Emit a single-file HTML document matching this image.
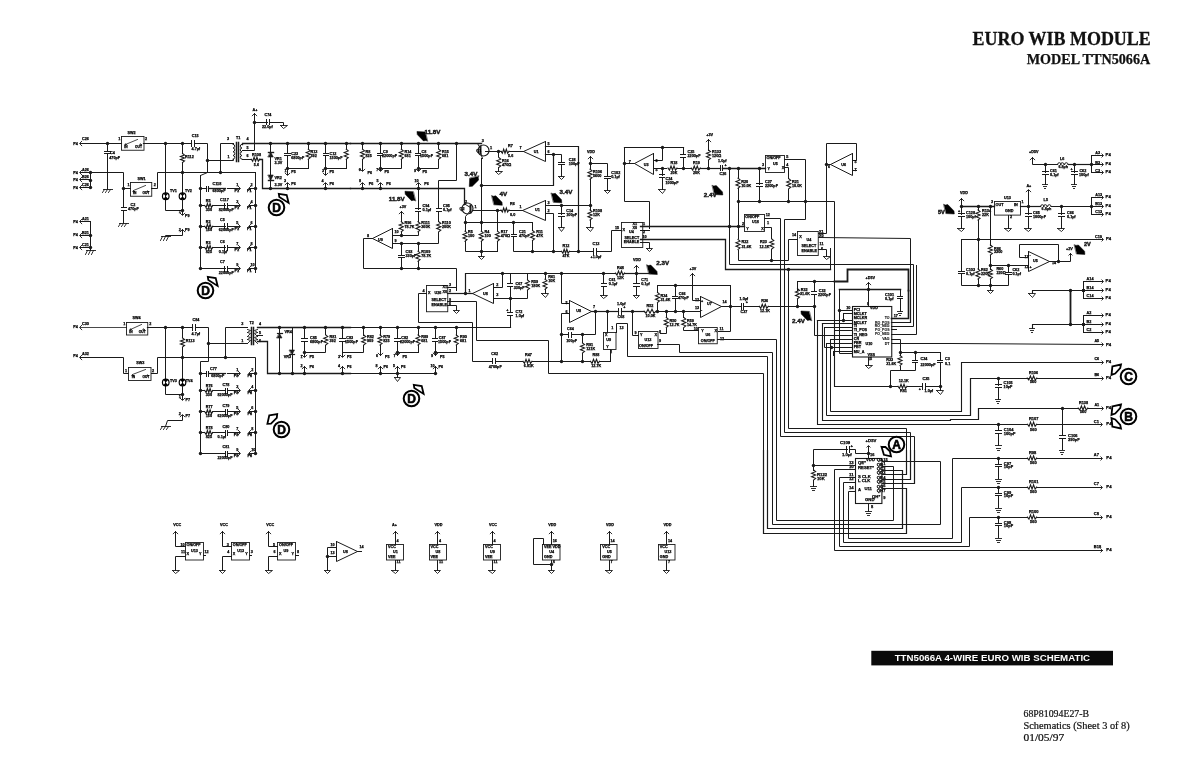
<!DOCTYPE html>
<html><head><meta charset="utf-8"><style>
html,body{margin:0;padding:0;background:#fff;}
body{width:1200px;height:774px;overflow:hidden;position:relative;}
svg{position:absolute;left:0;top:0;will-change:transform;}
.l{font-family:"Liberation Sans",sans-serif;font-weight:bold;fill:#000;stroke:#000;stroke-width:0.25px;}
</style></head><body>
<svg width="1200" height="774" viewBox="0 0 1200 774" stroke-linecap="square">
<text x="73.25" y="144.5" class="l" font-size="3.75">P4</text>
<text x="82" y="140" class="l" font-size="3.75">C26</text>
<path d="M81.75 141.25 L79.5 143.5 L81.75 145.75" stroke="#1a1a1a" stroke-width="0.9" fill="none"/>
<path d="M80.5 143.5 L121.5 143.5" stroke="#1a1a1a" stroke-width="1.1" fill="none"/>
<text x="127.5" y="133.75" class="l" font-size="3.75">SW2</text>
<text x="118.25" y="140" class="l" font-size="3.75">1</text>
<text x="145" y="140" class="l" font-size="3.75">2</text>
<rect x="121.5" y="136.5" width="22.5" height="13.75" stroke="#1a1a1a" stroke-width="0.9" fill="none"/>
<path d="M125.5 144.5 L137.5 139.5" stroke="#1a1a1a" stroke-width="0.8" fill="none"/>
<circle cx="125.5" cy="144.5" r="0.75" stroke="#1a1a1a" stroke-width="0.7" fill="none"/>
<circle cx="140.5" cy="144.5" r="0.75" stroke="#1a1a1a" stroke-width="0.7" fill="none"/>
<text x="124.25" y="148" class="l" font-size="3.25">IN</text>
<text x="135" y="148" class="l" font-size="3.25">OUT</text>
<path d="M143.5 143.5 L191.5 143.5" stroke="#1a1a1a" stroke-width="1.2" fill="none"/>
<circle cx="107.5" cy="143.5" r="1.7" fill="#1a1a1a"/>
<circle cx="165.5" cy="143.5" r="1.7" fill="#1a1a1a"/>
<circle cx="182.5" cy="143.5" r="1.7" fill="#1a1a1a"/>
<path d="M191.5 140.5 L191.5 146.5" stroke="#1a1a1a" stroke-width="1" fill="none"/>
<path d="M194.5 140.5 L194.5 146.5" stroke="#1a1a1a" stroke-width="1" fill="none"/>
<text x="191.75" y="137" class="l" font-size="3.75">C15</text>
<text x="191.5" y="150" class="l" font-size="3.75">4.7µf</text>
<path d="M194.5 143.5 L207.5 143.5 L207.5 172.5 L200.5 175.5" stroke="#1a1a1a" stroke-width="1" fill="none"/>
<path d="M200.5 175.5 L200.5 268.5" stroke="#1a1a1a" stroke-width="1" fill="none"/>
<circle cx="207.5" cy="160.5" r="1.7" fill="#1a1a1a"/>
<text x="227" y="140" class="l" font-size="3.75">3</text>
<text x="227.5" y="157.5" class="l" font-size="3.75">1</text>
<text x="236" y="138.75" class="l" font-size="3.75">T1</text>
<path d="M233.5 143.5 L220.5 143.5 L220.5 172.5" stroke="#1a1a1a" stroke-width="1" fill="none"/>
<path d="M233 144.25 a1.88 1.88 0 0 1 0 3.75 a1.88 1.88 0 0 1 0 3.75 a1.88 1.88 0 0 1 0 3.75 a1.88 1.88 0 0 1 0 3.75" stroke="#1a1a1a" stroke-width="1" fill="none"/>
<path d="M233.5 159.5 L233.5 160.5 L207.5 160.5" stroke="#1a1a1a" stroke-width="1" fill="none"/>
<path d="M236.5 142.5 L236.5 161.5" stroke="#1a1a1a" stroke-width="1.5" fill="none"/>
<path d="M238.5 142.5 L238.5 161.5" stroke="#1a1a1a" stroke-width="1.5" fill="none"/>
<path d="M242 144.25 a1.88 1.88 0 0 0 0 3.75 a1.88 1.88 0 0 0 0 3.75 a1.88 1.88 0 0 0 0 3.75 a1.88 1.88 0 0 0 0 3.75" stroke="#1a1a1a" stroke-width="1" fill="none"/>
<text x="246.5" y="140" class="l" font-size="3.75">4</text>
<text x="246.5" y="149" class="l" font-size="3.75">5</text>
<text x="246.5" y="157" class="l" font-size="3.75">6</text>
<path d="M242.5 144.5 L242.5 143.5 L350.5 143.5" stroke="#1a1a1a" stroke-width="1.3" fill="none"/>
<path d="M242.5 150.5 L254.5 150.5 L254.5 113.5" stroke="#1a1a1a" stroke-width="1" fill="none"/>
<path d="M252.25 115.75 L254.5 113.5 L256.75 115.75" stroke="#1a1a1a" stroke-width="0.9" fill="none"/>
<text x="252.5" y="110.5" class="l" font-size="3.75">A+</text>
<circle cx="254.5" cy="122.5" r="1.7" fill="#1a1a1a"/>
<path d="M254.5 122.5 L267.5 122.5" stroke="#1a1a1a" stroke-width="1" fill="none"/>
<path d="M266.5 119.5 L266.5 124.5" stroke="#1a1a1a" stroke-width="1" fill="none"/>
<path d="M269.5 119.5 L269.5 124.5" stroke="#1a1a1a" stroke-width="1" fill="none"/>
<text x="264.5" y="116.25" class="l" font-size="3.75">C74</text>
<text x="262" y="128" class="l" font-size="3.75">22.0µf</text>
<path d="M269.5 122.5 L283.5 122.5 L283.5 125.5" stroke="#1a1a1a" stroke-width="1" fill="none"/>
<path d="M280.5 125.5 L287.5 125.5 L283.5 128.5 L280.5 125.5" stroke="#1a1a1a" stroke-width="0.9" fill="none"/>
<circle cx="270.5" cy="143.5" r="1.7" fill="#1a1a1a"/>
<circle cx="287.5" cy="143.5" r="1.7" fill="#1a1a1a"/>
<circle cx="308.5" cy="143.5" r="1.7" fill="#1a1a1a"/>
<circle cx="325.5" cy="143.5" r="1.7" fill="#1a1a1a"/>
<circle cx="346.5" cy="143.5" r="1.7" fill="#1a1a1a"/>
<path d="M242.5 159.5 L251.5 159.5" stroke="#1a1a1a" stroke-width="1" fill="none"/>
<path d="M251.25 159.25 L252.67 161.25 L254.08 157.25 L255.5 161.25 L256.92 157.25 L258.33 161.25 L259.75 159.25" stroke="#1a1a1a" stroke-width="1.1" fill="none"/>
<text x="252" y="155.5" class="l" font-size="3.75">R108</text>
<text x="253.75" y="165.5" class="l" font-size="3.75">5.6</text>
<path d="M259.5 159.5 L262.5 159.5 L262.5 188.5 L350.5 188.5" stroke="#1a1a1a" stroke-width="1.3" fill="none"/>
<path d="M270.5 143.5 L270.5 188.5" stroke="#1a1a1a" stroke-width="1" fill="none"/>
<polygon points="268.25,157 273.25,157 270.75,152.25" fill="#1a1a1a" stroke="#1a1a1a" stroke-width="0.6"/>
<path d="M268.5 152.5 L273.5 152.5" stroke="#1a1a1a" stroke-width="1.4" fill="none"/>
<polygon points="268.25,175 273.25,175 270.75,180.25" fill="#1a1a1a" stroke="#1a1a1a" stroke-width="0.6"/>
<path d="M268.5 180.5 L273.5 180.5" stroke="#1a1a1a" stroke-width="1.4" fill="none"/>
<text x="274.5" y="159.5" class="l" font-size="3.75">VR1</text>
<text x="274.5" y="164" class="l" font-size="3.75">3.3V</text>
<text x="274.5" y="179" class="l" font-size="3.75">VR2</text>
<text x="274.5" y="186.25" class="l" font-size="3.75">3.3V</text>
<circle cx="270.5" cy="188.5" r="1.7" fill="#1a1a1a"/>
<path d="M287.5 143.5 L287.5 153.5" stroke="#1a1a1a" stroke-width="1" fill="none"/>
<path d="M284.5 153.5 L290.5 153.5" stroke="#1a1a1a" stroke-width="1" fill="none"/>
<path d="M284.5 155.5 L290.5 155.5" stroke="#1a1a1a" stroke-width="1" fill="none"/>
<path d="M287.5 155.5 L287.5 168.5" stroke="#1a1a1a" stroke-width="1" fill="none"/>
<text x="291.25" y="155" class="l" font-size="3.75">C23</text>
<text x="291.25" y="159" class="l" font-size="3.75">6800pF</text>
<path d="M308.5 143.5 L308.5 148.5" stroke="#1a1a1a" stroke-width="1" fill="none"/>
<path d="M308.25 149.25 L310.25 150.92 L306.25 152.58 L310.25 154.25 L306.25 155.92 L310.25 157.58 L308.25 159.25" stroke="#1a1a1a" stroke-width="1.1" fill="none"/>
<path d="M308.5 159.5 L308.5 168.5" stroke="#1a1a1a" stroke-width="1" fill="none"/>
<text x="310.5" y="152.5" class="l" font-size="3.75">R13</text>
<text x="310.5" y="157" class="l" font-size="3.75">392</text>
<path d="M287.5 168.5 L308.5 168.5" stroke="#1a1a1a" stroke-width="1" fill="none"/>
<circle cx="287.5" cy="168.5" r="1.7" fill="#1a1a1a"/>
<path d="M287.5 168.5 L287.5 174.5" stroke="#1a1a1a" stroke-width="1" fill="none"/>
<path d="M285.25 173.25 L287.5 175.5 L289.75 173.25" stroke="#1a1a1a" stroke-width="0.9" fill="none"/>
<text x="284.5" y="172" class="l" font-size="3.75">1</text>
<text x="291.25" y="173" class="l" font-size="3.75">P5</text>
<path d="M285.25 184.75 L287.5 182.5 L289.75 184.75" stroke="#1a1a1a" stroke-width="0.9" fill="none"/>
<path d="M287.5 183.5 L287.5 188.5" stroke="#1a1a1a" stroke-width="1" fill="none"/>
<circle cx="287.5" cy="188.5" r="1.7" fill="#1a1a1a"/>
<text x="284" y="181.5" class="l" font-size="3.75">3</text>
<text x="291.25" y="184.5" class="l" font-size="3.75">P6</text>
<path d="M325.5 143.5 L325.5 153.5" stroke="#1a1a1a" stroke-width="1" fill="none"/>
<path d="M323.5 153.5 L328.5 153.5" stroke="#1a1a1a" stroke-width="1" fill="none"/>
<path d="M323.5 155.5 L328.5 155.5" stroke="#1a1a1a" stroke-width="1" fill="none"/>
<path d="M325.5 155.5 L325.5 168.5" stroke="#1a1a1a" stroke-width="1" fill="none"/>
<text x="329.5" y="155" class="l" font-size="3.75">C12</text>
<text x="329.5" y="159" class="l" font-size="3.75">1500pF</text>
<path d="M346.5 143.5 L346.5 148.5" stroke="#1a1a1a" stroke-width="1" fill="none"/>
<path d="M346.25 149.25 L348.25 150.92 L344.25 152.58 L348.25 154.25 L344.25 155.92 L348.25 157.58 L346.25 159.25" stroke="#1a1a1a" stroke-width="1.1" fill="none"/>
<path d="M346.5 159.5 L346.5 168.5" stroke="#1a1a1a" stroke-width="1" fill="none"/>
<path d="M325.5 168.5 L346.5 168.5" stroke="#1a1a1a" stroke-width="1" fill="none"/>
<circle cx="325.5" cy="168.5" r="1.7" fill="#1a1a1a"/>
<path d="M325.5 168.5 L325.5 174.5" stroke="#1a1a1a" stroke-width="1" fill="none"/>
<path d="M323.25 173.25 L325.5 175.5 L327.75 173.25" stroke="#1a1a1a" stroke-width="0.9" fill="none"/>
<text x="322" y="172" class="l" font-size="3.75">3</text>
<text x="329.5" y="173" class="l" font-size="3.75">P5</text>
<path d="M323.25 184.75 L325.5 182.5 L327.75 184.75" stroke="#1a1a1a" stroke-width="0.9" fill="none"/>
<path d="M325.5 183.5 L325.5 188.5" stroke="#1a1a1a" stroke-width="1" fill="none"/>
<circle cx="325.5" cy="188.5" r="1.7" fill="#1a1a1a"/>
<text x="321.5" y="181.5" class="l" font-size="3.75">4</text>
<text x="329.5" y="184.5" class="l" font-size="3.75">P6</text>
<path d="M107.5 143.5 L107.5 151.5" stroke="#1a1a1a" stroke-width="1" fill="none"/>
<path d="M104.5 151.5 L110.5 151.5" stroke="#1a1a1a" stroke-width="1" fill="none"/>
<path d="M104.5 153.5 L110.5 153.5" stroke="#1a1a1a" stroke-width="1" fill="none"/>
<path d="M107.5 153.5 L107.5 188.5" stroke="#1a1a1a" stroke-width="1" fill="none"/>
<text x="110" y="153.75" class="l" font-size="3.75">C4</text>
<text x="109.25" y="158.75" class="l" font-size="3.75">470pF</text>
<path d="M103.5 189.5 L112.5 189.5" stroke="#1a1a1a" stroke-width="0.9" fill="none"/>
<path d="M104.5 189.5 L102.5 192.5" stroke="#1a1a1a" stroke-width="0.9" fill="none"/>
<path d="M107.5 189.5 L105.5 192.5" stroke="#1a1a1a" stroke-width="0.9" fill="none"/>
<path d="M110.5 189.5 L108.5 192.5" stroke="#1a1a1a" stroke-width="0.9" fill="none"/>
<text x="73.25" y="174" class="l" font-size="3.75">P4</text>
<text x="82" y="171" class="l" font-size="3.75">A26</text>
<path d="M81.75 170.25 L79.5 172.5 L81.75 174.75" stroke="#1a1a1a" stroke-width="0.9" fill="none"/>
<path d="M80.5 172.5 L90.5 172.5" stroke="#1a1a1a" stroke-width="1" fill="none"/>
<text x="73.25" y="181" class="l" font-size="3.75">P4</text>
<text x="82" y="178" class="l" font-size="3.75">B26</text>
<path d="M81.75 177.25 L79.5 179.5 L81.75 181.75" stroke="#1a1a1a" stroke-width="0.9" fill="none"/>
<path d="M80.5 179.5 L90.5 179.5" stroke="#1a1a1a" stroke-width="1" fill="none"/>
<text x="73.25" y="188.5" class="l" font-size="3.75">P4</text>
<text x="82" y="185.5" class="l" font-size="3.75">C26</text>
<path d="M81.75 185.25 L79.5 187.5 L81.75 189.75" stroke="#1a1a1a" stroke-width="0.9" fill="none"/>
<path d="M80.5 187.5 L90.5 187.5" stroke="#1a1a1a" stroke-width="1" fill="none"/>
<path d="M90.5 172.5 L90.5 187.5" stroke="#1a1a1a" stroke-width="1" fill="none"/>
<circle cx="90.5" cy="172.5" r="1.7" fill="#1a1a1a"/>
<circle cx="90.5" cy="180.5" r="1.7" fill="#1a1a1a"/>
<circle cx="90.5" cy="187.5" r="1.7" fill="#1a1a1a"/>
<path d="M90.5 172.5 L123.5 172.5 L123.5 188.5 L130.5 188.5" stroke="#1a1a1a" stroke-width="1" fill="none"/>
<circle cx="123.5" cy="188.5" r="1.7" fill="#1a1a1a"/>
<path d="M123.5 188.5 L123.5 207.5" stroke="#1a1a1a" stroke-width="1" fill="none"/>
<path d="M121.5 207.5 L126.5 207.5" stroke="#1a1a1a" stroke-width="1" fill="none"/>
<path d="M121.5 210.5 L126.5 210.5" stroke="#1a1a1a" stroke-width="1" fill="none"/>
<path d="M123.5 210.5 L123.5 222.5" stroke="#1a1a1a" stroke-width="1" fill="none"/>
<text x="130.5" y="205.5" class="l" font-size="3.75">C2</text>
<text x="128" y="210" class="l" font-size="3.75">470pF</text>
<path d="M119.5 223.5 L128.5 223.5" stroke="#1a1a1a" stroke-width="0.9" fill="none"/>
<path d="M120.5 223.5 L118.5 226.5" stroke="#1a1a1a" stroke-width="0.9" fill="none"/>
<path d="M123.5 223.5 L121.5 226.5" stroke="#1a1a1a" stroke-width="0.9" fill="none"/>
<path d="M126.5 223.5 L124.5 226.5" stroke="#1a1a1a" stroke-width="0.9" fill="none"/>
<text x="137.5" y="180" class="l" font-size="3.75">SW1</text>
<text x="127.5" y="186.25" class="l" font-size="3.75">1</text>
<text x="153.75" y="186.25" class="l" font-size="3.75">2</text>
<rect x="130.5" y="182.5" width="21.25" height="13.75" stroke="#1a1a1a" stroke-width="0.9" fill="none"/>
<path d="M133.5 190.5 L145.5 185.5" stroke="#1a1a1a" stroke-width="0.8" fill="none"/>
<circle cx="133.5" cy="191.5" r="0.75" stroke="#1a1a1a" stroke-width="0.7" fill="none"/>
<circle cx="147.5" cy="191.5" r="0.75" stroke="#1a1a1a" stroke-width="0.7" fill="none"/>
<text x="133" y="194.25" class="l" font-size="3.25">IN</text>
<text x="142.5" y="194.25" class="l" font-size="3.25">OUT</text>
<path d="M151.5 188.5 L157.5 188.5 L157.5 172.5 L255.5 172.5" stroke="#1a1a1a" stroke-width="1" fill="none"/>
<path d="M255.5 172.5 L255.5 272.5" stroke="#1a1a1a" stroke-width="1" fill="none"/>
<circle cx="182.5" cy="172.5" r="1.7" fill="#1a1a1a"/>
<circle cx="220.5" cy="172.5" r="1.7" fill="#1a1a1a"/>
<path d="M165.5 143.5 L165.5 210.5 L182.5 210.5" stroke="#1a1a1a" stroke-width="1" fill="none"/>
<circle cx="165.75" cy="196.25" r="3.3" stroke="#000" stroke-width="1.2" fill="none"/>
<polygon points="163.15,193.35 168.35,193.35 165.75,196.25" fill="#000"/>
<polygon points="163.15,199.15 168.35,199.15 165.75,196.25" fill="#000"/>
<text x="170" y="192" class="l" font-size="3.75">TV1</text>
<path d="M182.5 143.5 L182.5 153.5" stroke="#1a1a1a" stroke-width="1" fill="none"/>
<path d="M182.5 153.5 L184.5 155 L180.5 156.5 L184.5 158 L180.5 159.5 L184.5 161 L182.5 162.5" stroke="#1a1a1a" stroke-width="1.1" fill="none"/>
<path d="M182.5 162.5 L182.5 199.5" stroke="#1a1a1a" stroke-width="1" fill="none"/>
<text x="185" y="157.5" class="l" font-size="3.75">R112</text>
<circle cx="182.5" cy="196.25" r="3.3" stroke="#000" stroke-width="1.2" fill="none"/>
<polygon points="179.9,193.35 185.1,193.35 182.5,196.25" fill="#000"/>
<polygon points="179.9,199.15 185.1,199.15 182.5,196.25" fill="#000"/>
<path d="M182.5 199.5 L182.5 214.5" stroke="#1a1a1a" stroke-width="1" fill="none"/>
<circle cx="182.5" cy="210.5" r="1.7" fill="#1a1a1a"/>
<path d="M180.25 213.25 L182.5 215.5 L184.75 213.25" stroke="#1a1a1a" stroke-width="0.9" fill="none"/>
<text x="185" y="192" class="l" font-size="3.75">TV2</text>
<text x="178.75" y="213" class="l" font-size="3.75">1</text>
<text x="185" y="216.5" class="l" font-size="3.75">P9</text>
<path d="M161.5 236.5 L170.5 236.5" stroke="#1a1a1a" stroke-width="0.9" fill="none"/>
<path d="M162.5 236.5 L160.5 240.5" stroke="#1a1a1a" stroke-width="0.9" fill="none"/>
<path d="M165.5 236.5 L163.5 240.5" stroke="#1a1a1a" stroke-width="0.9" fill="none"/>
<path d="M168.5 236.5 L166.5 240.5" stroke="#1a1a1a" stroke-width="0.9" fill="none"/>
<path d="M165.5 236.5 L165.5 235.5 L182.5 235.5 L182.5 229.5" stroke="#1a1a1a" stroke-width="1" fill="none"/>
<path d="M180.25 231.75 L182.5 229.5 L184.75 231.75" stroke="#1a1a1a" stroke-width="0.9" fill="none"/>
<text x="178.75" y="230.5" class="l" font-size="3.75">2</text>
<text x="185" y="231" class="l" font-size="3.75">P9</text>
<text x="73.25" y="222.75" class="l" font-size="3.75">P4</text>
<text x="82" y="220.25" class="l" font-size="3.75">A21</text>
<path d="M81.75 219.25 L79.5 221.5 L81.75 223.75" stroke="#1a1a1a" stroke-width="0.9" fill="none"/>
<path d="M80.5 221.5 L90.5 221.5" stroke="#1a1a1a" stroke-width="1" fill="none"/>
<text x="73.25" y="236" class="l" font-size="3.75">P4</text>
<text x="82" y="233.5" class="l" font-size="3.75">B21</text>
<path d="M81.75 233.25 L79.5 235.5 L81.75 237.75" stroke="#1a1a1a" stroke-width="0.9" fill="none"/>
<path d="M80.5 235.5 L90.5 235.5" stroke="#1a1a1a" stroke-width="1" fill="none"/>
<text x="73.25" y="248.5" class="l" font-size="3.75">P4</text>
<text x="82" y="246" class="l" font-size="3.75">C21</text>
<path d="M81.75 245.25 L79.5 247.5 L81.75 249.75" stroke="#1a1a1a" stroke-width="0.9" fill="none"/>
<path d="M80.5 247.5 L90.5 247.5" stroke="#1a1a1a" stroke-width="1" fill="none"/>
<path d="M90.5 221.5 L90.5 250.5" stroke="#1a1a1a" stroke-width="1" fill="none"/>
<circle cx="90.5" cy="235.5" r="1.7" fill="#1a1a1a"/>
<circle cx="90.5" cy="247.5" r="1.7" fill="#1a1a1a"/>
<path d="M86.5 250.5 L95.5 250.5" stroke="#1a1a1a" stroke-width="0.9" fill="none"/>
<path d="M87.5 250.5 L85.5 254.5" stroke="#1a1a1a" stroke-width="0.9" fill="none"/>
<path d="M90.5 250.5 L88.5 254.5" stroke="#1a1a1a" stroke-width="0.9" fill="none"/>
<path d="M93.5 250.5 L91.5 254.5" stroke="#1a1a1a" stroke-width="0.9" fill="none"/>
<circle cx="200.5" cy="188.5" r="1.7" fill="#1a1a1a"/>
<path d="M200.5 188.5 L206.5 188.5" stroke="#1a1a1a" stroke-width="1" fill="none"/>
<path d="M206.5 186.5 L206.5 191.5" stroke="#1a1a1a" stroke-width="1" fill="none"/>
<path d="M208.5 186.5 L208.5 191.5" stroke="#1a1a1a" stroke-width="1" fill="none"/>
<text x="212.5" y="185.25" class="l" font-size="3.75">C118</text>
<text x="212.5" y="192.25" class="l" font-size="3.75">6800pF</text>
<path d="M208.5 188.5 L225.5 188.5" stroke="#1a1a1a" stroke-width="1.3" fill="none"/>
<path d="M227.5 188.5 L239.5 188.5" stroke="#1a1a1a" stroke-width="1" fill="none"/>
<path d="M238.25 186.25 L240.5 188.5 L238.25 190.75" stroke="#1a1a1a" stroke-width="0.9" fill="none"/>
<text x="236.25" y="186.25" class="l" font-size="3.75">1</text>
<text x="234.5" y="192.25" class="l" font-size="3.75">P1</text>
<path d="M250.75 186.25 L248.5 188.5 L250.75 190.75" stroke="#1a1a1a" stroke-width="0.9" fill="none"/>
<path d="M249.5 188.5 L255.5 188.5" stroke="#1a1a1a" stroke-width="1" fill="none"/>
<circle cx="255.5" cy="188.5" r="1.7" fill="#1a1a1a"/>
<text x="250.5" y="186.25" class="l" font-size="3.75">2</text>
<text x="247" y="192.25" class="l" font-size="3.75">P1</text>
<circle cx="200.5" cy="205.5" r="1.7" fill="#1a1a1a"/>
<path d="M200.5 205.5 L204.5 205.5" stroke="#1a1a1a" stroke-width="1" fill="none"/>
<path d="M204.75 205.5 L206.08 207.5 L207.42 203.5 L208.75 207.5 L210.08 203.5 L211.42 207.5 L212.75 205.5" stroke="#1a1a1a" stroke-width="1.1" fill="none"/>
<text x="205.75" y="202" class="l" font-size="3.75">R5</text>
<text x="205.75" y="210.5" class="l" font-size="3.75">330</text>
<path d="M212.5 205.5 L225.5 205.5" stroke="#1a1a1a" stroke-width="1" fill="none"/>
<path d="M224.5 203.5 L224.5 208.5" stroke="#1a1a1a" stroke-width="1" fill="none"/>
<path d="M227.5 203.5 L227.5 208.5" stroke="#1a1a1a" stroke-width="1" fill="none"/>
<text x="220" y="200.5" class="l" font-size="3.75">C117</text>
<text x="218.75" y="210.5" class="l" font-size="3.75">82000pF</text>
<path d="M227.5 205.5 L239.5 205.5" stroke="#1a1a1a" stroke-width="1" fill="none"/>
<path d="M238.25 203.25 L240.5 205.5 L238.25 207.75" stroke="#1a1a1a" stroke-width="0.9" fill="none"/>
<text x="236.25" y="203" class="l" font-size="3.75">3</text>
<text x="234.5" y="209" class="l" font-size="3.75">P1</text>
<path d="M250.75 203.25 L248.5 205.5 L250.75 207.75" stroke="#1a1a1a" stroke-width="0.9" fill="none"/>
<path d="M249.5 205.5 L255.5 205.5" stroke="#1a1a1a" stroke-width="1" fill="none"/>
<circle cx="255.5" cy="205.5" r="1.7" fill="#1a1a1a"/>
<text x="250.5" y="203" class="l" font-size="3.75">4</text>
<text x="247" y="209" class="l" font-size="3.75">P1</text>
<circle cx="200.5" cy="226.5" r="1.7" fill="#1a1a1a"/>
<path d="M200.5 226.5 L204.5 226.5" stroke="#1a1a1a" stroke-width="1" fill="none"/>
<path d="M204.75 226.25 L206.08 228.25 L207.42 224.25 L208.75 228.25 L210.08 224.25 L211.42 228.25 L212.75 226.25" stroke="#1a1a1a" stroke-width="1.1" fill="none"/>
<text x="205.75" y="222.75" class="l" font-size="3.75">R2</text>
<text x="205.75" y="231.25" class="l" font-size="3.75">150</text>
<path d="M212.5 226.5 L225.5 226.5" stroke="#1a1a1a" stroke-width="1" fill="none"/>
<path d="M224.5 223.5 L224.5 228.5" stroke="#1a1a1a" stroke-width="1" fill="none"/>
<path d="M227.5 223.5 L227.5 228.5" stroke="#1a1a1a" stroke-width="1" fill="none"/>
<text x="220" y="221.25" class="l" font-size="3.75">C5</text>
<text x="218.75" y="231.25" class="l" font-size="3.75">62000pF</text>
<path d="M227.5 226.5 L239.5 226.5" stroke="#1a1a1a" stroke-width="1" fill="none"/>
<path d="M238.25 224.25 L240.5 226.5 L238.25 228.75" stroke="#1a1a1a" stroke-width="0.9" fill="none"/>
<text x="236.25" y="223.75" class="l" font-size="3.75">5</text>
<text x="234.5" y="229.75" class="l" font-size="3.75">P1</text>
<path d="M250.75 224.25 L248.5 226.5 L250.75 228.75" stroke="#1a1a1a" stroke-width="0.9" fill="none"/>
<path d="M249.5 226.5 L255.5 226.5" stroke="#1a1a1a" stroke-width="1" fill="none"/>
<circle cx="255.5" cy="226.5" r="1.7" fill="#1a1a1a"/>
<text x="250.5" y="223.75" class="l" font-size="3.75">6</text>
<text x="247" y="229.75" class="l" font-size="3.75">P1</text>
<circle cx="200.5" cy="247.5" r="1.7" fill="#1a1a1a"/>
<path d="M200.5 247.5 L204.5 247.5" stroke="#1a1a1a" stroke-width="1" fill="none"/>
<path d="M204.75 247.5 L206.08 249.5 L207.42 245.5 L208.75 249.5 L210.08 245.5 L211.42 249.5 L212.75 247.5" stroke="#1a1a1a" stroke-width="1.1" fill="none"/>
<text x="205.75" y="244" class="l" font-size="3.75">R3</text>
<text x="205.75" y="252.5" class="l" font-size="3.75">825</text>
<path d="M212.5 247.5 L225.5 247.5" stroke="#1a1a1a" stroke-width="1" fill="none"/>
<path d="M224.5 245.5 L224.5 250.5" stroke="#1a1a1a" stroke-width="1" fill="none"/>
<path d="M227.5 245.5 L227.5 250.5" stroke="#1a1a1a" stroke-width="1" fill="none"/>
<text x="220" y="242.5" class="l" font-size="3.75">C6</text>
<text x="218.75" y="252.5" class="l" font-size="3.75">0.1µf</text>
<path d="M227.5 247.5 L239.5 247.5" stroke="#1a1a1a" stroke-width="1" fill="none"/>
<path d="M238.25 245.25 L240.5 247.5 L238.25 249.75" stroke="#1a1a1a" stroke-width="0.9" fill="none"/>
<text x="236.25" y="245" class="l" font-size="3.75">7</text>
<text x="234.5" y="251" class="l" font-size="3.75">P1</text>
<path d="M250.75 245.25 L248.5 247.5 L250.75 249.75" stroke="#1a1a1a" stroke-width="0.9" fill="none"/>
<path d="M249.5 247.5 L255.5 247.5" stroke="#1a1a1a" stroke-width="1" fill="none"/>
<circle cx="255.5" cy="247.5" r="1.7" fill="#1a1a1a"/>
<text x="250.5" y="245" class="l" font-size="3.75">8</text>
<text x="247" y="251" class="l" font-size="3.75">P1</text>
<circle cx="200.5" cy="268.5" r="1.7" fill="#1a1a1a"/>
<path d="M200.5 268.5 L225.5 268.5" stroke="#1a1a1a" stroke-width="1" fill="none"/>
<path d="M224.5 266.5 L224.5 271.5" stroke="#1a1a1a" stroke-width="1" fill="none"/>
<path d="M227.5 266.5 L227.5 271.5" stroke="#1a1a1a" stroke-width="1" fill="none"/>
<text x="220" y="263.25" class="l" font-size="3.75">C7</text>
<text x="218.75" y="274.25" class="l" font-size="3.75">22000pF</text>
<path d="M227.5 268.5 L239.5 268.5" stroke="#1a1a1a" stroke-width="1" fill="none"/>
<path d="M238.25 266.25 L240.5 268.5 L238.25 270.75" stroke="#1a1a1a" stroke-width="0.9" fill="none"/>
<text x="236.25" y="266.25" class="l" font-size="3.75">9</text>
<text x="234.5" y="272.25" class="l" font-size="3.75">P1</text>
<path d="M250.75 266.25 L248.5 268.5 L250.75 270.75" stroke="#1a1a1a" stroke-width="0.9" fill="none"/>
<path d="M249.5 268.5 L255.5 268.5" stroke="#1a1a1a" stroke-width="1" fill="none"/>
<circle cx="255.5" cy="268.5" r="1.7" fill="#1a1a1a"/>
<text x="250.5" y="266.25" class="l" font-size="3.75">10</text>
<text x="247" y="272.25" class="l" font-size="3.75">P1</text>
<circle cx="276.5" cy="207.5" r="7.8" stroke="#000" stroke-width="2" fill="none"/>
<text x="276.5" y="211.8" font-size="12" font-family="Liberation Sans" font-weight="bold" text-anchor="middle" fill="#000" stroke="#000" stroke-width="0.6">D</text>
<path d="M278.8 193.9 L286.7 195 L288.6 202.9 L279.3 196.9 Z" stroke="#000" stroke-width="1.8" fill="#fff" stroke-linejoin="miter"/>
<circle cx="205.5" cy="290.5" r="7.8" stroke="#000" stroke-width="2" fill="none"/>
<text x="205.5" y="294.8" font-size="12" font-family="Liberation Sans" font-weight="bold" text-anchor="middle" fill="#000" stroke="#000" stroke-width="0.6">D</text>
<path d="M207.8 276.9 L215.7 278 L217.6 285.9 L208.3 279.9 Z" stroke="#000" stroke-width="1.8" fill="#fff" stroke-linejoin="miter"/>
<path d="M350.5 143.5 L481.5 143.5" stroke="#1a1a1a" stroke-width="1.3" fill="none"/>
<circle cx="362.5" cy="143.5" r="1.7" fill="#1a1a1a"/>
<circle cx="380.5" cy="143.5" r="1.7" fill="#1a1a1a"/>
<circle cx="401.5" cy="143.5" r="1.7" fill="#1a1a1a"/>
<circle cx="418.5" cy="143.5" r="1.7" fill="#1a1a1a"/>
<circle cx="438.5" cy="143.5" r="1.7" fill="#1a1a1a"/>
<circle cx="456.5" cy="143.5" r="1.7" fill="#1a1a1a"/>
<path d="M362.5 143.5 L362.5 148.5" stroke="#1a1a1a" stroke-width="1" fill="none"/>
<path d="M362.5 149.25 L364.5 150.92 L360.5 152.58 L364.5 154.25 L360.5 155.92 L364.5 157.58 L362.5 159.25" stroke="#1a1a1a" stroke-width="1.1" fill="none"/>
<path d="M362.5 159.5 L362.5 170.5" stroke="#1a1a1a" stroke-width="1" fill="none"/>
<path d="M360.25 169.25 L362.5 171.5 L364.75 169.25" stroke="#1a1a1a" stroke-width="0.9" fill="none"/>
<text x="365.5" y="152.5" class="l" font-size="3.75">R8</text>
<text x="365.5" y="156.5" class="l" font-size="3.75">825</text>
<text x="358.75" y="170.5" class="l" font-size="3.75">6</text>
<text x="367.5" y="173.5" class="l" font-size="3.75">P6</text>
<path d="M380.5 143.5 L380.5 153.5" stroke="#1a1a1a" stroke-width="1" fill="none"/>
<path d="M377.5 153.5 L382.5 153.5" stroke="#1a1a1a" stroke-width="1" fill="none"/>
<path d="M377.5 155.5 L382.5 155.5" stroke="#1a1a1a" stroke-width="1" fill="none"/>
<path d="M380.5 155.5 L380.5 170.5" stroke="#1a1a1a" stroke-width="1" fill="none"/>
<path d="M378.25 169.25 L380.5 171.5 L382.75 169.25" stroke="#1a1a1a" stroke-width="0.9" fill="none"/>
<circle cx="380.5" cy="168.5" r="1.7" fill="#1a1a1a"/>
<text x="383" y="153" class="l" font-size="3.75">C9</text>
<text x="382" y="157" class="l" font-size="3.75">22000pF</text>
<text x="376.25" y="170.5" class="l" font-size="3.75">7</text>
<text x="384.5" y="172.5" class="l" font-size="3.75">P5</text>
<path d="M401.5 143.5 L401.5 148.5" stroke="#1a1a1a" stroke-width="1" fill="none"/>
<path d="M401.25 149.25 L403.25 150.92 L399.25 152.58 L403.25 154.25 L399.25 155.92 L403.25 157.58 L401.25 159.25" stroke="#1a1a1a" stroke-width="1.1" fill="none"/>
<path d="M401.5 159.5 L401.5 168.5 L380.5 168.5" stroke="#1a1a1a" stroke-width="1" fill="none"/>
<text x="404.5" y="152.5" class="l" font-size="3.75">R14</text>
<text x="404.5" y="156.5" class="l" font-size="3.75">681</text>
<path d="M418.5 143.5 L418.5 153.5" stroke="#1a1a1a" stroke-width="1" fill="none"/>
<path d="M415.5 153.5 L420.5 153.5" stroke="#1a1a1a" stroke-width="1" fill="none"/>
<path d="M415.5 155.5 L420.5 155.5" stroke="#1a1a1a" stroke-width="1" fill="none"/>
<path d="M418.5 155.5 L418.5 170.5" stroke="#1a1a1a" stroke-width="1" fill="none"/>
<path d="M416.25 169.25 L418.5 171.5 L420.75 169.25" stroke="#1a1a1a" stroke-width="0.9" fill="none"/>
<circle cx="418.5" cy="168.5" r="1.7" fill="#1a1a1a"/>
<text x="421.5" y="153" class="l" font-size="3.75">C8</text>
<text x="420" y="157" class="l" font-size="3.75">1500pF</text>
<text x="414" y="172" class="l" font-size="3.75">9</text>
<text x="422.5" y="172.5" class="l" font-size="3.75">P5</text>
<path d="M438.5 143.5 L438.5 148.5" stroke="#1a1a1a" stroke-width="1" fill="none"/>
<path d="M438.75 149.25 L440.75 150.92 L436.75 152.58 L440.75 154.25 L436.75 155.92 L440.75 157.58 L438.75 159.25" stroke="#1a1a1a" stroke-width="1.1" fill="none"/>
<path d="M438.5 159.5 L438.5 168.5 L418.5 168.5" stroke="#1a1a1a" stroke-width="1" fill="none"/>
<text x="442" y="152.5" class="l" font-size="3.75">R15</text>
<text x="442" y="156.5" class="l" font-size="3.75">681</text>
<polygon points="427.35,141.1 425.85,140.5 423.45,140.9 417.25,134.6 416.95,131.5 425.05,131.9" fill="#000" stroke="#000" stroke-width="0.5" stroke-linejoin="round"/>
<text x="424.5" y="133.5" font-size="6.25" font-family="Liberation Sans" font-weight="bold" text-anchor="start" fill="#1a1a1a" stroke="#1a1a1a" stroke-width="0.45">11.8V</text>
<path d="M456.5 143.5 L456.5 180.5 L438.5 180.5 L438.5 208.5" stroke="#1a1a1a" stroke-width="1" fill="none"/>
<path d="M438.5 211.5 L438.5 221.5" stroke="#1a1a1a" stroke-width="1" fill="none"/>
<path d="M438.75 221.75 L440.75 223.42 L436.75 225.08 L440.75 226.75 L436.75 228.42 L440.75 230.08 L438.75 231.75" stroke="#1a1a1a" stroke-width="1.1" fill="none"/>
<path d="M438.5 232.5 L438.5 243.5 L392.5 243.5" stroke="#1a1a1a" stroke-width="1" fill="none"/>
<path d="M436.5 208.5 L441.5 208.5" stroke="#1a1a1a" stroke-width="1" fill="none"/>
<path d="M436.5 211.5 L441.5 211.5" stroke="#1a1a1a" stroke-width="1" fill="none"/>
<text x="443" y="207" class="l" font-size="3.75">C95</text>
<text x="443" y="211" class="l" font-size="3.75">0.1µf</text>
<text x="442" y="224" class="l" font-size="3.75">R110</text>
<text x="442" y="228" class="l" font-size="3.75">200K</text>
<path d="M350.5 188.5 L464.5 188.5 L464.5 204.5" stroke="#1a1a1a" stroke-width="1.3" fill="none"/>
<circle cx="362.5" cy="188.5" r="1.7" fill="#1a1a1a"/>
<circle cx="380.5" cy="188.5" r="1.7" fill="#1a1a1a"/>
<circle cx="418.5" cy="188.5" r="1.7" fill="#1a1a1a"/>
<path d="M360.25 184.75 L362.5 182.5 L364.75 184.75" stroke="#1a1a1a" stroke-width="0.9" fill="none"/>
<path d="M362.5 183.5 L362.5 188.5" stroke="#1a1a1a" stroke-width="1" fill="none"/>
<text x="359" y="181.5" class="l" font-size="3.75">8</text>
<text x="368.75" y="184.5" class="l" font-size="3.75">P6</text>
<path d="M378.25 184.75 L380.5 182.5 L382.75 184.75" stroke="#1a1a1a" stroke-width="0.9" fill="none"/>
<path d="M380.5 183.5 L380.5 188.5" stroke="#1a1a1a" stroke-width="1" fill="none"/>
<text x="376.5" y="181.5" class="l" font-size="3.75">5</text>
<text x="386.25" y="184.5" class="l" font-size="3.75">P6</text>
<path d="M416.25 184.75 L418.5 182.5 L420.75 184.75" stroke="#1a1a1a" stroke-width="0.9" fill="none"/>
<path d="M418.5 183.5 L418.5 188.5" stroke="#1a1a1a" stroke-width="1" fill="none"/>
<text x="414.5" y="181.5" class="l" font-size="3.75">10</text>
<text x="424.25" y="184.5" class="l" font-size="3.75">P6</text>
<path d="M418.5 188.5 L418.5 209.5" stroke="#1a1a1a" stroke-width="1" fill="none"/>
<path d="M415.5 208.5 L420.5 208.5" stroke="#1a1a1a" stroke-width="1" fill="none"/>
<path d="M415.5 211.5 L420.5 211.5" stroke="#1a1a1a" stroke-width="1" fill="none"/>
<path d="M418.5 211.5 L418.5 221.5" stroke="#1a1a1a" stroke-width="1" fill="none"/>
<path d="M418 221.75 L420 223.42 L416 225.08 L420 226.75 L416 228.42 L420 230.08 L418 231.75" stroke="#1a1a1a" stroke-width="1.1" fill="none"/>
<path d="M418.5 232.5 L418.5 235.5 L392.5 235.5" stroke="#1a1a1a" stroke-width="1" fill="none"/>
<text x="422.5" y="207" class="l" font-size="3.75">C94</text>
<text x="422.5" y="211" class="l" font-size="3.75">0.1µf</text>
<text x="421.25" y="224" class="l" font-size="3.75">R111</text>
<text x="421.25" y="228" class="l" font-size="3.75">360K</text>
<polygon points="415.35,200.85 413.85,200.25 411.45,200.65 405.25,194.35 404.95,191.25 413.05,191.65" fill="#000" stroke="#000" stroke-width="0.5" stroke-linejoin="round"/>
<text x="388.75" y="201.25" font-size="6.25" font-family="Liberation Sans" font-weight="bold" text-anchor="start" fill="#1a1a1a" stroke="#1a1a1a" stroke-width="0.45">11.8V</text>
<path d="M399.25 213.75 L401.5 211.5 L403.75 213.75" stroke="#1a1a1a" stroke-width="0.9" fill="none"/>
<text x="399.5" y="207.5" class="l" font-size="3.75">+3V</text>
<path d="M401.5 211.5 L401.5 221.5" stroke="#1a1a1a" stroke-width="1" fill="none"/>
<path d="M401.25 221.75 L403.25 223.42 L399.25 225.08 L403.25 226.75 L399.25 228.42 L403.25 230.08 L401.25 231.75" stroke="#1a1a1a" stroke-width="1.1" fill="none"/>
<path d="M401.5 232.5 L401.5 235.5" stroke="#1a1a1a" stroke-width="1" fill="none"/>
<circle cx="401.5" cy="235.5" r="1.7" fill="#1a1a1a"/>
<circle cx="401.5" cy="243.5" r="1.7" fill="#1a1a1a"/>
<circle cx="418.5" cy="243.5" r="1.7" fill="#1a1a1a"/>
<text x="404.5" y="224" class="l" font-size="3.75">R96</text>
<text x="404.5" y="228" class="l" font-size="3.75">78.7K</text>
<path d="M392.5 228.5 L372.5 238.5 L392.5 248.5 L392.5 228.5" stroke="#1a1a1a" stroke-width="1" fill="none"/>
<text x="378" y="240.5" class="l" font-size="3.75">U9</text>
<text x="394.5" y="233" class="l" font-size="3.75">10</text>
<text x="394.5" y="241.5" class="l" font-size="3.75">9</text>
<text x="367" y="237" class="l" font-size="3.75">8</text>
<path d="M372.5 238.5 L363.5 238.5 L363.5 268.5 L456.5 268.5 L456.5 290.5" stroke="#1a1a1a" stroke-width="1" fill="none"/>
<path d="M401.5 243.5 L401.5 255.5" stroke="#1a1a1a" stroke-width="1" fill="none"/>
<path d="M398.5 255.5 L404.5 255.5" stroke="#1a1a1a" stroke-width="1" fill="none"/>
<path d="M398.5 257.5 L404.5 257.5" stroke="#1a1a1a" stroke-width="1" fill="none"/>
<path d="M401.5 257.5 L401.5 268.5" stroke="#1a1a1a" stroke-width="1" fill="none"/>
<path d="M418.5 243.5 L418.5 250.5" stroke="#1a1a1a" stroke-width="1" fill="none"/>
<path d="M418 251.25 L420 252.92 L416 254.58 L420 256.25 L416 257.92 L420 259.58 L418 261.25" stroke="#1a1a1a" stroke-width="1.1" fill="none"/>
<path d="M418.5 261.5 L418.5 268.5" stroke="#1a1a1a" stroke-width="1" fill="none"/>
<circle cx="401.5" cy="268.5" r="1.7" fill="#1a1a1a"/>
<circle cx="418.5" cy="268.5" r="1.7" fill="#1a1a1a"/>
<text x="405.5" y="253" class="l" font-size="3.75">C93</text>
<text x="405.5" y="257" class="l" font-size="3.75">330pF</text>
<text x="421.25" y="253" class="l" font-size="3.75">R109</text>
<text x="421.25" y="257" class="l" font-size="3.75">78.7K</text>
<circle cx="483.5" cy="150.5" r="5.5" stroke="#1a1a1a" stroke-width="1.2" fill="none"/>
<path d="M480.5 146.5 L480.5 153.5" stroke="#1a1a1a" stroke-width="2" fill="none"/>
<path d="M480.5 148.5 L477.5 143.5 L481.5 143.5" stroke="#1a1a1a" stroke-width="1" fill="none"/>
<path d="M480.5 152.5 L482.5 158.5" stroke="#1a1a1a" stroke-width="1" fill="none"/>
<path d="M481.5 158.5 L481.5 230.5" stroke="#1a1a1a" stroke-width="1" fill="none"/>
<path d="M481.5 241.5 L481.5 251.5" stroke="#1a1a1a" stroke-width="1" fill="none"/>
<path d="M485.5 151.5 L498.5 151.5" stroke="#1a1a1a" stroke-width="1" fill="none"/>
<text x="476.25" y="152" class="l" font-size="3.75">Q1</text>
<text x="481.75" y="142" class="l" font-size="3.75">3</text>
<text x="490" y="149" class="l" font-size="3.75">1</text>
<circle cx="498.5" cy="151.5" r="1.7" fill="#1a1a1a"/>
<path d="M501 151.25 L502.33 153.25 L503.67 149.25 L505 153.25 L506.33 149.25 L507.67 153.25 L509 151.25" stroke="#1a1a1a" stroke-width="1.1" fill="none"/>
<path d="M501.5 151.5 L498.5 151.5" stroke="#1a1a1a" stroke-width="1" fill="none"/>
<path d="M509.5 151.5 L523.5 151.5" stroke="#1a1a1a" stroke-width="1" fill="none"/>
<text x="508" y="146.5" class="l" font-size="3.75">R7</text>
<text x="508" y="156.5" class="l" font-size="3.75">5.6</text>
<text x="519.5" y="149" class="l" font-size="3.75">7</text>
<path d="M498.5 151.5 L498.5 156.5" stroke="#1a1a1a" stroke-width="1" fill="none"/>
<path d="M498.75 157.5 L500.75 159.17 L496.75 160.83 L500.75 162.5 L496.75 164.17 L500.75 165.83 L498.75 167.5" stroke="#1a1a1a" stroke-width="1.1" fill="none"/>
<path d="M498.5 167.5 L498.5 171.5" stroke="#1a1a1a" stroke-width="1" fill="none"/>
<path d="M495.5 171.5 L502.5 171.5 L498.5 174.5 L495.5 171.5" stroke="#1a1a1a" stroke-width="0.9" fill="none"/>
<text x="502" y="162" class="l" font-size="3.75">R16</text>
<text x="502" y="166" class="l" font-size="3.75">470Ω</text>
<path d="M545.5 141.5 L523.5 151.5 L545.5 161.5 L545.5 141.5" stroke="#1a1a1a" stroke-width="1" fill="none"/>
<text x="533.75" y="152.5" class="l" font-size="3.75">U1</text>
<text x="547.5" y="145" class="l" font-size="3.75">5</text>
<text x="547.5" y="153" class="l" font-size="3.75">6</text>
<path d="M545.5 146.5 L578.5 146.5 L578.5 251.5" stroke="#1a1a1a" stroke-width="1.2" fill="none"/>
<path d="M545.5 154.5 L553.5 154.5 L553.5 185.5 L481.5 185.5" stroke="#1a1a1a" stroke-width="1.2" fill="none"/>
<circle cx="553.5" cy="154.5" r="1.7" fill="#1a1a1a"/>
<circle cx="481.5" cy="185.5" r="1.7" fill="#1a1a1a"/>
<path d="M553.5 154.5 L561.5 154.5 L561.5 162.5" stroke="#1a1a1a" stroke-width="1" fill="none"/>
<path d="M558.5 162.5 L564.5 162.5" stroke="#1a1a1a" stroke-width="1" fill="none"/>
<path d="M558.5 164.5 L564.5 164.5" stroke="#1a1a1a" stroke-width="1" fill="none"/>
<path d="M561.5 164.5 L561.5 176.5" stroke="#1a1a1a" stroke-width="1" fill="none"/>
<path d="M558.5 176.5 L564.5 176.5 L561.5 179.5 L558.5 176.5" stroke="#1a1a1a" stroke-width="0.9" fill="none"/>
<text x="568.75" y="160.5" class="l" font-size="3.75">C28</text>
<text x="568.75" y="164.5" class="l" font-size="3.75">100pF</text>
<polygon points="478.85,176.15 478.25,177.65 478.65,180.05 472.35,186.25 469.25,186.55 469.65,178.45" fill="#000" stroke="#000" stroke-width="0.5" stroke-linejoin="round"/>
<text x="464.5" y="175.75" font-size="6.25" font-family="Liberation Sans" font-weight="bold" text-anchor="start" fill="#1a1a1a" stroke="#1a1a1a" stroke-width="0.45">3.4V</text>
<circle cx="467.5" cy="208.5" r="5.5" stroke="#1a1a1a" stroke-width="1.2" fill="none"/>
<path d="M470.5 205.5 L470.5 212.5" stroke="#1a1a1a" stroke-width="2" fill="none"/>
<path d="M470.5 207.5 L465.5 204.5" stroke="#1a1a1a" stroke-width="1" fill="none"/>
<path d="M470.5 210.5 L465.5 216.5 L465.5 222.5" stroke="#1a1a1a" stroke-width="1" fill="none"/>
<path d="M472.5 210.5 L497.5 210.5" stroke="#1a1a1a" stroke-width="1" fill="none"/>
<text x="459.5" y="209.5" class="l" font-size="3.75">Q2</text>
<text x="465" y="203" class="l" font-size="3.75">2</text>
<text x="474.5" y="208" class="l" font-size="3.75">1</text>
<circle cx="497.5" cy="210.5" r="1.7" fill="#1a1a1a"/>
<path d="M497.5 210.5 L501.5 210.5" stroke="#1a1a1a" stroke-width="1" fill="none"/>
<path d="M501 210 L502.33 212 L503.67 208 L505 212 L506.33 208 L507.67 212 L509 210" stroke="#1a1a1a" stroke-width="1.1" fill="none"/>
<path d="M509.5 210.5 L522.5 210.5" stroke="#1a1a1a" stroke-width="1" fill="none"/>
<text x="510" y="205" class="l" font-size="3.75">R6</text>
<text x="510" y="215.5" class="l" font-size="3.75">0.0</text>
<text x="519.5" y="207.5" class="l" font-size="3.75">1</text>
<polygon points="491.9,195.65 493.4,196.25 495.8,195.85 502,202.15 502.3,205.25 494.2,204.85" fill="#000" stroke="#000" stroke-width="0.5" stroke-linejoin="round"/>
<text x="499.5" y="196.25" font-size="6.25" font-family="Liberation Sans" font-weight="bold" text-anchor="start" fill="#1a1a1a" stroke="#1a1a1a" stroke-width="0.45">4V</text>
<path d="M545.5 200.5 L522.5 210.5 L545.5 220.5 L545.5 200.5" stroke="#1a1a1a" stroke-width="1" fill="none"/>
<text x="535" y="211.25" class="l" font-size="3.75">U1</text>
<text x="547.5" y="204" class="l" font-size="3.75">3</text>
<text x="547.5" y="212" class="l" font-size="3.75">2</text>
<path d="M545.5 205.5 L590.5 205.5" stroke="#1a1a1a" stroke-width="1" fill="none"/>
<circle cx="561.5" cy="205.5" r="1.7" fill="#1a1a1a"/>
<circle cx="590.5" cy="205.5" r="1.7" fill="#1a1a1a"/>
<path d="M561.5 205.5 L561.5 214.5" stroke="#1a1a1a" stroke-width="1" fill="none"/>
<path d="M558.5 213.5 L564.5 213.5" stroke="#1a1a1a" stroke-width="1" fill="none"/>
<path d="M558.5 216.5 L564.5 216.5" stroke="#1a1a1a" stroke-width="1" fill="none"/>
<path d="M561.5 216.5 L561.5 227.5" stroke="#1a1a1a" stroke-width="1" fill="none"/>
<path d="M558.5 227.5 L564.5 227.5 L561.5 231.5 L558.5 227.5" stroke="#1a1a1a" stroke-width="0.9" fill="none"/>
<text x="566.25" y="212" class="l" font-size="3.75">C14</text>
<text x="566.25" y="216" class="l" font-size="3.75">100pF</text>
<polygon points="551.4,193.15 552.9,193.75 555.3,193.35 561.5,199.65 561.8,202.75 553.7,202.35" fill="#000" stroke="#000" stroke-width="0.5" stroke-linejoin="round"/>
<text x="559.5" y="193.5" font-size="6.25" font-family="Liberation Sans" font-weight="bold" text-anchor="start" fill="#1a1a1a" stroke="#1a1a1a" stroke-width="0.45">3.4V</text>
<path d="M545.5 213.5 L553.5 213.5 L553.5 251.5" stroke="#1a1a1a" stroke-width="1" fill="none"/>
<path d="M465.5 222.5 L532.5 222.5" stroke="#1a1a1a" stroke-width="1" fill="none"/>
<circle cx="465.5" cy="222.5" r="1.7" fill="#1a1a1a"/>
<circle cx="481.5" cy="222.5" r="1.7" fill="#1a1a1a"/>
<circle cx="513.5" cy="222.5" r="1.7" fill="#1a1a1a"/>
<path d="M465.5 222.5 L465.5 230.5" stroke="#1a1a1a" stroke-width="1" fill="none"/>
<path d="M465 231.25 L467 232.92 L463 234.58 L467 236.25 L463 237.92 L467 239.58 L465 241.25" stroke="#1a1a1a" stroke-width="1.1" fill="none"/>
<path d="M465.5 241.5 L465.5 251.5 L497.5 251.5" stroke="#1a1a1a" stroke-width="1" fill="none"/>
<text x="468" y="233" class="l" font-size="3.75">R5</text>
<text x="468" y="237" class="l" font-size="3.75">100</text>
<path d="M481.25 231.25 L483.25 232.92 L479.25 234.58 L483.25 236.25 L479.25 237.92 L483.25 239.58 L481.25 241.25" stroke="#1a1a1a" stroke-width="1.1" fill="none"/>
<text x="484.5" y="233" class="l" font-size="3.75">R4</text>
<text x="484.5" y="237" class="l" font-size="3.75">100</text>
<path d="M497.5 210.5 L497.5 230.5" stroke="#1a1a1a" stroke-width="1" fill="none"/>
<path d="M497.5 231.25 L499.5 232.92 L495.5 234.58 L499.5 236.25 L495.5 237.92 L499.5 239.58 L497.5 241.25" stroke="#1a1a1a" stroke-width="1.1" fill="none"/>
<path d="M497.5 241.5 L497.5 251.5" stroke="#1a1a1a" stroke-width="1" fill="none"/>
<text x="500.75" y="233" class="l" font-size="3.75">R17</text>
<text x="500.75" y="237" class="l" font-size="3.75">470Ω</text>
<path d="M513.5 222.5 L513.5 234.5" stroke="#1a1a1a" stroke-width="1" fill="none"/>
<path d="M511.5 234.5 L516.5 234.5" stroke="#1a1a1a" stroke-width="1" fill="none"/>
<path d="M511.5 236.5 L516.5 236.5" stroke="#1a1a1a" stroke-width="1" fill="none"/>
<path d="M513.5 236.5 L513.5 251.5 L561.5 251.5" stroke="#1a1a1a" stroke-width="1" fill="none"/>
<path d="M569.5 251.5 L593.5 251.5" stroke="#1a1a1a" stroke-width="1" fill="none"/>
<path d="M596.5 251.5 L611.5 251.5 L611.5 230.5 L621.5 230.5" stroke="#1a1a1a" stroke-width="1" fill="none"/>
<text x="519" y="233" class="l" font-size="3.75">C21</text>
<text x="519" y="237" class="l" font-size="3.75">470pF</text>
<path d="M532.5 222.5 L532.5 230.5" stroke="#1a1a1a" stroke-width="1" fill="none"/>
<path d="M532.5 230.5 L534.5 232.17 L530.5 233.83 L534.5 235.5 L530.5 237.17 L534.5 238.83 L532.5 240.5" stroke="#1a1a1a" stroke-width="1.1" fill="none"/>
<path d="M532.5 240.5 L532.5 251.5" stroke="#1a1a1a" stroke-width="1" fill="none"/>
<text x="536.25" y="233" class="l" font-size="3.75">R11</text>
<text x="536.25" y="237" class="l" font-size="3.75">47K</text>
<circle cx="481.5" cy="251.5" r="1.7" fill="#1a1a1a"/>
<circle cx="532.5" cy="251.5" r="1.7" fill="#1a1a1a"/>
<circle cx="553.5" cy="251.5" r="1.7" fill="#1a1a1a"/>
<circle cx="578.5" cy="251.5" r="1.7" fill="#1a1a1a"/>
<path d="M478.5 256.5 L484.5 256.5 L481.5 259.5 L478.5 256.5" stroke="#1a1a1a" stroke-width="0.9" fill="none"/>
<path d="M481.5 251.5 L481.5 256.5" stroke="#1a1a1a" stroke-width="1" fill="none"/>
<path d="M561.5 251.25 L562.83 253.25 L564.17 249.25 L565.5 253.25 L566.83 249.25 L568.17 253.25 L569.5 251.25" stroke="#1a1a1a" stroke-width="1.1" fill="none"/>
<text x="562.5" y="247" class="l" font-size="3.75">R12</text>
<text x="562.5" y="257" class="l" font-size="3.75">47K</text>
<path d="M593.5 248.5 L593.5 254.5" stroke="#1a1a1a" stroke-width="1" fill="none"/>
<path d="M596.5 248.5 L596.5 254.5" stroke="#1a1a1a" stroke-width="1" fill="none"/>
<text x="592.5" y="245" class="l" font-size="3.75">C13</text>
<text x="590.5" y="258" class="l" font-size="3.75">+1.0µf</text>
<text x="615" y="228.75" class="l" font-size="3.75">15</text>
<text x="587" y="152.5" class="l" font-size="3.75">VDD</text>
<path d="M588.25 158.75 L590.5 156.5 L592.75 158.75" stroke="#1a1a1a" stroke-width="0.9" fill="none"/>
<path d="M590.5 156.5 L590.5 168.5" stroke="#1a1a1a" stroke-width="1" fill="none"/>
<path d="M590 169.25 L592 170.92 L588 172.58 L592 174.25 L588 175.92 L592 177.58 L590 179.25" stroke="#1a1a1a" stroke-width="1.1" fill="none"/>
<path d="M590.5 179.5 L590.5 210.5" stroke="#1a1a1a" stroke-width="1" fill="none"/>
<text x="593" y="173" class="l" font-size="3.75">R106</text>
<text x="593" y="177" class="l" font-size="3.75">5600</text>
<path d="M590 210 L592 211.67 L588 213.33 L592 215 L588 216.67 L592 218.33 L590 220" stroke="#1a1a1a" stroke-width="1.1" fill="none"/>
<path d="M590.5 220.5 L590.5 227.5" stroke="#1a1a1a" stroke-width="1" fill="none"/>
<path d="M586.5 227.5 L593.5 227.5 L590.5 231.5 L586.5 227.5" stroke="#1a1a1a" stroke-width="0.9" fill="none"/>
<text x="593" y="211.5" class="l" font-size="3.75">R108</text>
<text x="593" y="215.5" class="l" font-size="3.75">12K</text>
<circle cx="590.5" cy="163.5" r="1.7" fill="#1a1a1a"/>
<path d="M590.5 163.5 L607.5 163.5 L607.5 176.5" stroke="#1a1a1a" stroke-width="1" fill="none"/>
<path d="M604.5 176.5 L610.5 176.5" stroke="#1a1a1a" stroke-width="1" fill="none"/>
<path d="M604.5 178.5 L610.5 178.5" stroke="#1a1a1a" stroke-width="1" fill="none"/>
<path d="M607.5 178.5 L607.5 190.5" stroke="#1a1a1a" stroke-width="1" fill="none"/>
<path d="M604.5 190.5 L610.5 190.5 L607.5 193.5 L604.5 190.5" stroke="#1a1a1a" stroke-width="0.9" fill="none"/>
<text x="611.25" y="173.75" class="l" font-size="3.75">C102</text>
<text x="611.25" y="177.75" class="l" font-size="3.75">0.1µf</text>
<rect x="621.5" y="222.5" width="21.25" height="25" stroke="#1a1a1a" stroke-width="0.9" fill="none"/>
<text x="622.5" y="231" class="l" font-size="3.75">X</text>
<text x="629" y="232.5" class="l" font-size="3.75">U4</text>
<text x="624.5" y="238.75" class="l" font-size="3.75">SELECT</text>
<text x="623.75" y="243.25" class="l" font-size="3.75">ENABLE</text>
<text x="632.5" y="225" class="l" font-size="3.75">X1</text>
<text x="632.5" y="228.75" class="l" font-size="3.75">X0</text>
<path d="M653.5 153.5 L634.5 163.5 L653.5 174.5 L653.5 153.5" stroke="#1a1a1a" stroke-width="1" fill="none"/>
<text x="643.75" y="165.5" class="l" font-size="3.75">U3</text>
<path d="M653.5 160.5 L662.5 160.5 L662.5 147.5" stroke="#1a1a1a" stroke-width="1" fill="none"/>
<path d="M624.5 147.5 L683.5 147.5" stroke="#1a1a1a" stroke-width="1.2" fill="none"/>
<circle cx="662.5" cy="147.5" r="1.7" fill="#1a1a1a"/>
<path d="M624.5 147.5 L624.5 201.5 L649.5 201.5 L649.5 228.5" stroke="#1a1a1a" stroke-width="1" fill="none"/>
<path d="M634.5 163.5 L624.5 163.5" stroke="#1a1a1a" stroke-width="1" fill="none"/>
<circle cx="624.5" cy="163.5" r="1.7" fill="#1a1a1a"/>
<text x="628.75" y="162.5" class="l" font-size="3.75">7</text>
<text x="655.5" y="162" class="l" font-size="3.75">6</text>
<text x="655.5" y="170.5" class="l" font-size="3.75">5</text>
<path d="M683.5 147.5 L683.5 154.5" stroke="#1a1a1a" stroke-width="1" fill="none"/>
<path d="M680.5 154.5 L685.5 154.5" stroke="#1a1a1a" stroke-width="1" fill="none"/>
<path d="M680.5 157.5 L685.5 157.5" stroke="#1a1a1a" stroke-width="1" fill="none"/>
<path d="M683.5 157.5 L683.5 168.5" stroke="#1a1a1a" stroke-width="1" fill="none"/>
<text x="687.5" y="152.5" class="l" font-size="3.75">C25</text>
<text x="687.5" y="156.5" class="l" font-size="3.75">2200pF</text>
<path d="M653.5 168.5 L666.5 168.5" stroke="#1a1a1a" stroke-width="1" fill="none"/>
<path d="M668 168 L669.5 170 L671 166 L672.5 170 L674 166 L675.5 170 L677 168" stroke="#1a1a1a" stroke-width="1.1" fill="none"/>
<path d="M677.5 168.5 L691.5 168.5" stroke="#1a1a1a" stroke-width="1" fill="none"/>
<path d="M691.25 168 L692.75 170 L694.25 166 L695.75 170 L697.25 166 L698.75 170 L700.25 168" stroke="#1a1a1a" stroke-width="1.1" fill="none"/>
<path d="M700.5 168.5 L720.5 168.5" stroke="#1a1a1a" stroke-width="1.2" fill="none"/>
<circle cx="662.5" cy="168.5" r="1.7" fill="#1a1a1a"/>
<circle cx="683.5" cy="168.5" r="1.7" fill="#1a1a1a"/>
<circle cx="708.5" cy="168.5" r="1.7" fill="#1a1a1a"/>
<text x="670.5" y="163.5" class="l" font-size="3.75">R18</text>
<text x="670.5" y="173.5" class="l" font-size="3.75">20K</text>
<text x="693" y="163.5" class="l" font-size="3.75">R19</text>
<text x="693" y="173.5" class="l" font-size="3.75">20K</text>
<path d="M706.25 141.75 L708.5 139.5 L710.75 141.75" stroke="#1a1a1a" stroke-width="0.9" fill="none"/>
<text x="706.25" y="135.5" class="l" font-size="3.75">+3V</text>
<path d="M708.5 139.5 L708.5 150.5" stroke="#1a1a1a" stroke-width="1" fill="none"/>
<path d="M708.5 150 L710.5 151.67 L706.5 153.33 L710.5 155 L706.5 156.67 L710.5 158.33 L708.5 160" stroke="#1a1a1a" stroke-width="1.1" fill="none"/>
<path d="M708.5 160.5 L708.5 168.5" stroke="#1a1a1a" stroke-width="1" fill="none"/>
<text x="712" y="153" class="l" font-size="3.75">R133</text>
<text x="712" y="157" class="l" font-size="3.75">120Ω</text>
<path d="M662.5 168.5 L662.5 175.5" stroke="#1a1a1a" stroke-width="1" fill="none"/>
<path d="M659.5 174.5 L664.5 174.5" stroke="#1a1a1a" stroke-width="1" fill="none"/>
<path d="M659.5 177.5 L664.5 177.5" stroke="#1a1a1a" stroke-width="1" fill="none"/>
<path d="M662.5 177.5 L662.5 189.5" stroke="#1a1a1a" stroke-width="1" fill="none"/>
<path d="M658.5 189.5 L665.5 189.5 L662.5 193.5 L658.5 189.5" stroke="#1a1a1a" stroke-width="0.9" fill="none"/>
<text x="665.5" y="179.5" class="l" font-size="3.75">C24</text>
<text x="665.5" y="183.5" class="l" font-size="3.75">1000pF</text>
<polygon points="712.4,185.4 713.9,186 716.3,185.6 722.5,191.9 722.8,195 714.7,194.6" fill="#000" stroke="#000" stroke-width="0.5" stroke-linejoin="round"/>
<text x="703.75" y="196.5" font-size="6.25" font-family="Liberation Sans" font-weight="bold" text-anchor="start" fill="#1a1a1a" stroke="#1a1a1a" stroke-width="0.45">2.4V</text>
<path d="M720.5 165.5 L720.5 170.5" stroke="#1a1a1a" stroke-width="1" fill="none"/>
<path d="M722.5 165.5 L722.5 170.5" stroke="#1a1a1a" stroke-width="1" fill="none"/>
<text x="718" y="161.5" class="l" font-size="3.75">1.0µf</text>
<text x="719.5" y="175" class="l" font-size="3.75">C26</text>
<text x="724.5" y="166" class="l" font-size="3.75">+</text>
<path d="M722.5 168.5 L765.5 168.5" stroke="#1a1a1a" stroke-width="1.3" fill="none"/>
<circle cx="729.5" cy="168.5" r="1.7" fill="#1a1a1a"/>
<circle cx="738.5" cy="168.5" r="1.7" fill="#1a1a1a"/>
<circle cx="759.5" cy="168.5" r="1.7" fill="#1a1a1a"/>
<rect x="765.5" y="155.5" width="19" height="17" stroke="#1a1a1a" stroke-width="0.9" fill="none"/>
<text x="766.5" y="159" class="l" font-size="3.75">ON/OFF</text>
<text x="773" y="164.5" class="l" font-size="3.75">U5</text>
<text x="767.5" y="170" class="l" font-size="3.75">Y</text>
<text x="781.75" y="168.5" class="l" font-size="3.75">X</text>
<text x="762" y="166" class="l" font-size="3.75">3</text>
<text x="786.25" y="157.5" class="l" font-size="3.75">5</text>
<text x="786.25" y="165.5" class="l" font-size="3.75">4</text>
<path d="M784.5 159.5 L805.5 159.5 L805.5 219.5 L784.5 219.5 L784.5 290.5" stroke="#1a1a1a" stroke-width="1" fill="none"/>
<path d="M784.5 167.5 L788.5 167.5 L788.5 178.5" stroke="#1a1a1a" stroke-width="1" fill="none"/>
<path d="M788.75 178.75 L790.75 180.42 L786.75 182.08 L790.75 183.75 L786.75 185.42 L790.75 187.08 L788.75 188.75" stroke="#1a1a1a" stroke-width="1.1" fill="none"/>
<path d="M788.5 189.5 L788.5 201.5" stroke="#1a1a1a" stroke-width="1" fill="none"/>
<text x="792" y="182.5" class="l" font-size="3.75">R21</text>
<text x="792" y="186.5" class="l" font-size="3.75">10.0K</text>
<path d="M738.5 168.5 L738.5 177.5" stroke="#1a1a1a" stroke-width="1" fill="none"/>
<path d="M738 178.25 L740 179.92 L736 181.58 L740 183.25 L736 184.92 L740 186.58 L738 188.25" stroke="#1a1a1a" stroke-width="1.1" fill="none"/>
<path d="M738.5 188.5 L738.5 238.5" stroke="#1a1a1a" stroke-width="1" fill="none"/>
<text x="741.25" y="182.5" class="l" font-size="3.75">R20</text>
<text x="741.25" y="186.5" class="l" font-size="3.75">10.0K</text>
<path d="M759.5 168.5 L759.5 184.5" stroke="#1a1a1a" stroke-width="1" fill="none"/>
<path d="M756.5 183.5 L762.5 183.5" stroke="#1a1a1a" stroke-width="1" fill="none"/>
<path d="M756.5 186.5 L762.5 186.5" stroke="#1a1a1a" stroke-width="1" fill="none"/>
<path d="M759.5 186.5 L759.5 201.5" stroke="#1a1a1a" stroke-width="1" fill="none"/>
<text x="765" y="182.5" class="l" font-size="3.75">C27</text>
<text x="765" y="186.5" class="l" font-size="3.75">2200pF</text>
<path d="M738.5 201.5 L834.5 201.5 L834.5 290.5" stroke="#1a1a1a" stroke-width="1" fill="none"/>
<circle cx="738.5" cy="201.5" r="1.7" fill="#1a1a1a"/>
<circle cx="759.5" cy="201.5" r="1.7" fill="#1a1a1a"/>
<circle cx="788.5" cy="201.5" r="1.7" fill="#1a1a1a"/>
<circle cx="805.5" cy="201.5" r="1.7" fill="#1a1a1a"/>
<path d="M738 239.5 L740 241.17 L736 242.83 L740 244.5 L736 246.17 L740 247.83 L738 249.5" stroke="#1a1a1a" stroke-width="1.1" fill="none"/>
<path d="M738.5 250.5 L738.5 260.5 L788.5 260.5 L788.5 239.5 L797.5 239.5" stroke="#1a1a1a" stroke-width="1" fill="none"/>
<text x="741.5" y="242.5" class="l" font-size="3.75">R22</text>
<text x="741.5" y="247.5" class="l" font-size="3.75">31.6K</text>
<path d="M729.5 168.5 L729.5 264.5 L913.5 264.5 L913.5 290.5" stroke="#1a1a1a" stroke-width="1" fill="none"/>
<path d="M640.5 226.5 L744.5 226.5" stroke="#1a1a1a" stroke-width="1.3" fill="none"/>
<circle cx="729.5" cy="226.5" r="1.7" fill="#1a1a1a"/>
<circle cx="738.5" cy="226.5" r="1.7" fill="#1a1a1a"/>
<path d="M640.5 230.5 L649.5 230.5" stroke="#1a1a1a" stroke-width="1" fill="none"/>
<path d="M640.5 242.5 L649.5 242.5 L649.5 248.5" stroke="#1a1a1a" stroke-width="1" fill="none"/>
<path d="M646.5 248.5 L652.5 248.5 L649.5 251.5 L646.5 248.5" stroke="#1a1a1a" stroke-width="0.9" fill="none"/>
<text x="643" y="225" class="l" font-size="3.75">1</text>
<text x="643" y="232.5" class="l" font-size="3.75">2</text>
<text x="642.5" y="237.5" class="l" font-size="3.75">10</text>
<rect x="744.5" y="214.5" width="20" height="17" stroke="#1a1a1a" stroke-width="0.9" fill="none"/>
<text x="745.25" y="217.75" class="l" font-size="3.75">ON/OFF</text>
<text x="752" y="223" class="l" font-size="3.75">U18</text>
<text x="746.25" y="230" class="l" font-size="3.75">Y</text>
<text x="761.25" y="230" class="l" font-size="3.75">X</text>
<text x="742" y="224.5" class="l" font-size="3.75">2</text>
<text x="765.75" y="215.75" class="l" font-size="3.75">12</text>
<text x="767" y="224.25" class="l" font-size="3.75">1</text>
<path d="M764.5 218.5 L780.5 218.5 L780.5 290.5" stroke="#1a1a1a" stroke-width="1" fill="none"/>
<path d="M764.5 227.5 L771.5 227.5 L771.5 238.5" stroke="#1a1a1a" stroke-width="1" fill="none"/>
<path d="M771.75 239 L773.75 240.67 L769.75 242.33 L773.75 244 L769.75 245.67 L773.75 247.33 L771.75 249" stroke="#1a1a1a" stroke-width="1.1" fill="none"/>
<path d="M771.5 249.5 L771.5 260.5" stroke="#1a1a1a" stroke-width="1" fill="none"/>
<text x="760" y="242.5" class="l" font-size="3.75">R23</text>
<text x="759.5" y="247.5" class="l" font-size="3.75">12.1K</text>
<circle cx="771.5" cy="260.5" r="1.7" fill="#1a1a1a"/>
<rect x="797.5" y="231.5" width="20.75" height="24" stroke="#1a1a1a" stroke-width="0.9" fill="none"/>
<text x="792" y="236.25" class="l" font-size="3.75">14</text>
<text x="799.25" y="238.25" class="l" font-size="3.75">X</text>
<text x="806.5" y="241.25" class="l" font-size="3.75">U4</text>
<text x="801.5" y="247" class="l" font-size="3.75">SELECT</text>
<text x="801.5" y="251.5" class="l" font-size="3.75">ENABLE</text>
<text x="819" y="232.5" class="l" font-size="3.75">X1</text>
<text x="819" y="237" class="l" font-size="3.75">X0</text>
<text x="819.5" y="245" class="l" font-size="3.75">11</text>
<text x="821" y="250" class="l" font-size="3.75">6</text>
<path d="M818.5 233.5 L826.5 233.5 L826.5 143.5 L856.5 143.5 L856.5 160.5 L852.5 160.5" stroke="#1a1a1a" stroke-width="1" fill="none"/>
<circle cx="826.5" cy="164.5" r="1.7" fill="#1a1a1a"/>
<path d="M852.5 153.5 L830.5 164.5 L852.5 175.5 L852.5 153.5" stroke="#1a1a1a" stroke-width="1" fill="none"/>
<path d="M826.5 164.5 L830.5 164.5" stroke="#1a1a1a" stroke-width="1" fill="none"/>
<text x="841.25" y="166.25" class="l" font-size="3.75">U6</text>
<text x="854.5" y="162.5" class="l" font-size="3.75">5</text>
<text x="854.5" y="171.25" class="l" font-size="3.75">7</text>
<text x="828" y="168" class="l" font-size="3.75">6</text>
<path d="M852.5 170.5 L856.5 170.5" stroke="#1a1a1a" stroke-width="1" fill="none"/>
<path d="M818.5 237.5 L910.5 238.5 L910.5 290.5" stroke="#1a1a1a" stroke-width="1" fill="none"/>
<path d="M818.5 249.5 L826.5 249.5 L826.5 256.5" stroke="#1a1a1a" stroke-width="1" fill="none"/>
<path d="M823.5 256.5 L830.5 256.5 L826.5 259.5 L823.5 256.5" stroke="#1a1a1a" stroke-width="0.9" fill="none"/>
<path d="M830.5 248.5 L830.5 269.5" stroke="#1a1a1a" stroke-width="1" fill="none"/>
<path d="M640.5 239.5 L725.5 239.5 L725.5 269.5 L830.5 269.5" stroke="#1a1a1a" stroke-width="1.3" fill="none"/>
<path d="M797.5 290.5 L797.5 281.5 L834.5 281.5" stroke="#1a1a1a" stroke-width="1" fill="none"/>
<circle cx="814.5" cy="281.5" r="1.7" fill="#1a1a1a"/>
<path d="M814.5 281.5 L814.5 290.5" stroke="#1a1a1a" stroke-width="1" fill="none"/>
<path d="M834.5 281.5 L847.5 281.5 L847.5 269.5 L908.5 269.5 L908.5 290.5" stroke="#1a1a1a" stroke-width="1.8" fill="none"/>
<circle cx="788.5" cy="269.5" r="1.7" fill="#1a1a1a"/>
<path d="M788.5 269.5 L788.5 290.5" stroke="#1a1a1a" stroke-width="1" fill="none"/>
<text x="865.5" y="278.5" class="l" font-size="3.75">+D5V</text>
<path d="M866.25 284.75 L868.5 282.5 L870.75 284.75" stroke="#1a1a1a" stroke-width="0.9" fill="none"/>
<path d="M868.5 282.5 L868.5 290.5" stroke="#1a1a1a" stroke-width="1" fill="none"/>
<path d="M839.5 289.5 L900.5 289.5" stroke="#1a1a1a" stroke-width="1.4" fill="none"/>
<polygon points="646.9,264.9 648.4,265.5 650.8,265.1 657,271.4 657.3,274.5 649.2,274.1" fill="#000" stroke="#000" stroke-width="0.5" stroke-linejoin="round"/>
<text x="656.25" y="265" font-size="6.25" font-family="Liberation Sans" font-weight="bold" text-anchor="start" fill="#1a1a1a" stroke="#1a1a1a" stroke-width="0.45">2.3V</text>
<path d="M690.25 275.75 L692.5 273.5 L694.75 275.75" stroke="#1a1a1a" stroke-width="0.9" fill="none"/>
<text x="689.5" y="270" class="l" font-size="3.75">+3V</text>
<path d="M692.5 273.5 L692.5 290.5" stroke="#1a1a1a" stroke-width="1" fill="none"/>
<path d="M657.5 290.5 L657.5 285.5 L730.5 285.5 L730.5 290.5" stroke="#1a1a1a" stroke-width="1" fill="none"/>
<circle cx="675.5" cy="285.5" r="1.7" fill="#1a1a1a"/>
<text x="1029" y="152.6" class="l" font-size="3.75">+D5V</text>
<path d="M1030.25 159.75 L1032.5 157.5 L1034.75 159.75" stroke="#1a1a1a" stroke-width="0.9" fill="none"/>
<path d="M1032.5 157.5 L1032.5 164.5 L1057.5 164.5" stroke="#1a1a1a" stroke-width="1" fill="none"/>
<circle cx="1045.5" cy="164.5" r="1.7" fill="#1a1a1a"/>
<circle cx="1074.5" cy="164.5" r="1.7" fill="#1a1a1a"/>
<path d="M1057.5 164.5 a1.8 1.8 0 0 1 3.6 0" stroke="#1a1a1a" stroke-width="1" fill="none"/>
<path d="M1060.5 164.5 a1.8 1.8 0 0 1 3.6 0" stroke="#1a1a1a" stroke-width="1" fill="none"/>
<path d="M1064.5 164.5 a1.8 1.8 0 0 1 3.6 0" stroke="#1a1a1a" stroke-width="1" fill="none"/>
<path d="M1068.5 164.5 L1091.5 164.5" stroke="#1a1a1a" stroke-width="1.2" fill="none"/>
<text x="1060" y="160" class="l" font-size="3.75">L6</text>
<text x="1058.4" y="168" class="l" font-size="3.75">6.8µh</text>
<path d="M1045.5 164.5 L1045.5 172.5" stroke="#1a1a1a" stroke-width="1" fill="none"/>
<path d="M1042.5 171.5 L1048.5 171.5" stroke="#1a1a1a" stroke-width="1" fill="none"/>
<path d="M1042.5 174.5 L1048.5 174.5" stroke="#1a1a1a" stroke-width="1" fill="none"/>
<path d="M1045.5 174.5 L1045.5 184.5" stroke="#1a1a1a" stroke-width="1" fill="none"/>
<path d="M1042.5 184.5 L1047.5 184.5" stroke="#1a1a1a" stroke-width="0.9" fill="none"/>
<path d="M1043.5 186.5 L1046.5 186.5" stroke="#1a1a1a" stroke-width="0.9" fill="none"/>
<path d="M1044.5 188.5 L1045.5 188.5" stroke="#1a1a1a" stroke-width="0.9" fill="none"/>
<text x="1050" y="172" class="l" font-size="3.75">C61</text>
<text x="1050" y="175.6" class="l" font-size="3.75">0.1µf</text>
<path d="M1074.5 164.5 L1074.5 172.5" stroke="#1a1a1a" stroke-width="1" fill="none"/>
<path d="M1071.5 171.5 L1077.5 171.5" stroke="#1a1a1a" stroke-width="1" fill="none"/>
<path d="M1071.5 174.5 L1077.5 174.5" stroke="#1a1a1a" stroke-width="1" fill="none"/>
<path d="M1074.5 174.5 L1074.5 184.5" stroke="#1a1a1a" stroke-width="1" fill="none"/>
<path d="M1071.5 184.5 L1076.5 184.5" stroke="#1a1a1a" stroke-width="0.9" fill="none"/>
<path d="M1072.5 186.5 L1075.5 186.5" stroke="#1a1a1a" stroke-width="0.9" fill="none"/>
<path d="M1073.5 188.5 L1074.5 188.5" stroke="#1a1a1a" stroke-width="0.9" fill="none"/>
<text x="1070.4" y="169.6" class="l" font-size="3.75">+</text>
<text x="1079.4" y="172" class="l" font-size="3.75">C62</text>
<text x="1079" y="175.6" class="l" font-size="3.75">100µf</text>
<path d="M1091.5 155.5 L1091.5 172.5" stroke="#1a1a1a" stroke-width="1" fill="none"/>
<path d="M1091.5 155.5 L1102.5 155.5" stroke="#1a1a1a" stroke-width="1" fill="none"/>
<path d="M1101.9 153.9 L1103.5 155.5 L1101.9 157.1" stroke="#1a1a1a" stroke-width="0.9" fill="none"/>
<text x="1095.2" y="154.2" class="l" font-size="3.75">A3</text>
<text x="1105.6" y="156" class="l" font-size="4.25">P4</text>
<path d="M1091.5 164.5 L1102.5 164.5" stroke="#1a1a1a" stroke-width="1" fill="none"/>
<path d="M1101.9 162.9 L1103.5 164.5 L1101.9 166.1" stroke="#1a1a1a" stroke-width="0.9" fill="none"/>
<text x="1095.2" y="163.6" class="l" font-size="3.75">B3</text>
<text x="1105.6" y="165.4" class="l" font-size="4.25">P4</text>
<path d="M1091.5 172.5 L1102.5 172.5" stroke="#1a1a1a" stroke-width="1" fill="none"/>
<path d="M1101.9 170.9 L1103.5 172.5 L1101.9 174.1" stroke="#1a1a1a" stroke-width="0.9" fill="none"/>
<text x="1095.2" y="171.6" class="l" font-size="3.75">C3</text>
<text x="1105.6" y="173.4" class="l" font-size="4.25">P4</text>
<circle cx="1091.5" cy="164.5" r="1.7" fill="#1a1a1a"/>
<text x="1026.4" y="186.6" class="l" font-size="3.75">A+</text>
<path d="M1026.25 191.75 L1028.5 189.5 L1030.75 191.75" stroke="#1a1a1a" stroke-width="0.9" fill="none"/>
<path d="M1028.5 190.5 L1028.5 206.5" stroke="#1a1a1a" stroke-width="1" fill="none"/>
<text x="960" y="194.4" class="l" font-size="3.75">VDD</text>
<path d="M959.25 200.75 L961.5 198.5 L963.75 200.75" stroke="#1a1a1a" stroke-width="0.9" fill="none"/>
<path d="M961.5 198.5 L961.5 206.5" stroke="#1a1a1a" stroke-width="1" fill="none"/>
<path d="M961.5 206.5 L994.5 206.5" stroke="#1a1a1a" stroke-width="1.3" fill="none"/>
<circle cx="961.5" cy="206.5" r="1.7" fill="#1a1a1a"/>
<circle cx="978.5" cy="206.5" r="1.7" fill="#1a1a1a"/>
<circle cx="990.5" cy="206.5" r="1.7" fill="#1a1a1a"/>
<rect x="994.5" y="201.5" width="26" height="13.6" stroke="#1a1a1a" stroke-width="0.9" fill="none"/>
<text x="1004" y="199.4" class="l" font-size="3.75">U13</text>
<text x="995.6" y="206" class="l" font-size="3.75">OUT</text>
<text x="1014" y="206" class="l" font-size="3.75">IN</text>
<text x="1005" y="211.6" class="l" font-size="3.75">GND</text>
<text x="991" y="203.2" class="l" font-size="3.75">3</text>
<text x="1021.6" y="203.2" class="l" font-size="3.75">1</text>
<text x="1010" y="218.4" class="l" font-size="3.75">2</text>
<path d="M1008.5 215.5 L1008.5 228.5" stroke="#1a1a1a" stroke-width="1" fill="none"/>
<path d="M1004.5 228.5 L1011.5 228.5 L1008.5 231.5 L1004.5 228.5" stroke="#1a1a1a" stroke-width="0.9" fill="none"/>
<path d="M1020.5 206.5 L1040.5 206.5" stroke="#1a1a1a" stroke-width="1.2" fill="none"/>
<circle cx="1028.5" cy="206.5" r="1.7" fill="#1a1a1a"/>
<path d="M1040.5 206.5 a1.8 1.8 0 0 1 3.6 0" stroke="#1a1a1a" stroke-width="1" fill="none"/>
<path d="M1043.5 206.5 a1.8 1.8 0 0 1 3.6 0" stroke="#1a1a1a" stroke-width="1" fill="none"/>
<path d="M1047.5 206.5 a1.8 1.8 0 0 1 3.6 0" stroke="#1a1a1a" stroke-width="1" fill="none"/>
<path d="M1051.5 206.5 L1091.5 206.5" stroke="#1a1a1a" stroke-width="1.2" fill="none"/>
<circle cx="1061.5" cy="206.5" r="1.7" fill="#1a1a1a"/>
<text x="1043.6" y="201.2" class="l" font-size="3.75">L5</text>
<text x="1041.6" y="209.6" class="l" font-size="3.75">6.8µh</text>
<path d="M1028.5 206.5 L1028.5 214.5" stroke="#1a1a1a" stroke-width="1" fill="none"/>
<path d="M1025.5 213.5 L1031.5 213.5" stroke="#1a1a1a" stroke-width="1" fill="none"/>
<path d="M1025.5 216.5 L1031.5 216.5" stroke="#1a1a1a" stroke-width="1" fill="none"/>
<path d="M1028.5 216.5 L1028.5 228.5" stroke="#1a1a1a" stroke-width="1" fill="none"/>
<path d="M1024.5 228.5 L1031.5 228.5 L1028.5 231.5 L1024.5 228.5" stroke="#1a1a1a" stroke-width="0.9" fill="none"/>
<text x="1033" y="214" class="l" font-size="3.75">C65</text>
<text x="1033" y="217.6" class="l" font-size="3.75">1000pF</text>
<path d="M1061.5 206.5 L1061.5 214.5" stroke="#1a1a1a" stroke-width="1" fill="none"/>
<path d="M1058.5 213.5 L1064.5 213.5" stroke="#1a1a1a" stroke-width="1" fill="none"/>
<path d="M1058.5 216.5 L1064.5 216.5" stroke="#1a1a1a" stroke-width="1" fill="none"/>
<path d="M1061.5 216.5 L1061.5 228.5" stroke="#1a1a1a" stroke-width="1" fill="none"/>
<path d="M1057.5 228.5 L1064.5 228.5 L1061.5 231.5 L1057.5 228.5" stroke="#1a1a1a" stroke-width="0.9" fill="none"/>
<text x="1067" y="214" class="l" font-size="3.75">C66</text>
<text x="1067" y="217.6" class="l" font-size="3.75">0.1µf</text>
<path d="M1091.5 197.5 L1091.5 214.5" stroke="#1a1a1a" stroke-width="1" fill="none"/>
<path d="M1091.5 197.5 L1102.5 197.5" stroke="#1a1a1a" stroke-width="1" fill="none"/>
<path d="M1101.9 195.9 L1103.5 197.5 L1101.9 199.1" stroke="#1a1a1a" stroke-width="0.9" fill="none"/>
<text x="1095.2" y="196.2" class="l" font-size="3.75">A13</text>
<text x="1105.6" y="198" class="l" font-size="4.25">P4</text>
<path d="M1091.5 206.5 L1102.5 206.5" stroke="#1a1a1a" stroke-width="1" fill="none"/>
<path d="M1101.9 204.9 L1103.5 206.5 L1101.9 208.1" stroke="#1a1a1a" stroke-width="0.9" fill="none"/>
<text x="1095.2" y="205.2" class="l" font-size="3.75">B13</text>
<text x="1105.6" y="207" class="l" font-size="4.25">P4</text>
<path d="M1091.5 214.5 L1102.5 214.5" stroke="#1a1a1a" stroke-width="1" fill="none"/>
<path d="M1101.9 212.9 L1103.5 214.5 L1101.9 216.1" stroke="#1a1a1a" stroke-width="0.9" fill="none"/>
<text x="1095.2" y="213.2" class="l" font-size="3.75">C13</text>
<text x="1105.6" y="215" class="l" font-size="4.25">P4</text>
<circle cx="1091.5" cy="206.5" r="1.7" fill="#1a1a1a"/>
<path d="M961.5 206.5 L961.5 214.5" stroke="#1a1a1a" stroke-width="1" fill="none"/>
<path d="M958.5 213.5 L964.5 213.5" stroke="#1a1a1a" stroke-width="1" fill="none"/>
<path d="M958.5 216.5 L964.5 216.5" stroke="#1a1a1a" stroke-width="1" fill="none"/>
<path d="M961.5 216.5 L961.5 228.5" stroke="#1a1a1a" stroke-width="1" fill="none"/>
<path d="M957.5 228.5 L964.5 228.5 L961.5 231.5 L957.5 228.5" stroke="#1a1a1a" stroke-width="0.9" fill="none"/>
<text x="958" y="211.6" class="l" font-size="3.75">+</text>
<text x="966" y="214" class="l" font-size="3.75">C128</text>
<text x="966" y="217.6" class="l" font-size="3.75">100µf</text>
<path d="M978.5 206.5 L978.5 210.5" stroke="#1a1a1a" stroke-width="1" fill="none"/>
<path d="M978 210 L980 211.67 L976 213.33 L980 215 L976 216.67 L980 218.33 L978 220" stroke="#1a1a1a" stroke-width="1.1" fill="none"/>
<path d="M978.5 220.5 L978.5 269.5" stroke="#1a1a1a" stroke-width="1" fill="none"/>
<path d="M978.5 279.5 L978.5 282.5" stroke="#1a1a1a" stroke-width="1" fill="none"/>
<text x="982" y="212" class="l" font-size="3.75">R134</text>
<text x="982" y="215.6" class="l" font-size="3.75">22K</text>
<path d="M990.5 206.5 L990.5 245.5" stroke="#1a1a1a" stroke-width="1" fill="none"/>
<path d="M990.4 245 L992.4 246.67 L988.4 248.33 L992.4 250 L988.4 251.67 L992.4 253.33 L990.4 255" stroke="#1a1a1a" stroke-width="1.1" fill="none"/>
<path d="M990.5 255.5 L990.5 269.5" stroke="#1a1a1a" stroke-width="1" fill="none"/>
<path d="M990.4 269 L992.4 270.67 L988.4 272.33 L992.4 274 L988.4 275.67 L992.4 277.33 L990.4 279" stroke="#1a1a1a" stroke-width="1.1" fill="none"/>
<path d="M990.5 279.5 L990.5 282.5" stroke="#1a1a1a" stroke-width="1" fill="none"/>
<text x="994" y="249.6" class="l" font-size="3.75">R86</text>
<text x="994" y="253.2" class="l" font-size="3.75">3300</text>
<text x="996.4" y="270" class="l" font-size="3.75">R60</text>
<text x="996.4" y="274" class="l" font-size="3.75">220Ω</text>
<polygon points="943.9,204.4 945.4,205 947.8,204.6 954,210.9 954.3,214 946.2,213.6" fill="#000" stroke="#000" stroke-width="0.5" stroke-linejoin="round"/>
<text x="938" y="214" font-size="5.6" font-family="Liberation Sans" font-weight="bold" text-anchor="start" fill="#1a1a1a" stroke="#1a1a1a" stroke-width="0.45">5V</text>
<path d="M961.5 239.5 L1102.5 239.5" stroke="#1a1a1a" stroke-width="1" fill="none"/>
<path d="M1101.9 237.9 L1103.5 239.5 L1101.9 241.1" stroke="#1a1a1a" stroke-width="0.9" fill="none"/>
<text x="1095" y="237.6" class="l" font-size="3.75">C19</text>
<text x="1106" y="240.4" class="l" font-size="4.25">P4</text>
<circle cx="978.5" cy="239.5" r="1.7" fill="#1a1a1a"/>
<path d="M961.5 239.5 L961.5 271.5" stroke="#1a1a1a" stroke-width="1" fill="none"/>
<path d="M958.5 271.5 L964.5 271.5" stroke="#1a1a1a" stroke-width="1" fill="none"/>
<path d="M958.5 273.5 L964.5 273.5" stroke="#1a1a1a" stroke-width="1" fill="none"/>
<path d="M961.5 273.5 L961.5 282.5" stroke="#1a1a1a" stroke-width="1" fill="none"/>
<text x="966" y="271" class="l" font-size="3.75">C103</text>
<text x="966" y="274.6" class="l" font-size="3.75">0.1µf</text>
<path d="M978 269 L980 270.67 L976 272.33 L980 274 L976 275.67 L980 277.33 L978 279" stroke="#1a1a1a" stroke-width="1.1" fill="none"/>
<text x="981" y="271" class="l" font-size="3.75">R62</text>
<text x="981" y="274.6" class="l" font-size="3.75">2200</text>
<path d="M1028.5 251.5 L1049.5 261.5 L1028.5 271.5 L1028.5 251.5" stroke="#1a1a1a" stroke-width="1" fill="none"/>
<text x="1033" y="262" class="l" font-size="3.75">U5</text>
<text x="1024.4" y="258" class="l" font-size="3.75">13</text>
<text x="1024.4" y="268" class="l" font-size="3.75">12</text>
<text x="1052" y="264.4" class="l" font-size="3.75">14</text>
<text x="1029.6" y="256.4" class="l" font-size="3.75">-</text>
<text x="1029.6" y="268" class="l" font-size="3.75">+</text>
<path d="M1028.5 257.5 L1019.5 257.5 L1019.5 244.5 L1058.5 244.5 L1058.5 261.5" stroke="#1a1a1a" stroke-width="1" fill="none"/>
<path d="M1049.5 261.5 L1070.5 261.5 L1070.5 253.5" stroke="#1a1a1a" stroke-width="1" fill="none"/>
<circle cx="1058.5" cy="261.5" r="1.7" fill="#1a1a1a"/>
<path d="M1068.9 255.1 L1070.5 253.5 L1072.1 255.1" stroke="#1a1a1a" stroke-width="0.9" fill="none"/>
<text x="1066" y="250" class="l" font-size="3.75">+2V</text>
<polygon points="1074.5,244.8 1076,245.4 1078.4,245 1084.6,251.3 1084.9,254.4 1076.8,254" fill="#000" stroke="#000" stroke-width="0.5" stroke-linejoin="round"/>
<text x="1084" y="245.6" font-size="5.6" font-family="Liberation Sans" font-weight="bold" text-anchor="start" fill="#1a1a1a" stroke="#1a1a1a" stroke-width="0.45">2V</text>
<path d="M990.5 265.5 L1028.5 265.5 L1028.5 266.5" stroke="#1a1a1a" stroke-width="1" fill="none"/>
<circle cx="990.5" cy="265.5" r="1.7" fill="#1a1a1a"/>
<circle cx="1008.5" cy="265.5" r="1.7" fill="#1a1a1a"/>
<path d="M1008.5 265.5 L1008.5 272.5" stroke="#1a1a1a" stroke-width="1" fill="none"/>
<path d="M1005.5 272.5 L1011.5 272.5" stroke="#1a1a1a" stroke-width="1" fill="none"/>
<path d="M1005.5 274.5 L1011.5 274.5" stroke="#1a1a1a" stroke-width="1" fill="none"/>
<path d="M1008.5 274.5 L1008.5 282.5" stroke="#1a1a1a" stroke-width="1" fill="none"/>
<text x="1012.4" y="271" class="l" font-size="3.75">C62</text>
<text x="1012.4" y="274.6" class="l" font-size="3.75">0.1µf</text>
<text x="73.25" y="327.5" class="l" font-size="3.75">P4</text>
<text x="82" y="324.5" class="l" font-size="3.75">C30</text>
<path d="M81.75 325.25 L79.5 327.5 L81.75 329.75" stroke="#1a1a1a" stroke-width="0.9" fill="none"/>
<path d="M80.5 327.5 L126.5 327.5" stroke="#1a1a1a" stroke-width="0.8" fill="none"/>
<text x="132.5" y="318.75" class="l" font-size="3.75">SW4</text>
<text x="123.25" y="325" class="l" font-size="3.75">1</text>
<text x="149.25" y="325" class="l" font-size="3.75">2</text>
<rect x="126.5" y="322.5" width="21.25" height="12.5" stroke="#1a1a1a" stroke-width="0.9" fill="none"/>
<path d="M130.5 329.5 L141.5 324.5" stroke="#1a1a1a" stroke-width="0.8" fill="none"/>
<circle cx="130.5" cy="329.5" r="0.75" stroke="#1a1a1a" stroke-width="0.7" fill="none"/>
<circle cx="143.5" cy="329.5" r="0.75" stroke="#1a1a1a" stroke-width="0.7" fill="none"/>
<text x="129.25" y="332.5" class="l" font-size="3.25">IN</text>
<text x="138.75" y="332.5" class="l" font-size="3.25">OUT</text>
<path d="M147.5 327.5 L192.5 327.5" stroke="#1a1a1a" stroke-width="1.2" fill="none"/>
<circle cx="165.5" cy="327.5" r="1.7" fill="#1a1a1a"/>
<circle cx="182.5" cy="327.5" r="1.7" fill="#1a1a1a"/>
<path d="M192.5 324.5 L192.5 330.5" stroke="#1a1a1a" stroke-width="1" fill="none"/>
<path d="M195.5 324.5 L195.5 330.5" stroke="#1a1a1a" stroke-width="1" fill="none"/>
<text x="192.5" y="321.25" class="l" font-size="3.75">C84</text>
<text x="191.5" y="334.5" class="l" font-size="3.75">4.7µf</text>
<path d="M195.5 327.5 L208.5 327.5 L208.5 361.5 L200.5 361.5 L200.5 453.5" stroke="#1a1a1a" stroke-width="1" fill="none"/>
<circle cx="208.5" cy="343.5" r="1.7" fill="#1a1a1a"/>
<path d="M208.5 343.5 L247.5 343.5" stroke="#1a1a1a" stroke-width="1" fill="none"/>
<text x="241.25" y="325" class="l" font-size="3.75">3</text>
<text x="241.25" y="342" class="l" font-size="3.75">1</text>
<text x="249.5" y="323.75" class="l" font-size="3.75">T2</text>
<path d="M247.5 327.5 L225.5 327.5 L225.5 357.5" stroke="#1a1a1a" stroke-width="1" fill="none"/>
<path d="M247.5 329.5 L250.5 330.5 L247.5 332.5" stroke="#1a1a1a" stroke-width="0.9" fill="none"/>
<path d="M247.5 332.5 L250.5 333.5 L247.5 336.5" stroke="#1a1a1a" stroke-width="0.9" fill="none"/>
<path d="M247.5 336.5 L250.5 337.5 L247.5 339.5" stroke="#1a1a1a" stroke-width="0.9" fill="none"/>
<path d="M247.5 339.5 L250.5 340.5 L247.5 343.5" stroke="#1a1a1a" stroke-width="0.9" fill="none"/>
<path d="M251.5 327.5 L251.5 344.5" stroke="#1a1a1a" stroke-width="1.5" fill="none"/>
<path d="M253.5 327.5 L253.5 344.5" stroke="#1a1a1a" stroke-width="1.5" fill="none"/>
<path d="M257.5 329.5 L254.5 330.5 L257.5 332.5" stroke="#1a1a1a" stroke-width="0.9" fill="none"/>
<path d="M257.5 332.5 L254.5 333.5 L257.5 336.5" stroke="#1a1a1a" stroke-width="0.9" fill="none"/>
<path d="M257.5 336.5 L254.5 337.5 L257.5 339.5" stroke="#1a1a1a" stroke-width="0.9" fill="none"/>
<path d="M257.5 339.5 L254.5 340.5 L257.5 343.5" stroke="#1a1a1a" stroke-width="0.9" fill="none"/>
<text x="259" y="325" class="l" font-size="3.75">4</text>
<text x="259" y="333.75" class="l" font-size="3.75">5</text>
<text x="259" y="342" class="l" font-size="3.75">6</text>
<path d="M257.5 327.5 L350.5 327.5" stroke="#1a1a1a" stroke-width="1.3" fill="none"/>
<path d="M257.5 335.5 L262.5 335.5" stroke="#1a1a1a" stroke-width="1" fill="none"/>
<path d="M257.5 341.5 L267.5 341.5 L267.5 373.5 L350.5 373.5" stroke="#1a1a1a" stroke-width="1.3" fill="none"/>
<circle cx="279.5" cy="327.5" r="1.7" fill="#1a1a1a"/>
<circle cx="304.5" cy="327.5" r="1.7" fill="#1a1a1a"/>
<circle cx="325.5" cy="327.5" r="1.7" fill="#1a1a1a"/>
<circle cx="342.5" cy="327.5" r="1.7" fill="#1a1a1a"/>
<path d="M279.5 327.5 L279.5 373.5" stroke="#1a1a1a" stroke-width="1" fill="none"/>
<polygon points="277,338 282,338 279.5,333.5" fill="#1a1a1a" stroke="#1a1a1a" stroke-width="0.6"/>
<path d="M277.5 333.5 L282.5 333.5" stroke="#1a1a1a" stroke-width="1.2" fill="none"/>
<text x="284.5" y="333" class="l" font-size="3.75">VR4</text>
<path d="M292.5 327.5 L292.5 373.5" stroke="#1a1a1a" stroke-width="1" fill="none"/>
<polygon points="289.5,350 294.5,350 292,354.5" fill="#1a1a1a" stroke="#1a1a1a" stroke-width="0.6"/>
<path d="M289.5 354.5 L294.5 354.5" stroke="#1a1a1a" stroke-width="1.2" fill="none"/>
<text x="283.75" y="358" class="l" font-size="3.75">VR3</text>
<circle cx="279.5" cy="373.5" r="1.7" fill="#1a1a1a"/>
<circle cx="292.5" cy="373.5" r="1.7" fill="#1a1a1a"/>
<path d="M304.5 327.5 L304.5 338.5" stroke="#1a1a1a" stroke-width="1" fill="none"/>
<path d="M301.5 338.5 L307.5 338.5" stroke="#1a1a1a" stroke-width="1" fill="none"/>
<path d="M301.5 341.5 L307.5 341.5" stroke="#1a1a1a" stroke-width="1" fill="none"/>
<path d="M304.5 341.5 L304.5 352.5" stroke="#1a1a1a" stroke-width="1" fill="none"/>
<text x="310" y="339" class="l" font-size="3.75">C85</text>
<text x="310" y="343" class="l" font-size="3.75">6800pF</text>
<path d="M325.5 327.5 L325.5 334.5" stroke="#1a1a1a" stroke-width="1" fill="none"/>
<path d="M325.75 335 L327.75 336.67 L323.75 338.33 L327.75 340 L323.75 341.67 L327.75 343.33 L325.75 345" stroke="#1a1a1a" stroke-width="1.1" fill="none"/>
<path d="M325.5 345.5 L325.5 352.5 L304.5 352.5" stroke="#1a1a1a" stroke-width="1" fill="none"/>
<text x="329.5" y="337.5" class="l" font-size="3.75">R81</text>
<text x="329.5" y="341.5" class="l" font-size="3.75">392</text>
<circle cx="304.5" cy="352.5" r="1.7" fill="#1a1a1a"/>
<path d="M304.5 352.5 L304.5 356.5" stroke="#1a1a1a" stroke-width="1" fill="none"/>
<path d="M302.25 355.25 L304.5 357.5 L306.75 355.25" stroke="#1a1a1a" stroke-width="0.9" fill="none"/>
<text x="300.5" y="358" class="l" font-size="3.75">1</text>
<text x="309.5" y="358" class="l" font-size="3.75">P5</text>
<path d="M302.25 368.75 L304.5 366.5 L306.75 368.75" stroke="#1a1a1a" stroke-width="0.9" fill="none"/>
<path d="M304.5 366.5 L304.5 373.5" stroke="#1a1a1a" stroke-width="1" fill="none"/>
<text x="300.5" y="366.5" class="l" font-size="3.75">2</text>
<text x="309.5" y="368" class="l" font-size="3.75">P6</text>
<circle cx="304.5" cy="373.5" r="1.7" fill="#1a1a1a"/>
<path d="M342.5 327.5 L342.5 338.5" stroke="#1a1a1a" stroke-width="1" fill="none"/>
<path d="M339.5 338.5 L345.5 338.5" stroke="#1a1a1a" stroke-width="1" fill="none"/>
<path d="M339.5 341.5 L345.5 341.5" stroke="#1a1a1a" stroke-width="1" fill="none"/>
<path d="M342.5 341.5 L342.5 352.5" stroke="#1a1a1a" stroke-width="1" fill="none"/>
<text x="346.25" y="339" class="l" font-size="3.75">C83</text>
<text x="345" y="343" class="l" font-size="3.75">1500pF</text>
<path d="M342.5 352.5 L342.5 356.5" stroke="#1a1a1a" stroke-width="1" fill="none"/>
<path d="M340.25 355.25 L342.5 357.5 L344.75 355.25" stroke="#1a1a1a" stroke-width="0.9" fill="none"/>
<text x="338" y="358" class="l" font-size="3.75">3</text>
<text x="347" y="358" class="l" font-size="3.75">P5</text>
<path d="M340.25 368.75 L342.5 366.5 L344.75 368.75" stroke="#1a1a1a" stroke-width="0.9" fill="none"/>
<path d="M342.5 366.5 L342.5 373.5" stroke="#1a1a1a" stroke-width="1" fill="none"/>
<text x="338" y="366.5" class="l" font-size="3.75">4</text>
<text x="347" y="368" class="l" font-size="3.75">P6</text>
<circle cx="342.5" cy="373.5" r="1.7" fill="#1a1a1a"/>
<text x="73.25" y="357" class="l" font-size="3.75">P4</text>
<text x="82" y="354.5" class="l" font-size="3.75">A32</text>
<path d="M81.75 355.25 L79.5 357.5 L81.75 359.75" stroke="#1a1a1a" stroke-width="0.9" fill="none"/>
<path d="M80.5 357.5 L123.5 357.5 L123.5 373.5 L128.5 373.5" stroke="#1a1a1a" stroke-width="1" fill="none"/>
<text x="136.25" y="364" class="l" font-size="3.75">SW3</text>
<text x="125" y="372" class="l" font-size="3.75">1</text>
<text x="152" y="372" class="l" font-size="3.75">2</text>
<rect x="128.5" y="367.5" width="22.5" height="13" stroke="#1a1a1a" stroke-width="0.9" fill="none"/>
<path d="M132.5 374.5 L145.5 369.5" stroke="#1a1a1a" stroke-width="0.8" fill="none"/>
<circle cx="132.5" cy="375.5" r="0.75" stroke="#1a1a1a" stroke-width="0.7" fill="none"/>
<circle cx="147.5" cy="375.5" r="0.75" stroke="#1a1a1a" stroke-width="0.7" fill="none"/>
<text x="131.75" y="378" class="l" font-size="3.25">IN</text>
<text x="142.5" y="378" class="l" font-size="3.25">OUT</text>
<path d="M151.5 373.5 L157.5 373.5 L157.5 357.5 L255.5 357.5 L255.5 453.5" stroke="#1a1a1a" stroke-width="1" fill="none"/>
<circle cx="182.5" cy="357.5" r="1.7" fill="#1a1a1a"/>
<circle cx="225.5" cy="357.5" r="1.7" fill="#1a1a1a"/>
<path d="M165.5 327.5 L165.5 394.5 L182.5 394.5" stroke="#1a1a1a" stroke-width="1" fill="none"/>
<circle cx="165.75" cy="382.5" r="3.3" stroke="#000" stroke-width="1.2" fill="none"/>
<polygon points="163.15,379.6 168.35,379.6 165.75,382.5" fill="#000"/>
<polygon points="163.15,385.4 168.35,385.4 165.75,382.5" fill="#000"/>
<text x="170" y="381.5" class="l" font-size="3.75">TV3</text>
<path d="M182.5 327.5 L182.5 337.5" stroke="#1a1a1a" stroke-width="1" fill="none"/>
<path d="M182.5 338 L184.5 339.5 L180.5 341 L184.5 342.5 L180.5 344 L184.5 345.5 L182.5 347" stroke="#1a1a1a" stroke-width="1.1" fill="none"/>
<path d="M182.5 347.5 L182.5 385.5" stroke="#1a1a1a" stroke-width="1" fill="none"/>
<text x="185.75" y="342" class="l" font-size="3.75">R113</text>
<circle cx="182.5" cy="382.5" r="3.3" stroke="#000" stroke-width="1.2" fill="none"/>
<polygon points="179.9,379.6 185.1,379.6 182.5,382.5" fill="#000"/>
<polygon points="179.9,385.4 185.1,385.4 182.5,382.5" fill="#000"/>
<text x="185.75" y="381.5" class="l" font-size="3.75">TV4</text>
<path d="M182.5 385.5 L182.5 399.5" stroke="#1a1a1a" stroke-width="1" fill="none"/>
<circle cx="182.5" cy="394.5" r="1.7" fill="#1a1a1a"/>
<path d="M180.25 398.25 L182.5 400.5 L184.75 398.25" stroke="#1a1a1a" stroke-width="0.9" fill="none"/>
<text x="178.75" y="398" class="l" font-size="3.75">1</text>
<text x="185.5" y="401" class="l" font-size="3.75">P7</text>
<path d="M161.5 426.5 L170.5 426.5" stroke="#1a1a1a" stroke-width="0.9" fill="none"/>
<path d="M162.5 426.5 L160.5 429.5" stroke="#1a1a1a" stroke-width="0.9" fill="none"/>
<path d="M165.5 426.5 L163.5 429.5" stroke="#1a1a1a" stroke-width="0.9" fill="none"/>
<path d="M168.5 426.5 L166.5 429.5" stroke="#1a1a1a" stroke-width="0.9" fill="none"/>
<path d="M165.5 426.5 L167.5 420.5 L182.5 420.5 L182.5 415.5" stroke="#1a1a1a" stroke-width="1" fill="none"/>
<path d="M180.25 416.75 L182.5 414.5 L184.75 416.75" stroke="#1a1a1a" stroke-width="0.9" fill="none"/>
<text x="178.75" y="415" class="l" font-size="3.75">2</text>
<text x="185.5" y="417" class="l" font-size="3.75">P7</text>
<circle cx="200.5" cy="373.5" r="1.7" fill="#1a1a1a"/>
<path d="M200.5 373.5 L206.5 373.5" stroke="#1a1a1a" stroke-width="1" fill="none"/>
<path d="M206.5 371.5 L206.5 376.5" stroke="#1a1a1a" stroke-width="1" fill="none"/>
<path d="M208.5 371.5 L208.5 376.5" stroke="#1a1a1a" stroke-width="1" fill="none"/>
<text x="210" y="370.25" class="l" font-size="3.75">C77</text>
<text x="211.25" y="377.25" class="l" font-size="3.75">6800pF</text>
<path d="M208.5 373.5 L225.5 373.5" stroke="#1a1a1a" stroke-width="1.2" fill="none"/>
<path d="M227.5 373.5 L239.5 373.5" stroke="#1a1a1a" stroke-width="1" fill="none"/>
<path d="M238.25 371.25 L240.5 373.5 L238.25 375.75" stroke="#1a1a1a" stroke-width="0.9" fill="none"/>
<text x="236.25" y="371.25" class="l" font-size="3.75">1</text>
<text x="233.75" y="377.25" class="l" font-size="3.75">P8</text>
<path d="M250.75 371.25 L248.5 373.5 L250.75 375.75" stroke="#1a1a1a" stroke-width="0.9" fill="none"/>
<path d="M249.5 373.5 L255.5 373.5" stroke="#1a1a1a" stroke-width="1" fill="none"/>
<circle cx="255.5" cy="373.5" r="1.7" fill="#1a1a1a"/>
<text x="251.25" y="371.25" class="l" font-size="3.75">2</text>
<text x="247.5" y="377.25" class="l" font-size="3.75">P8</text>
<circle cx="200.5" cy="390.5" r="1.7" fill="#1a1a1a"/>
<path d="M200.5 390.5 L204.5 390.5" stroke="#1a1a1a" stroke-width="1" fill="none"/>
<path d="M204.75 390.5 L206.08 392.5 L207.42 388.5 L208.75 392.5 L210.08 388.5 L211.42 392.5 L212.75 390.5" stroke="#1a1a1a" stroke-width="1.1" fill="none"/>
<text x="205.75" y="387" class="l" font-size="3.75">R76</text>
<text x="205.75" y="395.5" class="l" font-size="3.75">330</text>
<path d="M212.5 390.5 L225.5 390.5" stroke="#1a1a1a" stroke-width="1" fill="none"/>
<path d="M225.5 388.5 L225.5 393.5" stroke="#1a1a1a" stroke-width="1" fill="none"/>
<path d="M227.5 388.5 L227.5 393.5" stroke="#1a1a1a" stroke-width="1" fill="none"/>
<text x="222.5" y="385.5" class="l" font-size="3.75">C78</text>
<text x="217.5" y="396" class="l" font-size="3.75">82000pF</text>
<path d="M227.5 390.5 L239.5 390.5" stroke="#1a1a1a" stroke-width="1" fill="none"/>
<path d="M238.25 388.25 L240.5 390.5 L238.25 392.75" stroke="#1a1a1a" stroke-width="0.9" fill="none"/>
<text x="236.25" y="388" class="l" font-size="3.75">3</text>
<text x="233.75" y="394" class="l" font-size="3.75">P8</text>
<path d="M250.75 388.25 L248.5 390.5 L250.75 392.75" stroke="#1a1a1a" stroke-width="0.9" fill="none"/>
<path d="M249.5 390.5 L255.5 390.5" stroke="#1a1a1a" stroke-width="1" fill="none"/>
<circle cx="255.5" cy="390.5" r="1.7" fill="#1a1a1a"/>
<text x="251.25" y="388" class="l" font-size="3.75">4</text>
<text x="247.5" y="394" class="l" font-size="3.75">P8</text>
<circle cx="200.5" cy="411.5" r="1.7" fill="#1a1a1a"/>
<path d="M200.5 411.5 L204.5 411.5" stroke="#1a1a1a" stroke-width="1" fill="none"/>
<path d="M204.75 411.75 L206.08 413.75 L207.42 409.75 L208.75 413.75 L210.08 409.75 L211.42 413.75 L212.75 411.75" stroke="#1a1a1a" stroke-width="1.1" fill="none"/>
<text x="205.75" y="408.25" class="l" font-size="3.75">R77</text>
<text x="205.75" y="416.75" class="l" font-size="3.75">150</text>
<path d="M212.5 411.5 L225.5 411.5" stroke="#1a1a1a" stroke-width="1" fill="none"/>
<path d="M225.5 409.5 L225.5 414.5" stroke="#1a1a1a" stroke-width="1" fill="none"/>
<path d="M227.5 409.5 L227.5 414.5" stroke="#1a1a1a" stroke-width="1" fill="none"/>
<text x="222.5" y="406.75" class="l" font-size="3.75">C79</text>
<text x="217.5" y="417.25" class="l" font-size="3.75">62000pF</text>
<path d="M227.5 411.5 L239.5 411.5" stroke="#1a1a1a" stroke-width="1" fill="none"/>
<path d="M238.25 409.25 L240.5 411.5 L238.25 413.75" stroke="#1a1a1a" stroke-width="0.9" fill="none"/>
<text x="236.25" y="409.25" class="l" font-size="3.75">5</text>
<text x="233.75" y="415.25" class="l" font-size="3.75">P8</text>
<path d="M250.75 409.25 L248.5 411.5 L250.75 413.75" stroke="#1a1a1a" stroke-width="0.9" fill="none"/>
<path d="M249.5 411.5 L255.5 411.5" stroke="#1a1a1a" stroke-width="1" fill="none"/>
<circle cx="255.5" cy="411.5" r="1.7" fill="#1a1a1a"/>
<text x="251.25" y="409.25" class="l" font-size="3.75">6</text>
<text x="247.5" y="415.25" class="l" font-size="3.75">P8</text>
<circle cx="200.5" cy="432.5" r="1.7" fill="#1a1a1a"/>
<path d="M200.5 432.5 L204.5 432.5" stroke="#1a1a1a" stroke-width="1" fill="none"/>
<path d="M204.75 432.5 L206.08 434.5 L207.42 430.5 L208.75 434.5 L210.08 430.5 L211.42 434.5 L212.75 432.5" stroke="#1a1a1a" stroke-width="1.1" fill="none"/>
<text x="205.75" y="429" class="l" font-size="3.75">R78</text>
<text x="205.75" y="437.5" class="l" font-size="3.75">825</text>
<path d="M212.5 432.5 L225.5 432.5" stroke="#1a1a1a" stroke-width="1" fill="none"/>
<path d="M225.5 430.5 L225.5 435.5" stroke="#1a1a1a" stroke-width="1" fill="none"/>
<path d="M227.5 430.5 L227.5 435.5" stroke="#1a1a1a" stroke-width="1" fill="none"/>
<text x="222.5" y="427.5" class="l" font-size="3.75">C80</text>
<text x="217.5" y="438" class="l" font-size="3.75">0.1µf</text>
<path d="M227.5 432.5 L239.5 432.5" stroke="#1a1a1a" stroke-width="1" fill="none"/>
<path d="M238.25 430.25 L240.5 432.5 L238.25 434.75" stroke="#1a1a1a" stroke-width="0.9" fill="none"/>
<text x="236.25" y="430" class="l" font-size="3.75">7</text>
<text x="233.75" y="436" class="l" font-size="3.75">P8</text>
<path d="M250.75 430.25 L248.5 432.5 L250.75 434.75" stroke="#1a1a1a" stroke-width="0.9" fill="none"/>
<path d="M249.5 432.5 L255.5 432.5" stroke="#1a1a1a" stroke-width="1" fill="none"/>
<circle cx="255.5" cy="432.5" r="1.7" fill="#1a1a1a"/>
<text x="251.25" y="430" class="l" font-size="3.75">8</text>
<text x="247.5" y="436" class="l" font-size="3.75">P8</text>
<circle cx="200.5" cy="453.5" r="1.7" fill="#1a1a1a"/>
<path d="M200.5 453.5 L225.5 453.5" stroke="#1a1a1a" stroke-width="1" fill="none"/>
<path d="M225.5 451.5 L225.5 456.5" stroke="#1a1a1a" stroke-width="1" fill="none"/>
<path d="M227.5 451.5 L227.5 456.5" stroke="#1a1a1a" stroke-width="1" fill="none"/>
<text x="222.5" y="448.25" class="l" font-size="3.75">C81</text>
<text x="217.5" y="459.25" class="l" font-size="3.75">22000pF</text>
<path d="M227.5 453.5 L239.5 453.5" stroke="#1a1a1a" stroke-width="1" fill="none"/>
<path d="M238.25 451.25 L240.5 453.5 L238.25 455.75" stroke="#1a1a1a" stroke-width="0.9" fill="none"/>
<text x="236.25" y="451.25" class="l" font-size="3.75">9</text>
<text x="233.75" y="457.25" class="l" font-size="3.75">P8</text>
<path d="M250.75 451.25 L248.5 453.5 L250.75 455.75" stroke="#1a1a1a" stroke-width="0.9" fill="none"/>
<path d="M249.5 453.5 L255.5 453.5" stroke="#1a1a1a" stroke-width="1" fill="none"/>
<circle cx="255.5" cy="453.5" r="1.7" fill="#1a1a1a"/>
<text x="251.25" y="451.25" class="l" font-size="3.75">10</text>
<text x="247.5" y="457.25" class="l" font-size="3.75">P8</text>
<circle cx="281.5" cy="429.5" r="7.8" stroke="#000" stroke-width="2" fill="none"/>
<text x="281.5" y="433.8" font-size="12" font-family="Liberation Sans" font-weight="bold" text-anchor="middle" fill="#000" stroke="#000" stroke-width="0.6">D</text>
<path d="M269.3 415.3 L277.2 414 L276.8 417.9 L271 423.7 L267.4 423.9 Z" stroke="#000" stroke-width="1.8" fill="#fff" stroke-linejoin="miter"/>
<rect x="426.5" y="285.5" width="21.25" height="26.25" stroke="#1a1a1a" stroke-width="0.9" fill="none"/>
<text x="422.5" y="291.75" class="l" font-size="3.75">4</text>
<text x="428" y="293.5" class="l" font-size="3.75">X</text>
<text x="434.5" y="293.5" class="l" font-size="3.75">U26</text>
<text x="442.5" y="288.25" class="l" font-size="3.75">X1</text>
<text x="442.5" y="292.75" class="l" font-size="3.75">X0</text>
<text x="431.5" y="301.25" class="l" font-size="3.75">SELECT</text>
<text x="431.5" y="306" class="l" font-size="3.75">ENABLE</text>
<text x="449" y="286" class="l" font-size="3.75">3</text>
<text x="449" y="291.5" class="l" font-size="3.75">2</text>
<text x="449" y="300.5" class="l" font-size="3.75">9</text>
<text x="449" y="305" class="l" font-size="3.75">6</text>
<path d="M447.5 287.5 L456.5 287.5" stroke="#1a1a1a" stroke-width="1" fill="none"/>
<path d="M447.5 293.5 L472.5 293.5" stroke="#1a1a1a" stroke-width="1.2" fill="none"/>
<circle cx="465.5" cy="293.5" r="1.7" fill="#1a1a1a"/>
<path d="M447.5 301.5 L476.5 301.5 L476.5 340.5 L548.5 340.5 L548.5 373.5 L650.5 373.5" stroke="#1a1a1a" stroke-width="1" fill="none"/>
<path d="M447.5 305.5 L456.5 305.5 L456.5 310.5" stroke="#1a1a1a" stroke-width="1" fill="none"/>
<path d="M453.5 310.5 L459.5 310.5 L456.5 313.5 L453.5 310.5" stroke="#1a1a1a" stroke-width="0.9" fill="none"/>
<path d="M426.5 293.5 L418.5 293.5 L418.5 322.5 L472.5 322.5 L472.5 361.5 L492.5 361.5" stroke="#1a1a1a" stroke-width="1" fill="none"/>
<path d="M493.5 283.5 L472.5 293.5 L493.5 303.5 L493.5 283.5" stroke="#1a1a1a" stroke-width="1" fill="none"/>
<text x="483" y="294.5" class="l" font-size="3.75">U8</text>
<text x="496.25" y="286" class="l" font-size="3.75">2</text>
<text x="496.25" y="295.5" class="l" font-size="3.75">3</text>
<text x="468.5" y="291.5" class="l" font-size="3.75">1</text>
<path d="M465.5 293.5 L465.5 273.5 L615.5 273.5" stroke="#1a1a1a" stroke-width="1.2" fill="none"/>
<path d="M624.5 273.5 L650.5 273.5" stroke="#1a1a1a" stroke-width="1.2" fill="none"/>
<circle cx="502.5" cy="273.5" r="1.7" fill="#1a1a1a"/>
<circle cx="545.5" cy="273.5" r="1.7" fill="#1a1a1a"/>
<circle cx="561.5" cy="273.5" r="1.7" fill="#1a1a1a"/>
<circle cx="603.5" cy="273.5" r="1.7" fill="#1a1a1a"/>
<circle cx="636.5" cy="273.5" r="1.7" fill="#1a1a1a"/>
<path d="M493.5 287.5 L502.5 287.5 L502.5 273.5" stroke="#1a1a1a" stroke-width="1" fill="none"/>
<path d="M510.5 273.5 L510.5 283.5" stroke="#1a1a1a" stroke-width="1" fill="none"/>
<path d="M507.5 283.5 L512.5 283.5" stroke="#1a1a1a" stroke-width="1" fill="none"/>
<path d="M507.5 286.5 L512.5 286.5" stroke="#1a1a1a" stroke-width="1" fill="none"/>
<path d="M510.5 286.5 L510.5 312.5" stroke="#1a1a1a" stroke-width="1" fill="none"/>
<path d="M507.5 312.5 L512.5 312.5" stroke="#1a1a1a" stroke-width="1" fill="none"/>
<path d="M507.5 315.5 L512.5 315.5" stroke="#1a1a1a" stroke-width="1" fill="none"/>
<path d="M510.5 315.5 L510.5 327.5" stroke="#1a1a1a" stroke-width="1" fill="none"/>
<text x="515.5" y="285" class="l" font-size="3.75">C67</text>
<text x="513.75" y="289" class="l" font-size="3.75">330pF</text>
<text x="515.5" y="312.5" class="l" font-size="3.75">C72</text>
<text x="515.5" y="316.5" class="l" font-size="3.75">1.0µf</text>
<text x="506.25" y="311.25" class="l" font-size="3.75">+</text>
<path d="M493.5 298.5 L527.5 298.5 L527.5 290.5" stroke="#1a1a1a" stroke-width="1" fill="none"/>
<path d="M527.5 280 L529.5 281.67 L525.5 283.33 L529.5 285 L525.5 286.67 L529.5 288.33 L527.5 290" stroke="#1a1a1a" stroke-width="1.1" fill="none"/>
<path d="M527.5 279.5 L527.5 273.5" stroke="#1a1a1a" stroke-width="1" fill="none"/>
<circle cx="510.5" cy="298.5" r="1.7" fill="#1a1a1a"/>
<text x="531.25" y="283" class="l" font-size="3.75">R59</text>
<text x="531.25" y="287" class="l" font-size="3.75">180K</text>
<path d="M545.5 273.5 L545.5 278.5" stroke="#1a1a1a" stroke-width="1" fill="none"/>
<path d="M545 279.25 L547 280.92 L543 282.58 L547 284.25 L543 285.92 L547 287.58 L545 289.25" stroke="#1a1a1a" stroke-width="1.1" fill="none"/>
<path d="M545.5 289.5 L545.5 293.5" stroke="#1a1a1a" stroke-width="1" fill="none"/>
<path d="M541.5 293.5 L548.5 293.5 L545.5 297.5 L541.5 293.5" stroke="#1a1a1a" stroke-width="0.9" fill="none"/>
<text x="548.25" y="277.5" class="l" font-size="3.75">R61</text>
<text x="548.25" y="281.5" class="l" font-size="3.75">10K</text>
<path d="M561.5 273.5 L561.5 303.5 L569.5 303.5" stroke="#1a1a1a" stroke-width="1" fill="none"/>
<path d="M603.5 273.5 L603.5 283.5" stroke="#1a1a1a" stroke-width="1" fill="none"/>
<path d="M601.5 283.5 L606.5 283.5" stroke="#1a1a1a" stroke-width="1" fill="none"/>
<path d="M601.5 286.5 L606.5 286.5" stroke="#1a1a1a" stroke-width="1" fill="none"/>
<path d="M603.5 286.5 L603.5 295.5" stroke="#1a1a1a" stroke-width="1" fill="none"/>
<path d="M600.5 295.5 L607.5 295.5 L603.5 298.5 L600.5 295.5" stroke="#1a1a1a" stroke-width="0.9" fill="none"/>
<text x="608.75" y="281" class="l" font-size="3.75">C61</text>
<text x="608.75" y="285" class="l" font-size="3.75">0.1µf</text>
<path d="M615.5 273 L617 275 L618.5 271 L620 275 L621.5 271 L623 275 L624.5 273" stroke="#1a1a1a" stroke-width="1.1" fill="none"/>
<text x="617" y="269" class="l" font-size="3.75">R48</text>
<text x="617" y="278.5" class="l" font-size="3.75">12K</text>
<text x="633" y="261" class="l" font-size="3.75">VDD</text>
<path d="M634.25 267.75 L636.5 265.5 L638.75 267.75" stroke="#1a1a1a" stroke-width="0.9" fill="none"/>
<path d="M636.5 265.5 L636.5 273.5" stroke="#1a1a1a" stroke-width="1" fill="none"/>
<path d="M636.5 273.5 L636.5 283.5" stroke="#1a1a1a" stroke-width="1" fill="none"/>
<path d="M633.5 283.5 L639.5 283.5" stroke="#1a1a1a" stroke-width="1" fill="none"/>
<path d="M633.5 286.5 L639.5 286.5" stroke="#1a1a1a" stroke-width="1" fill="none"/>
<path d="M636.5 286.5 L636.5 295.5" stroke="#1a1a1a" stroke-width="1" fill="none"/>
<path d="M633.5 295.5 L639.5 295.5 L636.5 298.5 L633.5 295.5" stroke="#1a1a1a" stroke-width="0.9" fill="none"/>
<text x="641.25" y="281" class="l" font-size="3.75">C71</text>
<text x="641.25" y="285" class="l" font-size="3.75">0.1µf</text>
<path d="M569.5 300.5 L591.5 311.5 L569.5 322.5 L569.5 300.5" stroke="#1a1a1a" stroke-width="1" fill="none"/>
<text x="576.25" y="311.5" class="l" font-size="3.75">U8</text>
<text x="565.5" y="304" class="l" font-size="3.75">5</text>
<text x="565.5" y="313" class="l" font-size="3.75">6</text>
<text x="593" y="307.5" class="l" font-size="3.75">7</text>
<path d="M569.5 313.5 L561.5 313.5 L561.5 361.5" stroke="#1a1a1a" stroke-width="1" fill="none"/>
<circle cx="561.5" cy="334.5" r="1.7" fill="#1a1a1a"/>
<circle cx="561.5" cy="361.5" r="1.7" fill="#1a1a1a"/>
<circle cx="582.5" cy="334.5" r="1.7" fill="#1a1a1a"/>
<circle cx="582.5" cy="361.5" r="1.7" fill="#1a1a1a"/>
<path d="M561.5 334.5 L568.5 334.5" stroke="#1a1a1a" stroke-width="1" fill="none"/>
<path d="M568.5 332.5 L568.5 337.5" stroke="#1a1a1a" stroke-width="1" fill="none"/>
<path d="M571.5 332.5 L571.5 337.5" stroke="#1a1a1a" stroke-width="1" fill="none"/>
<path d="M571.5 334.5 L595.5 334.5 L595.5 311.5" stroke="#1a1a1a" stroke-width="1" fill="none"/>
<text x="567" y="329.5" class="l" font-size="3.75">C64</text>
<text x="566.25" y="341.5" class="l" font-size="3.75">100pF</text>
<path d="M591.5 311.5 L618.5 311.5" stroke="#1a1a1a" stroke-width="1.2" fill="none"/>
<circle cx="595.5" cy="311.5" r="1.7" fill="#1a1a1a"/>
<circle cx="607.5" cy="311.5" r="1.7" fill="#1a1a1a"/>
<path d="M618.5 308.5 L618.5 314.5" stroke="#1a1a1a" stroke-width="1" fill="none"/>
<path d="M621.5 308.5 L621.5 314.5" stroke="#1a1a1a" stroke-width="1" fill="none"/>
<text x="617" y="304.5" class="l" font-size="3.75">1.0µf</text>
<text x="617.5" y="317.5" class="l" font-size="3.75">C68</text>
<text x="623.25" y="307.5" class="l" font-size="3.75">+</text>
<path d="M621.5 311.5 L644.5 311.5" stroke="#1a1a1a" stroke-width="1.2" fill="none"/>
<circle cx="632.5" cy="311.5" r="1.7" fill="#1a1a1a"/>
<path d="M582.5 334.5 L582.5 342.5" stroke="#1a1a1a" stroke-width="1" fill="none"/>
<path d="M582.5 343 L584.5 344.67 L580.5 346.33 L584.5 348 L580.5 349.67 L584.5 351.33 L582.5 353" stroke="#1a1a1a" stroke-width="1.1" fill="none"/>
<path d="M582.5 353.5 L582.5 361.5" stroke="#1a1a1a" stroke-width="1" fill="none"/>
<text x="586.25" y="346.25" class="l" font-size="3.75">R91</text>
<text x="586.25" y="350.25" class="l" font-size="3.75">121K</text>
<path d="M607.5 311.5 L607.5 332.5" stroke="#1a1a1a" stroke-width="1" fill="none"/>
<rect x="603.5" y="332.5" width="12.5" height="17" stroke="#1a1a1a" stroke-width="0.9" fill="none"/>
<text x="605" y="335.5" class="l" font-size="3.75">X</text>
<text x="606.25" y="340.5" class="l" font-size="3.75">U9</text>
<text x="606.25" y="347.5" class="l" font-size="3.75">Y</text>
<text x="611.25" y="328.75" class="l" font-size="3.75">1</text>
<text x="619.5" y="328.75" class="l" font-size="3.75">13</text>
<text x="610" y="353" class="l" font-size="3.75">2</text>
<path d="M616.5 332.5 L616.5 323.5 L627.5 323.5 L627.5 356.5 L650.5 356.5" stroke="#1a1a1a" stroke-width="1" fill="none"/>
<path d="M632.5 311.5 L632.5 335.5 L638.5 335.5" stroke="#1a1a1a" stroke-width="1" fill="none"/>
<path d="M610.5 349.5 L610.5 361.5" stroke="#1a1a1a" stroke-width="1" fill="none"/>
<path d="M492.5 358.5 L492.5 363.5" stroke="#1a1a1a" stroke-width="1" fill="none"/>
<path d="M495.5 358.5 L495.5 363.5" stroke="#1a1a1a" stroke-width="1" fill="none"/>
<text x="491.25" y="355" class="l" font-size="3.75">C62</text>
<text x="488.75" y="367.5" class="l" font-size="3.75">4700pF</text>
<path d="M495.5 361.5 L522.5 361.5" stroke="#1a1a1a" stroke-width="1" fill="none"/>
<path d="M523 361.25 L524.5 363.25 L526 359.25 L527.5 363.25 L529 359.25 L530.5 363.25 L532 361.25" stroke="#1a1a1a" stroke-width="1.1" fill="none"/>
<path d="M532.5 361.5 L590.5 361.5" stroke="#1a1a1a" stroke-width="1" fill="none"/>
<text x="525" y="356.25" class="l" font-size="3.75">R47</text>
<text x="523.75" y="367" class="l" font-size="3.75">6.81K</text>
<path d="M590.5 361.25 L592 363.25 L593.5 359.25 L595 363.25 L596.5 359.25 L598 363.25 L599.5 361.25" stroke="#1a1a1a" stroke-width="1.1" fill="none"/>
<path d="M599.5 361.5 L610.5 361.5" stroke="#1a1a1a" stroke-width="1" fill="none"/>
<text x="592.5" y="356.25" class="l" font-size="3.75">R88</text>
<text x="591.25" y="367" class="l" font-size="3.75">12.7K</text>
<path d="M350.5 327.5 L510.5 327.5" stroke="#1a1a1a" stroke-width="1.2" fill="none"/>
<path d="M350.5 373.5 L435.5 373.5" stroke="#1a1a1a" stroke-width="1.2" fill="none"/>
<circle cx="363.5" cy="327.5" r="1.7" fill="#1a1a1a"/>
<circle cx="380.5" cy="327.5" r="1.7" fill="#1a1a1a"/>
<circle cx="397.5" cy="327.5" r="1.7" fill="#1a1a1a"/>
<circle cx="418.5" cy="327.5" r="1.7" fill="#1a1a1a"/>
<circle cx="435.5" cy="327.5" r="1.7" fill="#1a1a1a"/>
<circle cx="456.5" cy="327.5" r="1.7" fill="#1a1a1a"/>
<path d="M363.5 327.5 L363.5 335.5" stroke="#1a1a1a" stroke-width="1" fill="none"/>
<path d="M363.75 335 L365.75 336.67 L361.75 338.33 L365.75 340 L361.75 341.67 L365.75 343.33 L363.75 345" stroke="#1a1a1a" stroke-width="1.1" fill="none"/>
<path d="M363.5 345.5 L363.5 352.5 L342.5 352.5" stroke="#1a1a1a" stroke-width="1" fill="none"/>
<text x="367" y="338" class="l" font-size="3.75">R82</text>
<text x="367" y="342" class="l" font-size="3.75">909</text>
<path d="M380.5 327.5 L380.5 335.5" stroke="#1a1a1a" stroke-width="1" fill="none"/>
<path d="M380 335 L382 336.67 L378 338.33 L382 340 L378 341.67 L382 343.33 L380 345" stroke="#1a1a1a" stroke-width="1.1" fill="none"/>
<path d="M380.5 345.5 L380.5 355.5" stroke="#1a1a1a" stroke-width="1" fill="none"/>
<path d="M378.25 353.25 L380.5 355.5 L382.75 353.25" stroke="#1a1a1a" stroke-width="0.9" fill="none"/>
<text x="383.25" y="338" class="l" font-size="3.75">R79</text>
<text x="383.25" y="342" class="l" font-size="3.75">825</text>
<text x="376" y="357" class="l" font-size="3.75">6</text>
<text x="385" y="357.5" class="l" font-size="3.75">P5</text>
<path d="M397.5 327.5 L397.5 338.5" stroke="#1a1a1a" stroke-width="1" fill="none"/>
<path d="M394.5 338.5 L400.5 338.5" stroke="#1a1a1a" stroke-width="1" fill="none"/>
<path d="M394.5 341.5 L400.5 341.5" stroke="#1a1a1a" stroke-width="1" fill="none"/>
<path d="M397.5 341.5 L397.5 352.5 L418.5 352.5" stroke="#1a1a1a" stroke-width="1" fill="none"/>
<circle cx="397.5" cy="352.5" r="1.7" fill="#1a1a1a"/>
<path d="M397.5 352.5 L397.5 355.5" stroke="#1a1a1a" stroke-width="1" fill="none"/>
<path d="M395.25 353.25 L397.5 355.5 L399.75 353.25" stroke="#1a1a1a" stroke-width="0.9" fill="none"/>
<text x="401.25" y="338.75" class="l" font-size="3.75">C82</text>
<text x="400" y="342.75" class="l" font-size="3.75">22000pF</text>
<text x="393.5" y="357" class="l" font-size="3.75">7</text>
<text x="402.5" y="357.5" class="l" font-size="3.75">P5</text>
<path d="M418.5 327.5 L418.5 335.5" stroke="#1a1a1a" stroke-width="1" fill="none"/>
<path d="M418 335 L420 336.67 L416 338.33 L420 340 L416 341.67 L420 343.33 L418 345" stroke="#1a1a1a" stroke-width="1.1" fill="none"/>
<path d="M418.5 345.5 L418.5 352.5" stroke="#1a1a1a" stroke-width="1" fill="none"/>
<text x="421.25" y="338" class="l" font-size="3.75">R89</text>
<text x="421.25" y="342" class="l" font-size="3.75">681</text>
<path d="M435.5 327.5 L435.5 338.5" stroke="#1a1a1a" stroke-width="1" fill="none"/>
<path d="M432.5 338.5 L437.5 338.5" stroke="#1a1a1a" stroke-width="1" fill="none"/>
<path d="M432.5 341.5 L437.5 341.5" stroke="#1a1a1a" stroke-width="1" fill="none"/>
<path d="M435.5 341.5 L435.5 352.5 L456.5 352.5" stroke="#1a1a1a" stroke-width="1" fill="none"/>
<circle cx="435.5" cy="352.5" r="1.7" fill="#1a1a1a"/>
<path d="M435.5 352.5 L435.5 355.5" stroke="#1a1a1a" stroke-width="1" fill="none"/>
<path d="M433.25 353.25 L435.5 355.5 L437.75 353.25" stroke="#1a1a1a" stroke-width="0.9" fill="none"/>
<text x="438.75" y="338.75" class="l" font-size="3.75">C87</text>
<text x="438" y="342.75" class="l" font-size="3.75">1500pF</text>
<text x="431" y="357" class="l" font-size="3.75">9</text>
<text x="440" y="357.5" class="l" font-size="3.75">P5</text>
<path d="M456.5 327.5 L456.5 335.5" stroke="#1a1a1a" stroke-width="1" fill="none"/>
<path d="M456.25 335 L458.25 336.67 L454.25 338.33 L458.25 340 L454.25 341.67 L458.25 343.33 L456.25 345" stroke="#1a1a1a" stroke-width="1.1" fill="none"/>
<path d="M456.5 345.5 L456.5 352.5" stroke="#1a1a1a" stroke-width="1" fill="none"/>
<text x="460" y="338" class="l" font-size="3.75">R90</text>
<text x="460" y="342" class="l" font-size="3.75">681</text>
<path d="M378.25 368.75 L380.5 366.5 L382.75 368.75" stroke="#1a1a1a" stroke-width="0.9" fill="none"/>
<path d="M380.5 366.5 L380.5 373.5" stroke="#1a1a1a" stroke-width="1" fill="none"/>
<circle cx="380.5" cy="373.5" r="1.7" fill="#1a1a1a"/>
<text x="375.5" y="367" class="l" font-size="3.75">8</text>
<text x="383.5" y="368" class="l" font-size="3.75">P6</text>
<path d="M395.25 368.75 L397.5 366.5 L399.75 368.75" stroke="#1a1a1a" stroke-width="0.9" fill="none"/>
<path d="M397.5 366.5 L397.5 373.5" stroke="#1a1a1a" stroke-width="1" fill="none"/>
<circle cx="397.5" cy="373.5" r="1.7" fill="#1a1a1a"/>
<text x="393" y="367" class="l" font-size="3.75">5</text>
<text x="401" y="368" class="l" font-size="3.75">P6</text>
<path d="M433.25 368.75 L435.5 366.5 L437.75 368.75" stroke="#1a1a1a" stroke-width="0.9" fill="none"/>
<path d="M435.5 366.5 L435.5 373.5" stroke="#1a1a1a" stroke-width="1" fill="none"/>
<circle cx="435.5" cy="373.5" r="1.7" fill="#1a1a1a"/>
<text x="430.5" y="367" class="l" font-size="3.75">10</text>
<text x="438.5" y="368" class="l" font-size="3.75">P6</text>
<path d="M397.5 373.5 L397.5 377.5" stroke="#1a1a1a" stroke-width="1" fill="none"/>
<path d="M394.5 377.5 L400.5 377.5 L397.5 381.5 L394.5 377.5" stroke="#1a1a1a" stroke-width="0.9" fill="none"/>
<circle cx="411.5" cy="398.5" r="7.8" stroke="#000" stroke-width="2" fill="none"/>
<text x="411.5" y="402.8" font-size="12" font-family="Liberation Sans" font-weight="bold" text-anchor="middle" fill="#000" stroke="#000" stroke-width="0.6">D</text>
<path d="M413.8 384.9 L421.7 386 L423.6 393.9 L414.3 387.9 Z" stroke="#000" stroke-width="1.8" fill="#fff" stroke-linejoin="miter"/>
<path d="M657.5 285.5 L657.5 292.5" stroke="#1a1a1a" stroke-width="1" fill="none"/>
<path d="M657.5 292.5 L659.5 294.17 L655.5 295.83 L659.5 297.5 L655.5 299.17 L659.5 300.83 L657.5 302.5" stroke="#1a1a1a" stroke-width="1.1" fill="none"/>
<path d="M657.5 303.5 L657.5 311.5" stroke="#1a1a1a" stroke-width="1" fill="none"/>
<text x="660.5" y="296.5" class="l" font-size="3.75">R34</text>
<text x="660.5" y="300.5" class="l" font-size="3.75">31.6K</text>
<path d="M675.5 285.5 L675.5 296.5" stroke="#1a1a1a" stroke-width="1" fill="none"/>
<path d="M672.5 296.5 L677.5 296.5" stroke="#1a1a1a" stroke-width="1" fill="none"/>
<path d="M672.5 298.5 L677.5 298.5" stroke="#1a1a1a" stroke-width="1" fill="none"/>
<path d="M675.5 298.5 L675.5 311.5" stroke="#1a1a1a" stroke-width="1" fill="none"/>
<text x="678.75" y="294.5" class="l" font-size="3.75">C66</text>
<text x="678" y="298.5" class="l" font-size="3.75">470pF</text>
<path d="M656.5 311.5 L700.5 311.5" stroke="#1a1a1a" stroke-width="1" fill="none"/>
<circle cx="657.5" cy="311.5" r="1.7" fill="#1a1a1a"/>
<circle cx="666.5" cy="311.5" r="1.7" fill="#1a1a1a"/>
<circle cx="675.5" cy="311.5" r="1.7" fill="#1a1a1a"/>
<circle cx="683.5" cy="311.5" r="1.7" fill="#1a1a1a"/>
<path d="M644 311.25 L646 313.25 L648 309.25 L650 313.25 L652 309.25 L654 313.25 L656 311.25" stroke="#1a1a1a" stroke-width="1.1" fill="none"/>
<text x="646.5" y="306.5" class="l" font-size="3.75">R52</text>
<text x="645.5" y="316.5" class="l" font-size="3.75">10.0K</text>
<path d="M700.5 296.5 L721.5 306.5 L700.5 317.5 L700.5 296.5" stroke="#1a1a1a" stroke-width="1" fill="none"/>
<text x="707" y="305" class="l" font-size="3.75">U7</text>
<text x="695" y="300.5" class="l" font-size="3.75">12</text>
<text x="695" y="309" class="l" font-size="3.75">13</text>
<text x="722.5" y="303" class="l" font-size="3.75">14</text>
<text x="701" y="301.5" class="l" font-size="3.75">+</text>
<text x="701" y="311" class="l" font-size="3.75">-</text>
<path d="M692.5 290.5 L692.5 300.5 L700.5 300.5" stroke="#1a1a1a" stroke-width="1" fill="none"/>
<path d="M721.5 306.5 L730.5 306.5" stroke="#1a1a1a" stroke-width="1" fill="none"/>
<circle cx="730.5" cy="306.5" r="1.7" fill="#1a1a1a"/>
<path d="M730.5 285.5 L730.5 331.5 L718.5 331.5" stroke="#1a1a1a" stroke-width="1" fill="none"/>
<path d="M666.5 311.5 L666.5 317.5" stroke="#1a1a1a" stroke-width="1" fill="none"/>
<path d="M666.25 317.5 L668.25 319.17 L664.25 320.83 L668.25 322.5 L664.25 324.17 L668.25 325.83 L666.25 327.5" stroke="#1a1a1a" stroke-width="1.1" fill="none"/>
<path d="M666.5 328.5 L666.5 333.5 L660.5 333.5" stroke="#1a1a1a" stroke-width="1" fill="none"/>
<text x="669.5" y="321.5" class="l" font-size="3.75">R50</text>
<text x="669.5" y="325.5" class="l" font-size="3.75">12.7K</text>
<path d="M683.5 311.5 L683.5 317.5" stroke="#1a1a1a" stroke-width="1" fill="none"/>
<path d="M683.75 317.5 L685.75 319.17 L681.75 320.83 L685.75 322.5 L681.75 324.17 L685.75 325.83 L683.75 327.5" stroke="#1a1a1a" stroke-width="1.1" fill="none"/>
<path d="M683.5 328.5 L683.5 330.5 L698.5 330.5" stroke="#1a1a1a" stroke-width="1" fill="none"/>
<text x="687" y="321.5" class="l" font-size="3.75">R59</text>
<text x="687" y="325.5" class="l" font-size="3.75">14.7K</text>
<rect x="698.5" y="327.5" width="18.75" height="16.25" stroke="#1a1a1a" stroke-width="0.9" fill="none"/>
<text x="701.25" y="331.5" class="l" font-size="3.75">Y</text>
<text x="714.5" y="331.5" class="l" font-size="3.75">X</text>
<text x="705.5" y="336" class="l" font-size="3.75">U6</text>
<text x="700.75" y="341.5" class="l" font-size="3.75">ON/OFF</text>
<text x="693.75" y="330" class="l" font-size="3.75">10</text>
<text x="719.5" y="330" class="l" font-size="3.75">11</text>
<text x="720" y="340" class="l" font-size="3.75">12</text>
<path d="M717.5 339.5 L776.5 339.5 L776.5 450.5" stroke="#1a1a1a" stroke-width="1" fill="none"/>
<rect x="638.5" y="331.5" width="19.5" height="17" stroke="#1a1a1a" stroke-width="0.9" fill="none"/>
<text x="640" y="335.5" class="l" font-size="3.75">Y</text>
<text x="654.5" y="335.5" class="l" font-size="3.75">X</text>
<text x="644.5" y="341" class="l" font-size="3.75">U13</text>
<text x="639" y="346.5" class="l" font-size="3.75">ON/OFF</text>
<text x="659" y="333" class="l" font-size="3.75">8</text>
<text x="659" y="342" class="l" font-size="3.75">9</text>
<text x="634.5" y="334" class="l" font-size="3.75">9</text>
<path d="M657.5 344.5 L679.5 344.5 L679.5 352.5 L772.5 352.5 L772.5 450.5" stroke="#1a1a1a" stroke-width="1" fill="none"/>
<path d="M650.5 356.5 L767.5 356.5 L767.5 450.5" stroke="#1a1a1a" stroke-width="1" fill="none"/>
<path d="M650.5 373.5 L763.5 373.5 L763.5 450.5" stroke="#1a1a1a" stroke-width="1" fill="none"/>
<path d="M730.5 306.5 L741.5 306.5" stroke="#1a1a1a" stroke-width="1" fill="none"/>
<path d="M741.5 303.5 L741.5 309.5" stroke="#1a1a1a" stroke-width="1" fill="none"/>
<path d="M743.5 303.5 L743.5 309.5" stroke="#1a1a1a" stroke-width="1" fill="none"/>
<text x="739.5" y="300" class="l" font-size="3.75">1.0µf</text>
<text x="740.5" y="313" class="l" font-size="3.75">C37</text>
<text x="745.75" y="303" class="l" font-size="3.75">+</text>
<path d="M743.5 306.5 L759.5 306.5" stroke="#1a1a1a" stroke-width="1" fill="none"/>
<path d="M759.25 306.25 L760.75 308.25 L762.25 304.25 L763.75 308.25 L765.25 304.25 L766.75 308.25 L768.25 306.25" stroke="#1a1a1a" stroke-width="1.1" fill="none"/>
<path d="M768.5 306.5 L814.5 306.5" stroke="#1a1a1a" stroke-width="1" fill="none"/>
<text x="761.25" y="301.5" class="l" font-size="3.75">R36</text>
<text x="760" y="311.5" class="l" font-size="3.75">12.1K</text>
<circle cx="797.5" cy="306.5" r="1.7" fill="#1a1a1a"/>
<circle cx="814.5" cy="306.5" r="1.7" fill="#1a1a1a"/>
<path d="M797.5 281.5 L797.5 288.5" stroke="#1a1a1a" stroke-width="1" fill="none"/>
<path d="M797.5 288.75 L799.5 290.42 L795.5 292.08 L799.5 293.75 L795.5 295.42 L799.5 297.08 L797.5 298.75" stroke="#1a1a1a" stroke-width="1.1" fill="none"/>
<path d="M797.5 299.5 L797.5 306.5" stroke="#1a1a1a" stroke-width="1" fill="none"/>
<text x="800.75" y="291.25" class="l" font-size="3.75">R32</text>
<text x="800" y="295.25" class="l" font-size="3.75">31.6K</text>
<path d="M814.5 281.5 L814.5 291.5" stroke="#1a1a1a" stroke-width="1" fill="none"/>
<path d="M811.5 291.5 L816.5 291.5" stroke="#1a1a1a" stroke-width="1" fill="none"/>
<path d="M811.5 294.5 L816.5 294.5" stroke="#1a1a1a" stroke-width="1" fill="none"/>
<path d="M814.5 294.5 L814.5 335.5 L852.5 335.5" stroke="#1a1a1a" stroke-width="1" fill="none"/>
<text x="818.75" y="292" class="l" font-size="3.75">C32</text>
<text x="818" y="296" class="l" font-size="3.75">2200pF</text>
<polygon points="811.35,320.6 809.85,320 807.45,320.4 801.25,314.1 800.95,311 809.05,311.4" fill="#000" stroke="#000" stroke-width="0.5" stroke-linejoin="round"/>
<text x="792" y="323" font-size="6.25" font-family="Liberation Sans" font-weight="bold" text-anchor="start" fill="#1a1a1a" stroke="#1a1a1a" stroke-width="0.45">2.4V</text>
<rect x="852.5" y="306.5" width="39.25" height="50.5" stroke="#1a1a1a" stroke-width="1.1" fill="none"/>
<text x="853.75" y="310.5" class="l" font-size="3.75">PCI</text>
<text x="853.75" y="315" class="l" font-size="3.75">MCLKT</text>
<text x="853.75" y="319.25" class="l" font-size="3.75">MCLKR</text>
<text x="853.75" y="323.75" class="l" font-size="3.75">MCLKT</text>
<text x="853.75" y="326.75" class="l" font-size="3.75">TI</text>
<text x="853.75" y="331.25" class="l" font-size="3.75">TI_POS</text>
<text x="853.75" y="335.75" class="l" font-size="3.75">TI_NEG</text>
<text x="853.75" y="339.75" class="l" font-size="3.75">CR</text>
<text x="853.75" y="344.25" class="l" font-size="3.75">FBR</text>
<text x="853.75" y="348.25" class="l" font-size="3.75">FBT</text>
<text x="853.75" y="352.75" class="l" font-size="3.75">MU_A</text>
<text x="889.5" y="319.25" font-size="3.5" font-family="Liberation Sans" font-weight="bold" text-anchor="end" fill="#111" stroke="#111" stroke-width="0.1">TO</text>
<text x="889.5" y="324" font-size="3.5" font-family="Liberation Sans" font-weight="bold" text-anchor="end" fill="#111" stroke="#111" stroke-width="0.1">RO_POS</text>
<text x="889.5" y="327.25" font-size="3.5" font-family="Liberation Sans" font-weight="bold" text-anchor="end" fill="#111" stroke="#111" stroke-width="0.1">RO_NEG</text>
<text x="889.5" y="331" font-size="3.5" font-family="Liberation Sans" font-weight="bold" text-anchor="end" fill="#111" stroke="#111" stroke-width="0.1">PO_POS</text>
<text x="889.5" y="335.25" font-size="3.5" font-family="Liberation Sans" font-weight="bold" text-anchor="end" fill="#111" stroke="#111" stroke-width="0.1">PO_NEG</text>
<text x="889.5" y="339.5" font-size="3.5" font-family="Liberation Sans" font-weight="bold" text-anchor="end" fill="#111" stroke="#111" stroke-width="0.1">VAG</text>
<text x="889.5" y="344.75" font-size="3.5" font-family="Liberation Sans" font-weight="bold" text-anchor="end" fill="#111" stroke="#111" stroke-width="0.1">DT</text>
<text x="870" y="309" class="l" font-size="3.75">VDD</text>
<text x="867.5" y="355.75" class="l" font-size="3.75">VSS</text>
<text x="865.5" y="345" class="l" font-size="3.75">U10</text>
<text x="867" y="305" class="l" font-size="3.75">8</text>
<text x="868" y="360" class="l" font-size="3.75">15</text>
<text x="846.25" y="308.5" class="l" font-size="3.75">10</text>
<text x="893.75" y="317" class="l" font-size="3.75">17</text>
<path d="M868.5 282.5 L868.5 306.5" stroke="#1a1a1a" stroke-width="1" fill="none"/>
<circle cx="868.5" cy="289.5" r="1.7" fill="#1a1a1a"/>
<path d="M839.5 289.5 L900.5 289.5" stroke="#1a1a1a" stroke-width="1.1" fill="none"/>
<path d="M900.5 289.5 L900.5 296.5" stroke="#1a1a1a" stroke-width="1" fill="none"/>
<path d="M897.5 296.5 L902.5 296.5" stroke="#1a1a1a" stroke-width="1" fill="none"/>
<path d="M897.5 298.5 L902.5 298.5" stroke="#1a1a1a" stroke-width="1" fill="none"/>
<path d="M900.5 298.5 L900.5 311.5" stroke="#1a1a1a" stroke-width="1" fill="none"/>
<path d="M897.5 311.5 L902.5 311.5" stroke="#1a1a1a" stroke-width="0.9" fill="none"/>
<path d="M898.5 313.5 L901.5 313.5" stroke="#1a1a1a" stroke-width="0.9" fill="none"/>
<path d="M899.5 315.5 L900.5 315.5" stroke="#1a1a1a" stroke-width="0.9" fill="none"/>
<text x="885" y="295.5" class="l" font-size="3.75">C101</text>
<text x="885" y="299.5" class="l" font-size="3.75">0.1µf</text>
<path d="M839.5 289.5 L839.5 353.5 L852.5 353.5" stroke="#1a1a1a" stroke-width="1" fill="none"/>
<path d="M839.5 310.5 L852.5 310.5" stroke="#1a1a1a" stroke-width="1" fill="none"/>
<circle cx="839.5" cy="310.5" r="1.7" fill="#1a1a1a"/>
<path d="M843.5 313.5 L852.5 313.5" stroke="#1a1a1a" stroke-width="1" fill="none"/>
<path d="M843.5 313.5 L843.5 320.5" stroke="#1a1a1a" stroke-width="1" fill="none"/>
<circle cx="843.5" cy="320.5" r="1.7" fill="#1a1a1a"/>
<path d="M817.5 320.5 L852.5 320.5" stroke="#1a1a1a" stroke-width="1.2" fill="none"/>
<path d="M822.5 323.5 L852.5 323.5" stroke="#1a1a1a" stroke-width="1.2" fill="none"/>
<path d="M824.5 327.5 L852.5 327.5" stroke="#1a1a1a" stroke-width="1" fill="none"/>
<path d="M835.5 330.5 L852.5 330.5" stroke="#1a1a1a" stroke-width="1" fill="none"/>
<path d="M830.5 339.5 L852.5 339.5" stroke="#1a1a1a" stroke-width="1" fill="none"/>
<path d="M826.5 343.5 L852.5 343.5" stroke="#1a1a1a" stroke-width="1" fill="none"/>
<path d="M831.5 347.5 L852.5 347.5" stroke="#1a1a1a" stroke-width="1" fill="none"/>
<circle cx="831.5" cy="347.5" r="1.7" fill="#1a1a1a"/>
<path d="M833.5 351.5 L852.5 351.5" stroke="#1a1a1a" stroke-width="1" fill="none"/>
<path d="M817.5 320.5 L817.5 424.5 L950.5 424.5" stroke="#1a1a1a" stroke-width="1.1" fill="none"/>
<path d="M822.5 323.5 L822.5 420.5 L950.5 420.5" stroke="#1a1a1a" stroke-width="1.1" fill="none"/>
<path d="M826.5 343.5 L826.5 415.5 L950.5 415.5" stroke="#1a1a1a" stroke-width="1" fill="none"/>
<path d="M830.5 339.5 L830.5 411.5 L950.5 411.5" stroke="#1a1a1a" stroke-width="1" fill="none"/>
<path d="M824.5 327.5 L824.5 347.5 L831.5 347.5" stroke="#1a1a1a" stroke-width="1" fill="none"/>
<path d="M833.5 351.5 L833.5 355.5" stroke="#1a1a1a" stroke-width="1" fill="none"/>
<path d="M834.5 290.5 L834.5 386.5 L890.5 386.5" stroke="#1a1a1a" stroke-width="1.1" fill="none"/>
<circle cx="890.5" cy="386.5" r="1.7" fill="#1a1a1a"/>
<path d="M780.5 290.5 L780.5 436.5 L914.5 436.5 L914.5 450.5" stroke="#1a1a1a" stroke-width="1" fill="none"/>
<path d="M784.5 290.5 L784.5 432.5 L910.5 432.5 L910.5 450.5" stroke="#1a1a1a" stroke-width="1" fill="none"/>
<path d="M788.5 290.5 L788.5 428.5 L906.5 428.5 L906.5 450.5" stroke="#1a1a1a" stroke-width="1" fill="none"/>
<path d="M908.5 290.5 L908.5 318.5 L891.5 318.5" stroke="#1a1a1a" stroke-width="1.6" fill="none"/>
<path d="M910.5 290.5 L910.5 322.5 L891.5 322.5" stroke="#1a1a1a" stroke-width="1.2" fill="none"/>
<path d="M913.5 290.5 L913.5 326.5 L891.5 326.5" stroke="#1a1a1a" stroke-width="1" fill="none"/>
<path d="M916.5 265.5 L916.5 334.5 L891.5 334.5" stroke="#1a1a1a" stroke-width="1" fill="none"/>
<path d="M891.5 329.5 L896.5 329.5" stroke="#1a1a1a" stroke-width="1" fill="none"/>
<path d="M891.5 343.5 L950.5 343.5" stroke="#1a1a1a" stroke-width="1" fill="none"/>
<path d="M891.5 339.5 L900.5 339.5 L900.5 352.5 L940.5 352.5" stroke="#1a1a1a" stroke-width="1" fill="none"/>
<circle cx="900.5" cy="352.5" r="1.7" fill="#1a1a1a"/>
<circle cx="915.5" cy="352.5" r="1.7" fill="#1a1a1a"/>
<path d="M900.5 352.5 L900.5 355.5" stroke="#1a1a1a" stroke-width="1" fill="none"/>
<path d="M900 355.5 L902 357.17 L898 358.83 L902 360.5 L898 362.17 L902 363.83 L900 365.5" stroke="#1a1a1a" stroke-width="1.1" fill="none"/>
<path d="M900.5 366.5 L900.5 370.5 L890.5 370.5 L890.5 386.5" stroke="#1a1a1a" stroke-width="1" fill="none"/>
<text x="886.25" y="361.25" class="l" font-size="3.75">R33</text>
<text x="886.25" y="365.25" class="l" font-size="3.75">31.6K</text>
<path d="M915.5 352.5 L915.5 360.5" stroke="#1a1a1a" stroke-width="1" fill="none"/>
<path d="M912.5 360.5 L917.5 360.5" stroke="#1a1a1a" stroke-width="1" fill="none"/>
<path d="M912.5 362.5 L917.5 362.5" stroke="#1a1a1a" stroke-width="1" fill="none"/>
<path d="M915.5 362.5 L915.5 370.5 L900.5 370.5" stroke="#1a1a1a" stroke-width="1" fill="none"/>
<text x="920.5" y="360" class="l" font-size="3.75">C34</text>
<text x="920.5" y="366" class="l" font-size="3.75">22000pF</text>
<path d="M940.5 352.5 L940.5 360.5" stroke="#1a1a1a" stroke-width="1" fill="none"/>
<path d="M937.5 360.5 L942.5 360.5" stroke="#1a1a1a" stroke-width="1" fill="none"/>
<path d="M937.5 362.5 L942.5 362.5" stroke="#1a1a1a" stroke-width="1" fill="none"/>
<path d="M940.5 362.5 L940.5 390.5" stroke="#1a1a1a" stroke-width="1" fill="none"/>
<path d="M936.5 390.5 L943.5 390.5 L940.5 394.5 L936.5 390.5" stroke="#1a1a1a" stroke-width="0.9" fill="none"/>
<text x="945" y="360" class="l" font-size="3.75">C3</text>
<text x="945" y="364.5" class="l" font-size="3.75">0.1</text>
<path d="M890.5 386.5 L897.5 386.5" stroke="#1a1a1a" stroke-width="1" fill="none"/>
<path d="M898 386.25 L899.5 388.25 L901 384.25 L902.5 388.25 L904 384.25 L905.5 388.25 L907 386.25" stroke="#1a1a1a" stroke-width="1.1" fill="none"/>
<path d="M907.5 386.5 L922.5 386.5" stroke="#1a1a1a" stroke-width="1" fill="none"/>
<text x="898.75" y="381.5" class="l" font-size="3.75">12.1K</text>
<text x="900" y="392" class="l" font-size="3.75">R81</text>
<path d="M922.5 383.5 L922.5 389.5" stroke="#1a1a1a" stroke-width="1" fill="none"/>
<path d="M925.5 383.5 L925.5 389.5" stroke="#1a1a1a" stroke-width="1" fill="none"/>
<path d="M925.5 386.5 L940.5 386.5" stroke="#1a1a1a" stroke-width="1" fill="none"/>
<circle cx="940.5" cy="386.5" r="1.7" fill="#1a1a1a"/>
<text x="922.5" y="379.5" class="l" font-size="3.75">C35</text>
<text x="918.75" y="390" class="l" font-size="3.75">+</text>
<text x="924.5" y="392" class="l" font-size="3.75">1.0µf</text>
<path d="M868.5 357.5 L868.5 365.5" stroke="#1a1a1a" stroke-width="1" fill="none"/>
<path d="M865.5 365.5 L872.5 365.5 L868.5 368.5 L865.5 365.5" stroke="#1a1a1a" stroke-width="0.9" fill="none"/>
<path d="M961.5 282.5 L961.5 285.5 L1008.5 285.5 L1008.5 282.5" stroke="#1a1a1a" stroke-width="1" fill="none"/>
<path d="M978.5 282.5 L978.5 285.5" stroke="#1a1a1a" stroke-width="1" fill="none"/>
<path d="M990.5 282.5 L990.5 290.5" stroke="#1a1a1a" stroke-width="1" fill="none"/>
<path d="M987.5 290.5 L993.5 290.5 L990.5 293.5 L987.5 290.5" stroke="#1a1a1a" stroke-width="0.9" fill="none"/>
<circle cx="978.5" cy="285.5" r="1.7" fill="#1a1a1a"/>
<circle cx="990.5" cy="285.5" r="1.7" fill="#1a1a1a"/>
<path d="M1032.5 293.5 L1032.5 290.5 L1083.5 290.5" stroke="#1a1a1a" stroke-width="1.1" fill="none"/>
<path d="M1028.5 293.5 L1035.5 293.5 L1032.5 297.5 L1028.5 293.5" stroke="#1a1a1a" stroke-width="0.9" fill="none"/>
<circle cx="1070.5" cy="290.5" r="1.7" fill="#1a1a1a"/>
<circle cx="1083.5" cy="290.5" r="1.7" fill="#1a1a1a"/>
<path d="M1070.5 290.5 L1070.5 324.5" stroke="#1a1a1a" stroke-width="1.8" fill="none"/>
<path d="M1083.5 281.5 L1083.5 298.5" stroke="#1a1a1a" stroke-width="1" fill="none"/>
<path d="M1083.5 281.5 L1102.5 281.5" stroke="#1a1a1a" stroke-width="1" fill="none"/>
<path d="M1101.9 279.9 L1103.5 281.5 L1101.9 283.1" stroke="#1a1a1a" stroke-width="0.9" fill="none"/>
<text x="1086.6" y="280.2" class="l" font-size="3.75">A14</text>
<text x="1105.6" y="282" class="l" font-size="4.25">P4</text>
<path d="M1083.5 290.5 L1102.5 290.5" stroke="#1a1a1a" stroke-width="1" fill="none"/>
<path d="M1101.9 288.9 L1103.5 290.5 L1101.9 292.1" stroke="#1a1a1a" stroke-width="0.9" fill="none"/>
<text x="1086.6" y="289.2" class="l" font-size="3.75">B14</text>
<text x="1105.6" y="291" class="l" font-size="4.25">P4</text>
<path d="M1083.5 298.5 L1102.5 298.5" stroke="#1a1a1a" stroke-width="1" fill="none"/>
<path d="M1101.9 296.9 L1103.5 298.5 L1101.9 300.1" stroke="#1a1a1a" stroke-width="0.9" fill="none"/>
<text x="1086.6" y="297.2" class="l" font-size="3.75">C14</text>
<text x="1105.6" y="299" class="l" font-size="4.25">P4</text>
<circle cx="1083.5" cy="290.5" r="1.7" fill="#1a1a1a"/>
<path d="M1032.5 328.5 L1032.5 324.5 L1083.5 324.5" stroke="#1a1a1a" stroke-width="1.1" fill="none"/>
<path d="M1029.5 328.5 L1034.5 328.5" stroke="#1a1a1a" stroke-width="0.9" fill="none"/>
<path d="M1030.5 330.5 L1033.5 330.5" stroke="#1a1a1a" stroke-width="0.9" fill="none"/>
<path d="M1031.5 332.5 L1032.5 332.5" stroke="#1a1a1a" stroke-width="0.9" fill="none"/>
<circle cx="1070.5" cy="324.5" r="1.7" fill="#1a1a1a"/>
<circle cx="1083.5" cy="324.5" r="1.7" fill="#1a1a1a"/>
<path d="M1083.5 315.5 L1083.5 332.5" stroke="#1a1a1a" stroke-width="1" fill="none"/>
<path d="M1083.5 315.5 L1102.5 315.5" stroke="#1a1a1a" stroke-width="1" fill="none"/>
<path d="M1101.9 313.9 L1103.5 315.5 L1101.9 317.1" stroke="#1a1a1a" stroke-width="0.9" fill="none"/>
<text x="1086.6" y="314.2" class="l" font-size="3.75">A2</text>
<text x="1105.6" y="316" class="l" font-size="4.25">P4</text>
<path d="M1083.5 324.5 L1102.5 324.5" stroke="#1a1a1a" stroke-width="1" fill="none"/>
<path d="M1101.9 322.9 L1103.5 324.5 L1101.9 326.1" stroke="#1a1a1a" stroke-width="0.9" fill="none"/>
<text x="1086.6" y="323.2" class="l" font-size="3.75">B2</text>
<text x="1105.6" y="325" class="l" font-size="4.25">P4</text>
<path d="M1083.5 332.5 L1102.5 332.5" stroke="#1a1a1a" stroke-width="1" fill="none"/>
<path d="M1101.9 330.9 L1103.5 332.5 L1101.9 334.1" stroke="#1a1a1a" stroke-width="0.9" fill="none"/>
<text x="1086.6" y="331.2" class="l" font-size="3.75">C2</text>
<text x="1105.6" y="333" class="l" font-size="4.25">P4</text>
<circle cx="1083.5" cy="324.5" r="1.7" fill="#1a1a1a"/>
<path d="M950.5 343.5 L1102.5 344.5" stroke="#1a1a1a" stroke-width="1" fill="none"/>
<path d="M1101.9 342.9 L1103.5 344.5 L1101.9 346.1" stroke="#1a1a1a" stroke-width="0.9" fill="none"/>
<text x="1094.4" y="342.4" class="l" font-size="3.75">A5</text>
<text x="1106" y="345.6" class="l" font-size="4.25">P4</text>
<path d="M950.5 411.5 L961.5 411.5 L961.5 362.5 L1102.5 362.5" stroke="#1a1a1a" stroke-width="1.1" fill="none"/>
<path d="M1101.9 360.9 L1103.5 362.5 L1101.9 364.1" stroke="#1a1a1a" stroke-width="0.9" fill="none"/>
<text x="1094.4" y="360" class="l" font-size="3.75">C6</text>
<text x="1106" y="363" class="l" font-size="4.25">P4</text>
<path d="M950.5 415.5 L970.5 415.5 L970.5 378.5 L1028.5 378.5" stroke="#1a1a1a" stroke-width="1.2" fill="none"/>
<circle cx="998.5" cy="378.5" r="1.7" fill="#1a1a1a"/>
<path d="M1027.2 378 L1028.8 380 L1030.4 376 L1032 380 L1033.6 376 L1035.2 380 L1036.8 378" stroke="#1a1a1a" stroke-width="1.1" fill="none"/>
<path d="M1036.5 378.5 L1102.5 378.5" stroke="#1a1a1a" stroke-width="1" fill="none"/>
<path d="M1101.9 376.9 L1103.5 378.5 L1101.9 380.1" stroke="#1a1a1a" stroke-width="0.9" fill="none"/>
<text x="1029" y="373.6" class="l" font-size="3.75">R106</text>
<text x="1030" y="383.2" class="l" font-size="3.75">560</text>
<text x="1094.4" y="376" class="l" font-size="3.75">B6</text>
<text x="1106" y="379" class="l" font-size="4.25">P4</text>
<path d="M998.5 378.5 L998.5 385.5" stroke="#1a1a1a" stroke-width="1" fill="none"/>
<path d="M995.5 384.5 L1001.5 384.5" stroke="#1a1a1a" stroke-width="1" fill="none"/>
<path d="M995.5 387.5 L1001.5 387.5" stroke="#1a1a1a" stroke-width="1" fill="none"/>
<path d="M998.5 387.5 L998.5 399.5" stroke="#1a1a1a" stroke-width="1" fill="none"/>
<path d="M995.5 399.5 L1000.5 399.5" stroke="#1a1a1a" stroke-width="0.9" fill="none"/>
<path d="M996.5 401.5 L999.5 401.5" stroke="#1a1a1a" stroke-width="0.9" fill="none"/>
<path d="M997.5 403.5 L998.5 403.5" stroke="#1a1a1a" stroke-width="0.9" fill="none"/>
<text x="1003.6" y="384.4" class="l" font-size="3.75">C105</text>
<text x="1003.6" y="388" class="l" font-size="3.75">10pF</text>
<circle cx="1128.5" cy="376.5" r="7.8" stroke="#000" stroke-width="2" fill="none"/>
<text x="1128.5" y="380.8" font-size="12" font-family="Liberation Sans" font-weight="bold" text-anchor="middle" fill="#000" stroke="#000" stroke-width="0.6">C</text>
<path d="M1112.4 366.3 L1121 364.5 L1120.2 368.1 L1115.2 373.5 L1111.5 374.9 Z" stroke="#000" stroke-width="1.8" fill="#fff" stroke-linejoin="miter"/>
<path d="M950.5 419.5 L978.5 419.5 L978.5 408.5 L1078.5 408.5" stroke="#1a1a1a" stroke-width="1.2" fill="none"/>
<circle cx="1062.5" cy="408.5" r="1.7" fill="#1a1a1a"/>
<path d="M1078.2 408 L1079.8 410 L1081.4 406 L1083 410 L1084.6 406 L1086.2 410 L1087.8 408" stroke="#1a1a1a" stroke-width="1.1" fill="none"/>
<path d="M1087.5 408.5 L1102.5 408.5" stroke="#1a1a1a" stroke-width="1" fill="none"/>
<path d="M1101.9 406.9 L1103.5 408.5 L1101.9 410.1" stroke="#1a1a1a" stroke-width="0.9" fill="none"/>
<text x="1079" y="403.6" class="l" font-size="3.75">R138</text>
<text x="1080" y="413.2" class="l" font-size="3.75">560</text>
<text x="1094.4" y="406" class="l" font-size="3.75">A1</text>
<text x="1106" y="409" class="l" font-size="4.25">P4</text>
<path d="M1062.5 408.5 L1062.5 422.5" stroke="#1a1a1a" stroke-width="1" fill="none"/>
<rect x="855.5" y="458.5" width="26.4" height="45" stroke="#1a1a1a" stroke-width="1.1" fill="none"/>
<text x="858" y="464.4" class="l" font-size="4.25">QE*</text>
<text x="858" y="469" class="l" font-size="4.25">RESET*</text>
<text x="858" y="477.8" class="l" font-size="4.25">S CLK</text>
<text x="858" y="482.4" class="l" font-size="4.25">L CLK</text>
<text x="858" y="491.4" class="l" font-size="4.25">A</text>
<text x="876.8" y="461" class="l" font-size="4.25">QA</text>
<text x="876.8" y="465.6" class="l" font-size="4.25">QB</text>
<text x="876.8" y="470" class="l" font-size="4.25">QC</text>
<text x="876.8" y="474.4" class="l" font-size="4.25">QD</text>
<text x="876.8" y="478.8" class="l" font-size="4.25">QE</text>
<text x="876.8" y="483.2" class="l" font-size="4.25">QF</text>
<text x="876.8" y="487.6" class="l" font-size="4.25">QG</text>
<text x="876.8" y="492" class="l" font-size="4.25">QH</text>
<text x="866" y="461.4" class="l" font-size="4.25">VDD</text>
<text x="872" y="498" class="l" font-size="4.25">QH*</text>
<text x="865" y="501.4" class="l" font-size="4.25">GND</text>
<text x="864.4" y="490" class="l" font-size="4.25">U11</text>
<text x="849" y="464" class="l" font-size="4.25">13</text>
<text x="849" y="468.4" class="l" font-size="4.25">10</text>
<text x="849" y="476.4" class="l" font-size="4.25">11</text>
<text x="849" y="480.4" class="l" font-size="4.25">12</text>
<text x="849" y="489.4" class="l" font-size="4.25">14</text>
<text x="883.2" y="461" class="l" font-size="4">15</text>
<text x="883.2" y="465.4" class="l" font-size="4">1</text>
<text x="883.2" y="469.8" class="l" font-size="4">2</text>
<text x="883.2" y="474.2" class="l" font-size="4">3</text>
<text x="883.2" y="478.6" class="l" font-size="4">4</text>
<text x="883.2" y="483" class="l" font-size="4">5</text>
<text x="883.2" y="487.4" class="l" font-size="4">6</text>
<text x="883.2" y="491.8" class="l" font-size="4">7</text>
<text x="883.2" y="499" class="l" font-size="4">9</text>
<text x="871" y="508" class="l" font-size="4">8</text>
<text x="870" y="455.6" class="l" font-size="4">16</text>
<text x="865.6" y="441.6" class="l" font-size="4.25">+D5V</text>
<path d="M866.9 447.1 L868.5 445.5 L870.1 447.1" stroke="#1a1a1a" stroke-width="0.9" fill="none"/>
<path d="M868.5 446.5 L868.5 458.5" stroke="#1a1a1a" stroke-width="1" fill="none"/>
<circle cx="868.5" cy="453.5" r="1.7" fill="#1a1a1a"/>
<path d="M868.5 453.5 L855.5 453.5 L855.5 449.5 L849.5 449.5" stroke="#1a1a1a" stroke-width="1" fill="none"/>
<path d="M846.5 446.5 L846.5 452.5" stroke="#1a1a1a" stroke-width="1" fill="none"/>
<path d="M849.5 446.5 L849.5 452.5" stroke="#1a1a1a" stroke-width="1" fill="none"/>
<text x="840" y="443.6" class="l" font-size="4.25">C109</text>
<text x="842" y="456.4" class="l" font-size="4.25">1.0µf</text>
<text x="850.6" y="447" class="l" font-size="4.25">+</text>
<path d="M847.5 449.5 L813.5 449.5 L813.5 470.5" stroke="#1a1a1a" stroke-width="1" fill="none"/>
<circle cx="813.5" cy="465.5" r="1.7" fill="#1a1a1a"/>
<path d="M813.6 470 L815.6 471.67 L811.6 473.33 L815.6 475 L811.6 476.67 L815.6 478.33 L813.6 480" stroke="#1a1a1a" stroke-width="1.1" fill="none"/>
<path d="M813.5 480.5 L813.5 486.5" stroke="#1a1a1a" stroke-width="1" fill="none"/>
<path d="M810.5 486.5 L816.5 486.5" stroke="#1a1a1a" stroke-width="0.9" fill="none"/>
<path d="M811.5 488.5 L815.5 488.5" stroke="#1a1a1a" stroke-width="0.9" fill="none"/>
<path d="M812.5 490.5 L814.5 490.5" stroke="#1a1a1a" stroke-width="0.9" fill="none"/>
<text x="817" y="475.6" class="l" font-size="4.25">R122</text>
<text x="817" y="479.6" class="l" font-size="4.25">10K</text>
<path d="M813.5 465.5 L855.5 465.5" stroke="#1a1a1a" stroke-width="1" fill="none"/>
<path d="M772.5 450.5 L772.5 524.5 L940.5 524.5 L940.5 461.5 L882.5 461.5" stroke="#1a1a1a" stroke-width="1" fill="none"/>
<path d="M776.5 450.5 L776.5 520.5 L893.5 520.5 L893.5 466.5 L882.5 466.5" stroke="#1a1a1a" stroke-width="1" fill="none"/>
<path d="M767.5 450.5 L767.5 528.5 L902.5 528.5 L902.5 470.5 L882.5 470.5" stroke="#1a1a1a" stroke-width="1.2" fill="none"/>
<path d="M906.5 450.5 L906.5 474.5 L882.5 474.5" stroke="#1a1a1a" stroke-width="1.2" fill="none"/>
<path d="M910.5 450.5 L910.5 479.5 L882.5 479.5" stroke="#1a1a1a" stroke-width="1.2" fill="none"/>
<path d="M914.5 450.5 L914.5 483.5 L882.5 483.5" stroke="#1a1a1a" stroke-width="1.2" fill="none"/>
<path d="M763.5 450.5 L763.5 533.5 L906.5 533.5 L906.5 488.5 L882.5 488.5" stroke="#1a1a1a" stroke-width="1.2" fill="none"/>
<path d="M855.5 469.5 L834.5 469.5 L834.5 550.5 L1102.5 550.5" stroke="#1a1a1a" stroke-width="1" fill="none"/>
<path d="M855.5 477.5 L839.5 477.5 L839.5 546.5 L969.5 546.5 L969.5 517.5 L980.5 517.5" stroke="#1a1a1a" stroke-width="1" fill="none"/>
<path d="M855.5 482.5 L843.5 482.5 L843.5 542.5 L961.5 542.5 L961.5 487.5 L980.5 487.5" stroke="#1a1a1a" stroke-width="1" fill="none"/>
<path d="M855.5 491.5 L848.5 491.5 L848.5 538.5 L952.5 538.5 L952.5 458.5 L980.5 458.5" stroke="#1a1a1a" stroke-width="1" fill="none"/>
<path d="M868.5 503.5 L868.5 511.5" stroke="#1a1a1a" stroke-width="1" fill="none"/>
<path d="M865.5 511.5 L871.5 511.5" stroke="#1a1a1a" stroke-width="0.9" fill="none"/>
<path d="M866.5 513.5 L870.5 513.5" stroke="#1a1a1a" stroke-width="0.9" fill="none"/>
<path d="M867.5 515.5 L869.5 515.5" stroke="#1a1a1a" stroke-width="0.9" fill="none"/>
<circle cx="896.5" cy="444.5" r="7.8" stroke="#000" stroke-width="2" fill="none"/>
<text x="896.5" y="448.8" font-size="12" font-family="Liberation Sans" font-weight="bold" text-anchor="middle" fill="#000" stroke="#000" stroke-width="0.6">A</text>
<path d="M881.5 446.8 L885.4 447 L889.9 451.3 L891 456.3 L883.9 454.8 Z" stroke="#000" stroke-width="1.8" fill="#fff" stroke-linejoin="miter"/>
<path d="M950.5 424.5 L1027.5 424.5" stroke="#1a1a1a" stroke-width="1.2" fill="none"/>
<path d="M1027.45 424.23 L1028.98 426.32 L1030.52 422.13 L1032.05 426.32 L1033.58 422.13 L1035.12 426.32 L1036.65 424.23" stroke="#1a1a1a" stroke-width="1.1" fill="none"/>
<path d="M1036.5 424.5 L1101.5 424.5" stroke="#1a1a1a" stroke-width="1" fill="none"/>
<path d="M1100.83 422.83 L1102.5 424.5 L1100.83 426.17" stroke="#1a1a1a" stroke-width="0.9" fill="none"/>
<circle cx="998.5" cy="424.5" r="1.7" fill="#1a1a1a"/>
<path d="M998.5 424.5 L998.5 430.5" stroke="#1a1a1a" stroke-width="1" fill="none"/>
<path d="M995.5 430.5 L1001.5 430.5" stroke="#1a1a1a" stroke-width="1" fill="none"/>
<path d="M995.5 433.5 L1001.5 433.5" stroke="#1a1a1a" stroke-width="1" fill="none"/>
<path d="M998.5 433.5 L998.5 445.5" stroke="#1a1a1a" stroke-width="1" fill="none"/>
<path d="M995.5 445.5 L1001.5 445.5" stroke="#1a1a1a" stroke-width="0.9" fill="none"/>
<path d="M996.5 448.5 L1000.5 448.5" stroke="#1a1a1a" stroke-width="0.9" fill="none"/>
<path d="M997.5 450.5 L999.5 450.5" stroke="#1a1a1a" stroke-width="0.9" fill="none"/>
<text x="1003.81" y="430.92" class="l" font-size="4">C104</text>
<text x="1003.81" y="434.69" class="l" font-size="4">100pF</text>
<text x="1028.91" y="420.46" class="l" font-size="4">R107</text>
<text x="1029.96" y="430.5" class="l" font-size="4">560</text>
<text x="1093.77" y="422.55" class="l" font-size="4">C1</text>
<text x="1106.32" y="425.48" class="l" font-size="4.25">P4</text>
<circle cx="998.5" cy="458.5" r="1.7" fill="#1a1a1a"/>
<path d="M979.5 458.5 L1027.5 458.5" stroke="#1a1a1a" stroke-width="1" fill="none"/>
<path d="M1027.45 458 L1028.98 460.09 L1030.52 455.91 L1032.05 460.09 L1033.58 455.91 L1035.12 460.09 L1036.65 458" stroke="#1a1a1a" stroke-width="1.1" fill="none"/>
<path d="M1036.5 458.5 L1101.5 458.5" stroke="#1a1a1a" stroke-width="1" fill="none"/>
<path d="M998.5 458.5 L998.5 464.5" stroke="#1a1a1a" stroke-width="1" fill="none"/>
<path d="M995.5 464.5 L1001.5 464.5" stroke="#1a1a1a" stroke-width="1" fill="none"/>
<path d="M995.5 466.5 L1001.5 466.5" stroke="#1a1a1a" stroke-width="1" fill="none"/>
<path d="M998.5 466.5 L998.5 478.5" stroke="#1a1a1a" stroke-width="1" fill="none"/>
<path d="M995.5 479.5 L1001.5 479.5" stroke="#1a1a1a" stroke-width="0.9" fill="none"/>
<path d="M996.5 481.5 L1000.5 481.5" stroke="#1a1a1a" stroke-width="0.9" fill="none"/>
<path d="M997.5 483.5 L999.5 483.5" stroke="#1a1a1a" stroke-width="0.9" fill="none"/>
<path d="M1100.83 456.83 L1102.5 458.5 L1100.83 460.17" stroke="#1a1a1a" stroke-width="0.9" fill="none"/>
<text x="1003.81" y="464.69" class="l" font-size="4">C97</text>
<text x="1003.81" y="468.46" class="l" font-size="4">10pF</text>
<text x="1028.91" y="454.23" class="l" font-size="4">R98</text>
<text x="1029.96" y="464.28" class="l" font-size="4">560</text>
<text x="1093.77" y="456.33" class="l" font-size="4">A7</text>
<text x="1106.32" y="459.26" class="l" font-size="4.25">P4</text>
<circle cx="998.5" cy="487.5" r="1.7" fill="#1a1a1a"/>
<path d="M979.5 487.5 L1027.5 487.5" stroke="#1a1a1a" stroke-width="1" fill="none"/>
<path d="M1027.45 487 L1028.98 489.09 L1030.52 484.91 L1032.05 489.09 L1033.58 484.91 L1035.12 489.09 L1036.65 487" stroke="#1a1a1a" stroke-width="1.1" fill="none"/>
<path d="M1036.5 487.5 L1101.5 487.5" stroke="#1a1a1a" stroke-width="1" fill="none"/>
<path d="M998.5 487.5 L998.5 493.5" stroke="#1a1a1a" stroke-width="1" fill="none"/>
<path d="M995.5 493.5 L1001.5 493.5" stroke="#1a1a1a" stroke-width="1" fill="none"/>
<path d="M995.5 495.5 L1001.5 495.5" stroke="#1a1a1a" stroke-width="1" fill="none"/>
<path d="M998.5 495.5 L998.5 507.5" stroke="#1a1a1a" stroke-width="1" fill="none"/>
<path d="M995.5 508.5 L1001.5 508.5" stroke="#1a1a1a" stroke-width="0.9" fill="none"/>
<path d="M996.5 510.5 L1000.5 510.5" stroke="#1a1a1a" stroke-width="0.9" fill="none"/>
<path d="M997.5 512.5 L999.5 512.5" stroke="#1a1a1a" stroke-width="0.9" fill="none"/>
<path d="M1100.83 485.83 L1102.5 487.5 L1100.83 489.17" stroke="#1a1a1a" stroke-width="0.9" fill="none"/>
<text x="1003.81" y="493.69" class="l" font-size="4">C99</text>
<text x="1003.81" y="497.46" class="l" font-size="4">10pF</text>
<text x="1028.91" y="483.23" class="l" font-size="4">R101</text>
<text x="1029.96" y="493.28" class="l" font-size="4">560</text>
<text x="1093.77" y="485.33" class="l" font-size="4">C7</text>
<text x="1106.32" y="488.26" class="l" font-size="4.25">P4</text>
<circle cx="998.5" cy="517.5" r="1.7" fill="#1a1a1a"/>
<path d="M979.5 517.5 L1027.5 517.5" stroke="#1a1a1a" stroke-width="1" fill="none"/>
<path d="M1027.45 517 L1028.98 519.09 L1030.52 514.91 L1032.05 519.09 L1033.58 514.91 L1035.12 519.09 L1036.65 517" stroke="#1a1a1a" stroke-width="1.1" fill="none"/>
<path d="M1036.5 517.5 L1101.5 517.5" stroke="#1a1a1a" stroke-width="1" fill="none"/>
<path d="M998.5 517.5 L998.5 523.5" stroke="#1a1a1a" stroke-width="1" fill="none"/>
<path d="M995.5 523.5 L1001.5 523.5" stroke="#1a1a1a" stroke-width="1" fill="none"/>
<path d="M995.5 525.5 L1001.5 525.5" stroke="#1a1a1a" stroke-width="1" fill="none"/>
<path d="M998.5 525.5 L998.5 537.5" stroke="#1a1a1a" stroke-width="1" fill="none"/>
<path d="M995.5 538.5 L1001.5 538.5" stroke="#1a1a1a" stroke-width="0.9" fill="none"/>
<path d="M996.5 540.5 L1000.5 540.5" stroke="#1a1a1a" stroke-width="0.9" fill="none"/>
<path d="M997.5 542.5 L999.5 542.5" stroke="#1a1a1a" stroke-width="0.9" fill="none"/>
<path d="M1100.83 515.83 L1102.5 517.5 L1100.83 519.17" stroke="#1a1a1a" stroke-width="0.9" fill="none"/>
<text x="1003.81" y="523.69" class="l" font-size="4">C98</text>
<text x="1003.81" y="527.46" class="l" font-size="4">10pF</text>
<text x="1028.91" y="513.23" class="l" font-size="4">R100</text>
<text x="1029.96" y="523.28" class="l" font-size="4">560</text>
<text x="1093.77" y="515.33" class="l" font-size="4">C8</text>
<text x="1106.32" y="518.26" class="l" font-size="4.25">P4</text>
<path d="M1062.5 422.5 L1062.5 435.5" stroke="#1a1a1a" stroke-width="1" fill="none"/>
<path d="M1059.5 435.5 L1065.5 435.5" stroke="#1a1a1a" stroke-width="1" fill="none"/>
<path d="M1059.5 438.5 L1065.5 438.5" stroke="#1a1a1a" stroke-width="1" fill="none"/>
<path d="M1062.5 438.5 L1062.5 449.5" stroke="#1a1a1a" stroke-width="1" fill="none"/>
<path d="M1059.5 450.5 L1064.5 450.5" stroke="#1a1a1a" stroke-width="0.9" fill="none"/>
<path d="M1060.5 452.5 L1063.5 452.5" stroke="#1a1a1a" stroke-width="0.9" fill="none"/>
<path d="M1061.5 454.5 L1062.5 454.5" stroke="#1a1a1a" stroke-width="0.9" fill="none"/>
<text x="1068.03" y="437.2" class="l" font-size="4">C106</text>
<text x="1068.03" y="440.96" class="l" font-size="4">390pF</text>
<path d="M1100.83 548.83 L1102.5 550.5 L1100.83 552.17" stroke="#1a1a1a" stroke-width="0.9" fill="none"/>
<text x="1093.77" y="547.87" class="l" font-size="4">B18</text>
<text x="1106.32" y="551" class="l" font-size="4.25">P4</text>
<circle cx="1128.5" cy="416.5" r="7.8" stroke="#000" stroke-width="2" fill="none"/>
<text x="1128.5" y="420.8" font-size="12" font-family="Liberation Sans" font-weight="bold" text-anchor="middle" fill="#000" stroke="#000" stroke-width="0.6">B</text>
<path d="M1112.4 406.3 L1121 404.5 L1120.2 408.1 L1115.2 413.5 L1111.5 414.9 Z" stroke="#000" stroke-width="1.8" fill="#fff" stroke-linejoin="miter"/>
<path d="M1112.4 426.7 L1121 428.5 L1120.2 424.9 L1115.2 419.5 L1111.5 418.1 Z" stroke="#000" stroke-width="1.8" fill="#fff" stroke-linejoin="miter"/>
<text x="173.25" y="526.25" class="l" font-size="3.75">VCC</text>
<path d="M173.25 533.75 L175.5 531.5 L177.75 533.75" stroke="#1a1a1a" stroke-width="0.9" fill="none"/>
<path d="M175.5 531.5 L175.5 546.5 L185.5 546.5" stroke="#1a1a1a" stroke-width="1" fill="none"/>
<rect x="185.5" y="542.5" width="18" height="17.5" stroke="#1a1a1a" stroke-width="0.9" fill="none"/>
<text x="186.5" y="545.75" class="l" font-size="3.75">ON/OFF</text>
<text x="191" y="551.5" class="l" font-size="3.75">U13</text>
<text x="186.5" y="555" class="l" font-size="3.75">X</text>
<text x="199" y="555" class="l" font-size="3.75">Y</text>
<text x="180.5" y="545.5" class="l" font-size="3.75">10</text>
<text x="181" y="553" class="l" font-size="3.75">11</text>
<text x="204.5" y="553" class="l" font-size="3.75">12</text>
<path d="M185.5 556.5 L175.5 556.5 L175.5 570.5" stroke="#1a1a1a" stroke-width="1" fill="none"/>
<path d="M172.5 570.5 L179.5 570.5 L175.5 573.5 L172.5 570.5" stroke="#1a1a1a" stroke-width="0.9" fill="none"/>
<path d="M203.5 555.5 L205.5 555.5" stroke="#1a1a1a" stroke-width="1" fill="none"/>
<text x="220" y="526.25" class="l" font-size="3.75">VCC</text>
<path d="M220.25 533.75 L222.5 531.5 L224.75 533.75" stroke="#1a1a1a" stroke-width="0.9" fill="none"/>
<path d="M222.5 531.5 L222.5 546.5 L231.5 546.5" stroke="#1a1a1a" stroke-width="1" fill="none"/>
<rect x="231.5" y="542.5" width="18" height="17.5" stroke="#1a1a1a" stroke-width="0.9" fill="none"/>
<text x="232.75" y="545.75" class="l" font-size="3.75">ON/OFF</text>
<text x="237.25" y="551.5" class="l" font-size="3.75">U13</text>
<text x="232.75" y="555" class="l" font-size="3.75">X</text>
<text x="245.25" y="555" class="l" font-size="3.75">Y</text>
<text x="226.75" y="545.5" class="l" font-size="3.75">3</text>
<text x="227.25" y="553" class="l" font-size="3.75">4</text>
<text x="250.75" y="553" class="l" font-size="3.75">3</text>
<path d="M231.5 556.5 L222.5 556.5 L222.5 570.5" stroke="#1a1a1a" stroke-width="1" fill="none"/>
<path d="M219.5 570.5 L225.5 570.5 L222.5 573.5 L219.5 570.5" stroke="#1a1a1a" stroke-width="0.9" fill="none"/>
<path d="M249.5 555.5 L251.5 555.5" stroke="#1a1a1a" stroke-width="1" fill="none"/>
<text x="266.25" y="526.25" class="l" font-size="3.75">VCC</text>
<path d="M266.25 533.75 L268.5 531.5 L270.75 533.75" stroke="#1a1a1a" stroke-width="0.9" fill="none"/>
<path d="M268.5 531.5 L268.5 546.5 L277.5 546.5" stroke="#1a1a1a" stroke-width="1" fill="none"/>
<rect x="277.5" y="542.5" width="18" height="17.5" stroke="#1a1a1a" stroke-width="0.9" fill="none"/>
<text x="279" y="545.75" class="l" font-size="3.75">ON/OFF</text>
<text x="283.5" y="551.5" class="l" font-size="3.75">U9</text>
<text x="279" y="555" class="l" font-size="3.75">X</text>
<text x="291.5" y="555" class="l" font-size="3.75">Y</text>
<text x="273" y="545.5" class="l" font-size="3.75">5</text>
<text x="273.5" y="553" class="l" font-size="3.75">6</text>
<text x="297" y="553" class="l" font-size="3.75">8</text>
<path d="M277.5 556.5 L268.5 556.5 L268.5 570.5" stroke="#1a1a1a" stroke-width="1" fill="none"/>
<path d="M265.5 570.5 L272.5 570.5 L268.5 573.5 L265.5 570.5" stroke="#1a1a1a" stroke-width="0.9" fill="none"/>
<path d="M295.5 555.5 L298.5 555.5" stroke="#1a1a1a" stroke-width="1" fill="none"/>
<path d="M336.5 541.5 L357.5 551.5 L336.5 561.5 L336.5 541.5" stroke="#1a1a1a" stroke-width="1" fill="none"/>
<text x="343" y="552.5" class="l" font-size="3.75">U8</text>
<text x="330.5" y="545.5" class="l" font-size="3.75">10</text>
<text x="330.5" y="553.5" class="l" font-size="3.75">13</text>
<text x="359.5" y="548" class="l" font-size="3.75">14</text>
<path d="M357.5 551.5 L361.5 551.5" stroke="#1a1a1a" stroke-width="1" fill="none"/>
<path d="M336.5 547.5 L327.5 547.5 L327.5 556.5 L336.5 556.5" stroke="#1a1a1a" stroke-width="1" fill="none"/>
<circle cx="327.5" cy="556.5" r="1.7" fill="#1a1a1a"/>
<path d="M327.5 556.5 L327.5 570.5" stroke="#1a1a1a" stroke-width="1" fill="none"/>
<path d="M324.5 570.5 L330.5 570.5 L327.5 573.5 L324.5 570.5" stroke="#1a1a1a" stroke-width="0.9" fill="none"/>
<text x="392" y="526.25" class="l" font-size="3.75">A+</text>
<path d="M393.25 533.75 L395.5 531.5 L397.75 533.75" stroke="#1a1a1a" stroke-width="0.9" fill="none"/>
<path d="M395.5 531.5 L395.5 544.5" stroke="#1a1a1a" stroke-width="1" fill="none"/>
<rect x="386.5" y="544.5" width="17" height="15.5" stroke="#1a1a1a" stroke-width="0.9" fill="none"/>
<text x="388" y="548.25" class="l" font-size="3.75">VCC</text>
<text x="393" y="553.25" class="l" font-size="3.75">U1</text>
<text x="388" y="558.25" class="l" font-size="3.75">VEE</text>
<text x="396.5" y="542" class="l" font-size="3.75">4</text>
<text x="396.5" y="563" class="l" font-size="3.75">11</text>
<path d="M395.5 560.5 L395.5 570.5" stroke="#1a1a1a" stroke-width="1" fill="none"/>
<path d="M391.5 570.5 L398.5 570.5 L395.5 573.5 L391.5 570.5" stroke="#1a1a1a" stroke-width="0.9" fill="none"/>
<text x="434.5" y="526.25" class="l" font-size="3.75">VDD</text>
<path d="M435.25 533.75 L437.5 531.5 L439.75 533.75" stroke="#1a1a1a" stroke-width="0.9" fill="none"/>
<path d="M437.5 531.5 L437.5 544.5" stroke="#1a1a1a" stroke-width="1" fill="none"/>
<rect x="429.5" y="544.5" width="17" height="15.5" stroke="#1a1a1a" stroke-width="0.9" fill="none"/>
<text x="430.5" y="548.25" class="l" font-size="3.75">VCC</text>
<text x="435.5" y="553.25" class="l" font-size="3.75">U8</text>
<text x="430.5" y="558.25" class="l" font-size="3.75">VEE</text>
<text x="439" y="542" class="l" font-size="3.75">4</text>
<text x="439" y="563" class="l" font-size="3.75">11</text>
<path d="M437.5 560.5 L437.5 570.5" stroke="#1a1a1a" stroke-width="1" fill="none"/>
<path d="M434.5 570.5 L440.5 570.5 L437.5 573.5 L434.5 570.5" stroke="#1a1a1a" stroke-width="0.9" fill="none"/>
<text x="489" y="526.25" class="l" font-size="3.75">VCC</text>
<path d="M490.25 533.75 L492.5 531.5 L494.75 533.75" stroke="#1a1a1a" stroke-width="0.9" fill="none"/>
<path d="M492.5 531.5 L492.5 544.5" stroke="#1a1a1a" stroke-width="1" fill="none"/>
<rect x="483.5" y="544.5" width="17" height="15.5" stroke="#1a1a1a" stroke-width="0.9" fill="none"/>
<text x="485" y="548.25" class="l" font-size="3.75">VCC</text>
<text x="490" y="553.25" class="l" font-size="3.75">U9</text>
<text x="485" y="558.25" class="l" font-size="3.75">VEE</text>
<text x="493.5" y="542" class="l" font-size="3.75">4</text>
<text x="493.5" y="563" class="l" font-size="3.75">11</text>
<path d="M492.5 560.5 L492.5 570.5" stroke="#1a1a1a" stroke-width="1" fill="none"/>
<path d="M488.5 570.5 L495.5 570.5 L492.5 573.5 L488.5 570.5" stroke="#1a1a1a" stroke-width="0.9" fill="none"/>
<text x="548.25" y="526.25" class="l" font-size="3.75">VDD</text>
<path d="M549.25 533.75 L551.5 531.5 L553.75 533.75" stroke="#1a1a1a" stroke-width="0.9" fill="none"/>
<path d="M551.5 531.5 L551.5 544.5" stroke="#1a1a1a" stroke-width="1" fill="none"/>
<rect x="542.5" y="544.5" width="17.5" height="15.5" stroke="#1a1a1a" stroke-width="0.9" fill="none"/>
<text x="544" y="548.25" class="l" font-size="3.75">VEE VDD</text>
<text x="549.25" y="553.25" class="l" font-size="3.75">U4</text>
<text x="544" y="558.25" class="l" font-size="3.75">GND</text>
<text x="552.75" y="542" class="l" font-size="3.75">16</text>
<text x="552.75" y="563" class="l" font-size="3.75">8</text>
<path d="M551.5 560.5 L551.5 570.5" stroke="#1a1a1a" stroke-width="1" fill="none"/>
<path d="M548.5 570.5 L554.5 570.5 L551.5 573.5 L548.5 570.5" stroke="#1a1a1a" stroke-width="0.9" fill="none"/>
<path d="M543.5 544.5 L543.5 538.5 L533.5 538.5 L533.5 564.5 L551.5 564.5" stroke="#1a1a1a" stroke-width="1" fill="none"/>
<circle cx="551.5" cy="564.5" r="1.7" fill="#1a1a1a"/>
<text x="606" y="526.25" class="l" font-size="3.75">VDD</text>
<path d="M607.25 533.75 L609.5 531.5 L611.75 533.75" stroke="#1a1a1a" stroke-width="0.9" fill="none"/>
<path d="M609.5 531.5 L609.5 544.5" stroke="#1a1a1a" stroke-width="1" fill="none"/>
<rect x="600.5" y="544.5" width="16.5" height="15.5" stroke="#1a1a1a" stroke-width="0.9" fill="none"/>
<text x="602.25" y="548.25" class="l" font-size="3.75">VCC</text>
<text x="607" y="553.25" class="l" font-size="3.75">U5</text>
<text x="602.25" y="558.25" class="l" font-size="3.75">GND</text>
<text x="610.5" y="542" class="l" font-size="3.75">14</text>
<text x="610.5" y="563" class="l" font-size="3.75">7</text>
<path d="M609.5 560.5 L609.5 570.5" stroke="#1a1a1a" stroke-width="1" fill="none"/>
<path d="M605.5 570.5 L612.5 570.5 L609.5 573.5 L605.5 570.5" stroke="#1a1a1a" stroke-width="0.9" fill="none"/>
<text x="663.5" y="526.25" class="l" font-size="3.75">VDD</text>
<path d="M664.25 533.75 L666.5 531.5 L668.75 533.75" stroke="#1a1a1a" stroke-width="0.9" fill="none"/>
<path d="M666.5 531.5 L666.5 544.5" stroke="#1a1a1a" stroke-width="1" fill="none"/>
<rect x="658.5" y="544.5" width="16.5" height="15.5" stroke="#1a1a1a" stroke-width="0.9" fill="none"/>
<text x="659.75" y="548.25" class="l" font-size="3.75">VCC</text>
<text x="664.5" y="553.25" class="l" font-size="3.75">U13</text>
<text x="659.75" y="558.25" class="l" font-size="3.75">GND</text>
<text x="668" y="542" class="l" font-size="3.75">14</text>
<text x="668" y="563" class="l" font-size="3.75">7</text>
<path d="M666.5 560.5 L666.5 570.5" stroke="#1a1a1a" stroke-width="1" fill="none"/>
<path d="M663.5 570.5 L669.5 570.5 L666.5 573.5 L663.5 570.5" stroke="#1a1a1a" stroke-width="0.9" fill="none"/>
<text x="972.5" y="44.7" font-family="Liberation Serif" font-weight="bold" font-size="18.6" textLength="178.3" lengthAdjust="spacingAndGlyphs" fill="#111" stroke="#111" stroke-width="0.3">EURO WIB MODULE</text>
<text x="1026.7" y="64.3" font-family="Liberation Serif" font-weight="bold" font-size="14" textLength="123.5" lengthAdjust="spacingAndGlyphs" fill="#111" stroke="#111" stroke-width="0.25">MODEL TTN5066A</text>
<rect x="871.3" y="650.8" width="241.7" height="14.6" fill="#0a0a0a"/>
<text x="894.7" y="661.2" font-family="Liberation Sans" font-weight="bold" font-size="9.8" textLength="195.4" lengthAdjust="spacingAndGlyphs" fill="#fff">TTN5066A 4-WIRE EURO WIB SCHEMATIC</text>
<text x="1023.5" y="717.1" font-family="Liberation Serif" font-size="9.6" textLength="65.6" lengthAdjust="spacingAndGlyphs" fill="#111" stroke="#111" stroke-width="0.2">68P81094E27-B</text>
<text x="1023.5" y="729" font-family="Liberation Serif" font-size="9.6" textLength="106.2" lengthAdjust="spacingAndGlyphs" fill="#111" stroke="#111" stroke-width="0.2">Schematics (Sheet 3 of 8)</text>
<text x="1023.5" y="740.8" font-family="Liberation Serif" font-size="9.6" textLength="40.7" lengthAdjust="spacingAndGlyphs" fill="#111" stroke="#111" stroke-width="0.2">01/05/97</text>
</svg>

</body></html>
